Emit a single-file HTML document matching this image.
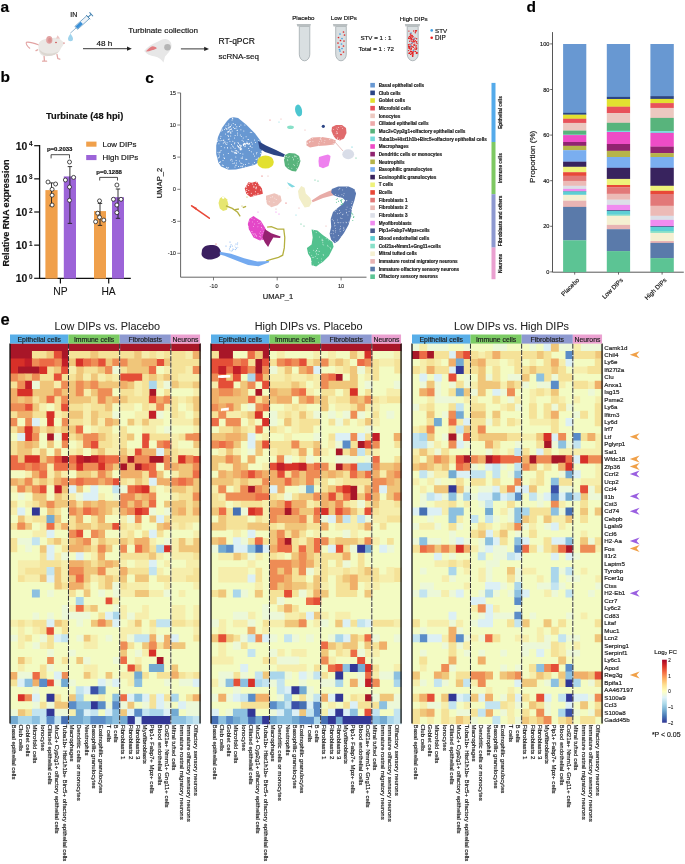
<!DOCTYPE html>
<html><head><meta charset="utf-8"><style>
html,body{margin:0;padding:0;background:#fff;}
body{width:685px;height:864px;overflow:hidden;}
svg{display:block;font-family:"Liberation Sans", sans-serif;will-change:transform;}
text{stroke:#1a1a1a;stroke-width:0.18px;}
</style></head><body>
<svg width="685" height="864" viewBox="0 0 685 864">
<text x="0.6" y="11.6" font-size="15.5" font-weight="bold" fill="#000">a</text>
<path d="M39 45 C35 43.5 30 41.5 26.5 42.3 C25.4 43.2 27.3 46.4 29.7 48.2" fill="none" stroke="#e2a2a2" stroke-width="1.1" stroke-linecap="round"/>
<path d="M44 55 L44.4 60.4 M42.6 61.2 L46.6 61.2 M57 54.5 L57.8 58.6 L59.8 59.2 M37.6 49.8 L36 50.6" fill="none" stroke="#e3a9a7" stroke-width="1.3" stroke-linecap="round"/>
<path d="M38.5 46 C38.5 42 41 40.2 44 39.6 C47 38.2 52 37.5 55.5 37.7 C59 38 62 40.5 64.3 43 C63.2 45.5 61.6 47 60.6 49 C59.5 52 56 55 51 55.6 C47 56.6 42.3 56.6 40.2 53.7 C38.8 51.6 38.3 49 38.5 46Z" fill="#ebe8e5"/>
<path d="M39 49 C40 53 43 56 48 56 C53 56 57 54 59.5 51 C56 53 50 54.5 45 53 C42 52 40 50.5 39 49Z" fill="#dcd7d1"/>
<path d="M56 38.4 L57.6 35.3 L60.2 38.8 Z" fill="#ecc6c4"/>
<ellipse cx="49.3" cy="39.9" rx="3.1" ry="3.8" fill="#e2a3a3"/>
<ellipse cx="49.8" cy="40.2" rx="1.7" ry="2.5" fill="#d99090"/>
<circle cx="56" cy="42.4" r="0.75" fill="#c83232"/>
<circle cx="64" cy="43.1" r="0.85" fill="#e6a0a0"/>
<g transform="translate(70.3,33.2) rotate(-42)"><line x1="0" y1="0" x2="8" y2="0" stroke="#5b8fb5" stroke-width="0.6"/><rect x="8" y="-2" width="16" height="4" fill="#eef3f8" stroke="#3f7fae" stroke-width="0.6"/><rect x="8.4" y="-1.6" width="7" height="3.2" fill="#3a90d8"/><line x1="24" y1="0" x2="28" y2="0" stroke="#3f7fae" stroke-width="1"/><line x1="24" y1="-2.8" x2="24" y2="2.8" stroke="#3f7fae" stroke-width="0.9"/><line x1="28.2" y1="-2.6" x2="28.2" y2="2.6" stroke="#3f7fae" stroke-width="1"/></g>
<path d="M70.5 33.8 C69 36 68 37.5 68 38.8 A2.5 2.5 0 0 0 73 38.8 C73 37.5 72 36 70.5 33.8Z" fill="#9fd3ec"/>
<text x="70.2" y="17.3" font-size="7" fill="#111">IN</text>
<line x1="83" y1="48.7" x2="128.5" y2="48.7" stroke="#222" stroke-width="0.9"/>
<path d="M131.8 48.7 L127 46.6 L127 50.8 Z" fill="#222"/>
<text x="96.4" y="45.9" font-size="8.1" fill="#111">48 h</text>
<text x="128.2" y="32.6" font-size="8.1" fill="#111">Turbinate collection</text>
<path d="M144.2 51 C147 47 152 44.3 157 42 C160 40.5 162 39.2 165.5 39 C169 39.5 171.5 42 171.5 45.5 C171.5 49.5 168.5 53 165 56.5 L163.5 62.5 C161 59 158.5 57 155 56.5 C150 56 146.5 54 144.2 51Z" fill="#e7e7e7"/>
<path d="M146.2 51 C148.5 48.5 151 46.5 152.5 46.3 C154.5 46.4 156.7 47.4 156.7 48.4 C154 49.7 150 51 146.2 51.6Z" fill="#e27c80"/>
<circle cx="167.5" cy="47.2" r="3.3" fill="#b5b5b5"/>
<line x1="180.9" y1="48.9" x2="205.5" y2="48.9" stroke="#222" stroke-width="0.9"/>
<path d="M209 48.9 L204.2 46.8 L204.2 51 Z" fill="#222"/>
<text x="218.6" y="44.2" font-size="8.5" fill="#111">RT-qPCR</text>
<text x="218.4" y="58.5" font-size="8.0" fill="#111">scRNA-seq</text>
<path d="M299.3 26.5 L299.3 54.25 A5.25 6.5625 0 0 0 309.8 54.25 L309.8 26.5 Z" fill="#d9dfe1" stroke="#9ea6a9" stroke-width="0.75"/>
<path d="M296.7 24 L310.9 24 L310.29999999999995 26.6 L297.3 26.6 Z" fill="#b9bfc1"/>
<path d="M335.7 26.5 L335.7 54.19999999999999 A5.300000000000011 6.625000000000014 0 0 0 346.3 54.19999999999999 L346.3 26.5 Z" fill="#d9dfe1" stroke="#9ea6a9" stroke-width="0.75"/>
<path d="M332.9 24 L347.5 24 L346.9 26.6 L333.5 26.6 Z" fill="#b9bfc1"/>
<path d="M407.2 26.5 L407.2 53.9 A5.5 6.875 0 0 0 418.2 53.9 L418.2 26.5 Z" fill="#d9dfe1" stroke="#9ea6a9" stroke-width="0.75"/>
<path d="M404.8 24 L420.1 24 L419.5 26.6 L405.40000000000003 26.6 Z" fill="#b9bfc1"/>
<circle cx="343.5" cy="32" r="0.85" fill="#e02828"/>
<circle cx="340" cy="34" r="0.85" fill="#4aa0e0"/>
<circle cx="344.5" cy="35" r="0.85" fill="#e02828"/>
<circle cx="338.5" cy="37.5" r="0.85" fill="#e02828"/>
<circle cx="342" cy="38.5" r="0.85" fill="#4aa0e0"/>
<circle cx="340.5" cy="40.5" r="0.85" fill="#e02828"/>
<circle cx="344" cy="41" r="0.85" fill="#e02828"/>
<circle cx="338" cy="43" r="0.85" fill="#e02828"/>
<circle cx="341.5" cy="44" r="0.85" fill="#4aa0e0"/>
<circle cx="343.5" cy="46" r="0.85" fill="#e02828"/>
<circle cx="339" cy="47" r="0.85" fill="#e02828"/>
<circle cx="342" cy="48.5" r="0.85" fill="#4aa0e0"/>
<circle cx="340" cy="51" r="0.85" fill="#4aa0e0"/>
<circle cx="343.5" cy="52" r="0.85" fill="#e02828"/>
<circle cx="341" cy="54.5" r="0.85" fill="#e02828"/>
<circle cx="339.5" cy="49.5" r="0.85" fill="#4aa0e0"/>
<circle cx="413.1" cy="36.7" r="0.72" fill="#e42222"/>
<circle cx="413.6" cy="40.1" r="0.72" fill="#e42222"/>
<circle cx="409.0" cy="46.8" r="0.72" fill="#e42222"/>
<circle cx="415.6" cy="30.8" r="0.72" fill="#e42222"/>
<circle cx="410.4" cy="37.2" r="0.72" fill="#e42222"/>
<circle cx="412.6" cy="56.4" r="0.72" fill="#e42222"/>
<circle cx="412.5" cy="52.2" r="0.72" fill="#e42222"/>
<circle cx="409.7" cy="47.1" r="0.72" fill="#e42222"/>
<circle cx="415.9" cy="47.0" r="0.72" fill="#e42222"/>
<circle cx="414.8" cy="44.1" r="0.72" fill="#e42222"/>
<circle cx="409.0" cy="48.0" r="0.72" fill="#e42222"/>
<circle cx="413.5" cy="50.2" r="0.72" fill="#e42222"/>
<circle cx="408.7" cy="38.3" r="0.72" fill="#e42222"/>
<circle cx="412.5" cy="53.0" r="0.72" fill="#e42222"/>
<circle cx="416.0" cy="49.2" r="0.72" fill="#e42222"/>
<circle cx="416.3" cy="49.1" r="0.72" fill="#e42222"/>
<circle cx="415.3" cy="40.8" r="0.72" fill="#e42222"/>
<circle cx="416.4" cy="42.1" r="0.72" fill="#e42222"/>
<circle cx="409.5" cy="53.4" r="0.72" fill="#e42222"/>
<circle cx="410.3" cy="34.0" r="0.72" fill="#e42222"/>
<circle cx="412.5" cy="55.6" r="0.72" fill="#e42222"/>
<circle cx="411.0" cy="46.8" r="0.72" fill="#e42222"/>
<circle cx="411.7" cy="43.7" r="0.72" fill="#e42222"/>
<circle cx="413.4" cy="39.6" r="0.72" fill="#e42222"/>
<circle cx="416.2" cy="45.7" r="0.72" fill="#e42222"/>
<circle cx="416.4" cy="48.2" r="0.72" fill="#e42222"/>
<circle cx="416.9" cy="52.8" r="0.72" fill="#e42222"/>
<circle cx="409.8" cy="48.0" r="0.72" fill="#e42222"/>
<circle cx="416.7" cy="52.9" r="0.72" fill="#e42222"/>
<circle cx="413.2" cy="54.0" r="0.72" fill="#e42222"/>
<circle cx="410.2" cy="49.1" r="0.72" fill="#e42222"/>
<circle cx="413.3" cy="52.1" r="0.72" fill="#e42222"/>
<circle cx="408.9" cy="37.9" r="0.72" fill="#e42222"/>
<circle cx="416.9" cy="52.7" r="0.72" fill="#e42222"/>
<circle cx="415.3" cy="32.8" r="0.72" fill="#e42222"/>
<circle cx="409.7" cy="41.2" r="0.72" fill="#e42222"/>
<circle cx="415.0" cy="38.1" r="0.72" fill="#e42222"/>
<circle cx="408.9" cy="53.2" r="0.72" fill="#e42222"/>
<circle cx="408.8" cy="46.5" r="0.72" fill="#e42222"/>
<circle cx="411.2" cy="49.2" r="0.72" fill="#e42222"/>
<circle cx="416.5" cy="53.4" r="0.72" fill="#e42222"/>
<circle cx="417.0" cy="43.6" r="0.72" fill="#e42222"/>
<circle cx="409.1" cy="38.6" r="0.72" fill="#e42222"/>
<circle cx="408.7" cy="46.1" r="0.72" fill="#e42222"/>
<circle cx="411.9" cy="35.6" r="0.72" fill="#e42222"/>
<circle cx="409.7" cy="46.4" r="0.72" fill="#e42222"/>
<circle cx="415.9" cy="31.6" r="0.72" fill="#e42222"/>
<circle cx="416.6" cy="38.7" r="0.72" fill="#e42222"/>
<circle cx="411.8" cy="53.8" r="0.72" fill="#e42222"/>
<circle cx="412.9" cy="42.5" r="0.72" fill="#e42222"/>
<circle cx="413.5" cy="47.2" r="0.72" fill="#e42222"/>
<circle cx="413.7" cy="45.0" r="0.72" fill="#e42222"/>
<circle cx="412.7" cy="55.0" r="0.72" fill="#e42222"/>
<circle cx="414.6" cy="41.7" r="0.72" fill="#e42222"/>
<circle cx="411.0" cy="36.7" r="0.72" fill="#e42222"/>
<circle cx="412.8" cy="55.9" r="0.72" fill="#e42222"/>
<circle cx="408.5" cy="44.8" r="0.72" fill="#e42222"/>
<circle cx="413.4" cy="41.3" r="0.72" fill="#e42222"/>
<circle cx="413.7" cy="31.0" r="0.72" fill="#e42222"/>
<circle cx="408.9" cy="46.9" r="0.72" fill="#e42222"/>
<circle cx="412.4" cy="46.8" r="0.72" fill="#e42222"/>
<circle cx="411.4" cy="48.2" r="0.72" fill="#e42222"/>
<circle cx="414.7" cy="48.9" r="0.72" fill="#e42222"/>
<circle cx="408.9" cy="31.1" r="0.72" fill="#e42222"/>
<circle cx="416.7" cy="48.1" r="0.72" fill="#e42222"/>
<circle cx="412.3" cy="37.0" r="0.72" fill="#e42222"/>
<circle cx="411.2" cy="45.9" r="0.72" fill="#e42222"/>
<circle cx="411.1" cy="40.0" r="0.72" fill="#e42222"/>
<circle cx="413.5" cy="40.1" r="0.72" fill="#e42222"/>
<circle cx="411.6" cy="38.3" r="0.72" fill="#e42222"/>
<circle cx="408.6" cy="50.6" r="0.72" fill="#e42222"/>
<circle cx="414.7" cy="45.3" r="0.72" fill="#e42222"/>
<circle cx="410.3" cy="38.6" r="0.72" fill="#e42222"/>
<circle cx="410.5" cy="51.4" r="0.72" fill="#e42222"/>
<circle cx="412.1" cy="35.4" r="0.72" fill="#e42222"/>
<circle cx="409.3" cy="48.6" r="0.72" fill="#e42222"/>
<circle cx="411.3" cy="38.9" r="0.72" fill="#e42222"/>
<circle cx="412.2" cy="52.2" r="0.72" fill="#e42222"/>
<circle cx="409.9" cy="52.7" r="0.72" fill="#e42222"/>
<circle cx="414.0" cy="39.3" r="0.72" fill="#e42222"/>
<circle cx="412.3" cy="53.5" r="0.72" fill="#e42222"/>
<circle cx="409.4" cy="36.4" r="0.72" fill="#e42222"/>
<circle cx="410.0" cy="44.3" r="0.72" fill="#e42222"/>
<circle cx="415.6" cy="51.5" r="0.72" fill="#e42222"/>
<circle cx="410.8" cy="35.3" r="0.72" fill="#e42222"/>
<circle cx="413.9" cy="51.5" r="0.72" fill="#e42222"/>
<circle cx="411.4" cy="51.5" r="0.72" fill="#e42222"/>
<circle cx="410.9" cy="33.9" r="0.72" fill="#e42222"/>
<circle cx="410.7" cy="51.1" r="0.72" fill="#e42222"/>
<circle cx="412.0" cy="39.5" r="0.72" fill="#e42222"/>
<circle cx="411.9" cy="41.4" r="0.72" fill="#e42222"/>
<circle cx="410.6" cy="54.4" r="0.72" fill="#e42222"/>
<circle cx="416.5" cy="30.6" r="0.72" fill="#e42222"/>
<circle cx="416.6" cy="53.4" r="0.72" fill="#e42222"/>
<circle cx="416.6" cy="41.8" r="0.72" fill="#e42222"/>
<circle cx="411" cy="33" r="0.75" fill="#4aa0e0"/>
<circle cx="414" cy="39" r="0.75" fill="#4aa0e0"/>
<circle cx="410.5" cy="46" r="0.75" fill="#4aa0e0"/>
<circle cx="413.5" cy="50.5" r="0.75" fill="#4aa0e0"/>
<circle cx="412" cy="43" r="0.75" fill="#4aa0e0"/>
<text x="292.2" y="20.3" font-size="6.2" fill="#111">Placebo</text>
<text x="330.8" y="20.3" font-size="6.1" fill="#111">Low DIPs</text>
<text x="399.8" y="20.6" font-size="6.2" fill="#111">High DIPs</text>
<text x="360.4" y="40.0" font-size="6.2" fill="#111">STV = 1 : 1</text>
<text x="358.4" y="51.0" font-size="6.2" fill="#111">Total = 1 : 72</text>
<circle cx="431.7" cy="30.4" r="1.3" fill="#3fa2e6"/>
<circle cx="431.7" cy="37.7" r="1.3" fill="#e82020"/>
<text x="435" y="32.7" font-size="6.2" fill="#111">STV</text>
<text x="435" y="40.0" font-size="6.4" fill="#111">DIP</text>
<text x="0.6" y="82.2" font-size="15.5" font-weight="bold" fill="#000">b</text>
<text x="46" y="118.7" font-size="9.3" font-weight="bold" fill="#111">Turbinate (48 hpi)</text>
<text transform="translate(9.1,213) rotate(-90)" font-size="9.07" font-weight="bold" text-anchor="middle" fill="#111">Relative RNA expression</text>
<path d="M39.6 145.0 V278.3 H130.8" fill="none" stroke="#111" stroke-width="1.3"/>
<line x1="34.2" y1="145.70" x2="39.6" y2="145.70" stroke="#111" stroke-width="1.2"/>
<text x="27.3" y="149.60" font-size="10.4" font-weight="bold" text-anchor="end" fill="#111" style="stroke-width:0.1px">10</text>
<text x="28.9" y="146.30" font-size="6.4" font-weight="bold" fill="#111" style="stroke-width:0.1px">4</text>
<line x1="34.2" y1="178.85" x2="39.6" y2="178.85" stroke="#111" stroke-width="1.2"/>
<text x="27.3" y="182.75" font-size="10.4" font-weight="bold" text-anchor="end" fill="#111" style="stroke-width:0.1px">10</text>
<text x="28.9" y="179.45" font-size="6.4" font-weight="bold" fill="#111" style="stroke-width:0.1px">3</text>
<line x1="34.2" y1="212.00" x2="39.6" y2="212.00" stroke="#111" stroke-width="1.2"/>
<text x="27.3" y="215.90" font-size="10.4" font-weight="bold" text-anchor="end" fill="#111" style="stroke-width:0.1px">10</text>
<text x="28.9" y="212.60" font-size="6.4" font-weight="bold" fill="#111" style="stroke-width:0.1px">2</text>
<line x1="34.2" y1="245.15" x2="39.6" y2="245.15" stroke="#111" stroke-width="1.2"/>
<text x="27.3" y="249.05" font-size="10.4" font-weight="bold" text-anchor="end" fill="#111" style="stroke-width:0.1px">10</text>
<text x="28.9" y="245.75" font-size="6.4" font-weight="bold" fill="#111" style="stroke-width:0.1px">1</text>
<line x1="34.2" y1="278.30" x2="39.6" y2="278.30" stroke="#111" stroke-width="1.2"/>
<text x="27.3" y="282.20" font-size="10.4" font-weight="bold" text-anchor="end" fill="#111" style="stroke-width:0.1px">10</text>
<text x="28.9" y="278.90" font-size="6.4" font-weight="bold" fill="#111" style="stroke-width:0.1px">0</text>
<line x1="60.4" y1="278.3" x2="60.4" y2="283.6" stroke="#111" stroke-width="1.2"/>
<line x1="108.7" y1="278.3" x2="108.7" y2="283.6" stroke="#111" stroke-width="1.2"/>
<text x="60.5" y="294.6" font-size="10.3" text-anchor="middle" fill="#111" style="stroke-width:0.06px">NP</text>
<text x="108.6" y="294.6" font-size="10.3" text-anchor="middle" fill="#111" style="stroke-width:0.06px">HA</text>
<rect x="45.4" y="190.1" width="12.2" height="88.5" fill="#f0a04b"/>
<rect x="63.8" y="176.4" width="12.2" height="102.2" fill="#9c64d8"/>
<rect x="94" y="211.1" width="12" height="67.5" fill="#f0a04b"/>
<rect x="112" y="197.2" width="12" height="81.4" fill="#9c64d8"/>
<path d="M51.5 182.9 V205.8 M49.3 182.9 H53.7 M49.3 205.8 H53.7" stroke="#222" stroke-width="0.9" fill="none"/>
<path d="M69.9 166.6 V223.4 M67.7 166.6 H72.10000000000001 M67.7 223.4 H72.10000000000001" stroke="#222" stroke-width="0.9" fill="none"/>
<path d="M100 203.4 V225.4 M97.8 203.4 H102.2 M97.8 225.4 H102.2" stroke="#222" stroke-width="0.9" fill="none"/>
<path d="M118 189 V218.3 M115.8 189 H120.2 M115.8 218.3 H120.2" stroke="#222" stroke-width="0.9" fill="none"/>
<circle cx="48" cy="182" r="2.0" fill="#fff" stroke="#222" stroke-width="0.8"/>
<circle cx="55.6" cy="184" r="2.0" fill="#fff" stroke="#222" stroke-width="0.8"/>
<circle cx="52.1" cy="189.3" r="2.0" fill="#fff" stroke="#222" stroke-width="0.8"/>
<circle cx="52.1" cy="195.2" r="2.0" fill="#fff" stroke="#222" stroke-width="0.8"/>
<circle cx="52.1" cy="205" r="2.0" fill="#fff" stroke="#222" stroke-width="0.8"/>
<circle cx="69.5" cy="162" r="2.0" fill="#fff" stroke="#222" stroke-width="0.8"/>
<circle cx="65.4" cy="180" r="2.0" fill="#fff" stroke="#222" stroke-width="0.8"/>
<circle cx="73.6" cy="177.4" r="2.0" fill="#fff" stroke="#222" stroke-width="0.8"/>
<circle cx="69.5" cy="187" r="2.0" fill="#fff" stroke="#222" stroke-width="0.8"/>
<circle cx="69.5" cy="200.3" r="2.0" fill="#fff" stroke="#222" stroke-width="0.8"/>
<circle cx="99.5" cy="200.9" r="2.0" fill="#fff" stroke="#222" stroke-width="0.8"/>
<circle cx="97.7" cy="213.2" r="2.0" fill="#fff" stroke="#222" stroke-width="0.8"/>
<circle cx="99.5" cy="217.3" r="2.0" fill="#fff" stroke="#222" stroke-width="0.8"/>
<circle cx="95.6" cy="221.7" r="2.0" fill="#fff" stroke="#222" stroke-width="0.8"/>
<circle cx="103.8" cy="220.1" r="2.0" fill="#fff" stroke="#222" stroke-width="0.8"/>
<circle cx="116.9" cy="185" r="2.0" fill="#fff" stroke="#222" stroke-width="0.8"/>
<circle cx="113.4" cy="199.3" r="2.0" fill="#fff" stroke="#222" stroke-width="0.8"/>
<circle cx="121" cy="199.3" r="2.0" fill="#fff" stroke="#222" stroke-width="0.8"/>
<circle cx="116.9" cy="205" r="2.0" fill="#fff" stroke="#222" stroke-width="0.8"/>
<circle cx="116.9" cy="212.6" r="2.0" fill="#fff" stroke="#222" stroke-width="0.8"/>
<path d="M51.1 158.4 V154.7 H69.5 V158.4" fill="none" stroke="#222" stroke-width="0.8"/>
<path d="M99.7 180.5 V177.4 H117.5 V180.5" fill="none" stroke="#222" stroke-width="0.8"/>
<text x="59.7" y="151.3" font-size="6.0" font-weight="bold" text-anchor="middle" fill="#111">p=0.2033</text>
<text x="109.1" y="173.8" font-size="6.0" font-weight="bold" text-anchor="middle" fill="#111">p=0.1288</text>
<rect x="86.2" y="141.6" width="10.3" height="5.1" fill="#f0a04b"/>
<rect x="86.2" y="155" width="10.3" height="5.1" fill="#9c64d8"/>
<text x="102.6" y="146.8" font-size="7.9" fill="#111">Low DIPs</text>
<text x="102.6" y="160.1" font-size="7.9" fill="#111">High DIPs</text>
<text x="145.3" y="82.5" font-size="15.5" font-weight="bold" fill="#000">c</text>
<path d="M180.6 92.9 V277.2 H366.5" fill="none" stroke="#555" stroke-width="0.9"/>
<line x1="177.3" y1="92.9" x2="180.6" y2="92.9" stroke="#555" stroke-width="0.75"/>
<text x="176.0" y="94.9" font-size="5.7" text-anchor="end" fill="#222" style="stroke-width:0.1px">15</text>
<line x1="177.3" y1="125.0" x2="180.6" y2="125.0" stroke="#555" stroke-width="0.75"/>
<text x="176.0" y="127.0" font-size="5.7" text-anchor="end" fill="#222" style="stroke-width:0.1px">10</text>
<line x1="177.3" y1="157.1" x2="180.6" y2="157.1" stroke="#555" stroke-width="0.75"/>
<text x="176.0" y="159.1" font-size="5.7" text-anchor="end" fill="#222" style="stroke-width:0.1px">5</text>
<line x1="177.3" y1="189.3" x2="180.6" y2="189.3" stroke="#555" stroke-width="0.75"/>
<text x="176.0" y="191.3" font-size="5.7" text-anchor="end" fill="#222" style="stroke-width:0.1px">0</text>
<line x1="177.3" y1="221.3" x2="180.6" y2="221.3" stroke="#555" stroke-width="0.75"/>
<text x="176.0" y="223.3" font-size="5.7" text-anchor="end" fill="#222" style="stroke-width:0.1px">-5</text>
<line x1="177.3" y1="253.3" x2="180.6" y2="253.3" stroke="#555" stroke-width="0.75"/>
<text x="176.0" y="255.3" font-size="5.7" text-anchor="end" fill="#222" style="stroke-width:0.1px">-10</text>
<line x1="213.5" y1="277.2" x2="213.5" y2="280.4" stroke="#555" stroke-width="0.75"/>
<text x="213.5" y="287.6" font-size="5.7" text-anchor="middle" fill="#222" style="stroke-width:0.1px">-10</text>
<line x1="277.2" y1="277.2" x2="277.2" y2="280.4" stroke="#555" stroke-width="0.75"/>
<text x="277.2" y="287.6" font-size="5.7" text-anchor="middle" fill="#222" style="stroke-width:0.1px">0</text>
<line x1="341.1" y1="277.2" x2="341.1" y2="280.4" stroke="#555" stroke-width="0.75"/>
<text x="341.1" y="287.6" font-size="5.7" text-anchor="middle" fill="#222" style="stroke-width:0.1px">10</text>
<text x="278" y="298.8" font-size="7.6" text-anchor="middle" fill="#222">UMAP_1</text>
<text transform="translate(162.3,183) rotate(-90)" font-size="7.6" text-anchor="middle" fill="#222">UMAP_2</text>
<path d="M233.7 117.2 L238.1 117.9 L246.1 124.5 L254.9 133.2 L260.7 141 L263 147 L261 155 L259 162 L254.9 164.7 L244.7 167.6 L236 169.5 L228.6 169.7 L221 166.5 L218.4 162.4 L216.2 154 L216.2 145.7 L218 137 L222 128 L227 121 L230 118Z" fill="#6898d2"/>
<path d="M230.9 125.1a0.5 0.5 0 1 0 1.0 0a0.5 0.5 0 1 0 -1.0 0M240.8 136.4a0.5 0.5 0 1 0 1.0 0a0.5 0.5 0 1 0 -1.0 0M218.4 143.8a0.5 0.5 0 1 0 1.0 0a0.5 0.5 0 1 0 -1.0 0M217.5 140.0a0.5 0.5 0 1 0 1.0 0a0.5 0.5 0 1 0 -1.0 0M235.6 160.6a0.5 0.5 0 1 0 1.0 0a0.5 0.5 0 1 0 -1.0 0M221.5 128.9a0.5 0.5 0 1 0 1.0 0a0.5 0.5 0 1 0 -1.0 0M245.1 167.0a0.5 0.5 0 1 0 1.0 0a0.5 0.5 0 1 0 -1.0 0M242.7 138.0a0.5 0.5 0 1 0 1.0 0a0.5 0.5 0 1 0 -1.0 0M230.1 160.0a0.5 0.5 0 1 0 1.0 0a0.5 0.5 0 1 0 -1.0 0M224.2 147.7a0.5 0.5 0 1 0 1.0 0a0.5 0.5 0 1 0 -1.0 0M245.6 136.8a0.5 0.5 0 1 0 1.0 0a0.5 0.5 0 1 0 -1.0 0M247.5 139.6a0.5 0.5 0 1 0 1.0 0a0.5 0.5 0 1 0 -1.0 0M230.4 147.9a0.5 0.5 0 1 0 1.0 0a0.5 0.5 0 1 0 -1.0 0M236.9 132.9a0.5 0.5 0 1 0 1.0 0a0.5 0.5 0 1 0 -1.0 0M252.9 153.9a0.5 0.5 0 1 0 1.0 0a0.5 0.5 0 1 0 -1.0 0M227.1 147.4a0.5 0.5 0 1 0 1.0 0a0.5 0.5 0 1 0 -1.0 0M240.3 163.1a0.5 0.5 0 1 0 1.0 0a0.5 0.5 0 1 0 -1.0 0M249.8 132.3a0.5 0.5 0 1 0 1.0 0a0.5 0.5 0 1 0 -1.0 0M235.3 156.9a0.5 0.5 0 1 0 1.0 0a0.5 0.5 0 1 0 -1.0 0M222.8 142.9a0.5 0.5 0 1 0 1.0 0a0.5 0.5 0 1 0 -1.0 0M217.5 152.3a0.5 0.5 0 1 0 1.0 0a0.5 0.5 0 1 0 -1.0 0M251.5 147.3a0.5 0.5 0 1 0 1.0 0a0.5 0.5 0 1 0 -1.0 0M248.2 148.4a0.5 0.5 0 1 0 1.0 0a0.5 0.5 0 1 0 -1.0 0M242.8 141.2a0.5 0.5 0 1 0 1.0 0a0.5 0.5 0 1 0 -1.0 0M237.9 152.1a0.5 0.5 0 1 0 1.0 0a0.5 0.5 0 1 0 -1.0 0M218.5 154.0a0.5 0.5 0 1 0 1.0 0a0.5 0.5 0 1 0 -1.0 0M233.8 152.3a0.5 0.5 0 1 0 1.0 0a0.5 0.5 0 1 0 -1.0 0M216.8 141.4a0.5 0.5 0 1 0 1.0 0a0.5 0.5 0 1 0 -1.0 0M218.5 157.5a0.5 0.5 0 1 0 1.0 0a0.5 0.5 0 1 0 -1.0 0M221.8 130.2a0.5 0.5 0 1 0 1.0 0a0.5 0.5 0 1 0 -1.0 0M234.0 162.9a0.5 0.5 0 1 0 1.0 0a0.5 0.5 0 1 0 -1.0 0M219.5 140.8a0.5 0.5 0 1 0 1.0 0a0.5 0.5 0 1 0 -1.0 0M241.4 163.6a0.5 0.5 0 1 0 1.0 0a0.5 0.5 0 1 0 -1.0 0M254.0 162.6a0.5 0.5 0 1 0 1.0 0a0.5 0.5 0 1 0 -1.0 0M228.7 139.0a0.5 0.5 0 1 0 1.0 0a0.5 0.5 0 1 0 -1.0 0M232.5 163.6a0.5 0.5 0 1 0 1.0 0a0.5 0.5 0 1 0 -1.0 0M223.9 129.4a0.5 0.5 0 1 0 1.0 0a0.5 0.5 0 1 0 -1.0 0M226.6 142.7a0.5 0.5 0 1 0 1.0 0a0.5 0.5 0 1 0 -1.0 0M243.3 131.0a0.5 0.5 0 1 0 1.0 0a0.5 0.5 0 1 0 -1.0 0M233.0 146.9a0.5 0.5 0 1 0 1.0 0a0.5 0.5 0 1 0 -1.0 0M260.3 153.5a0.5 0.5 0 1 0 1.0 0a0.5 0.5 0 1 0 -1.0 0M239.8 149.6a0.5 0.5 0 1 0 1.0 0a0.5 0.5 0 1 0 -1.0 0M257.8 158.1a0.5 0.5 0 1 0 1.0 0a0.5 0.5 0 1 0 -1.0 0M256.6 159.1a0.5 0.5 0 1 0 1.0 0a0.5 0.5 0 1 0 -1.0 0M234.1 138.1a0.5 0.5 0 1 0 1.0 0a0.5 0.5 0 1 0 -1.0 0M220.5 150.5a0.5 0.5 0 1 0 1.0 0a0.5 0.5 0 1 0 -1.0 0M225.5 125.7a0.5 0.5 0 1 0 1.0 0a0.5 0.5 0 1 0 -1.0 0M231.6 120.0a0.5 0.5 0 1 0 1.0 0a0.5 0.5 0 1 0 -1.0 0M220.4 136.3a0.5 0.5 0 1 0 1.0 0a0.5 0.5 0 1 0 -1.0 0M244.4 125.0a0.5 0.5 0 1 0 1.0 0a0.5 0.5 0 1 0 -1.0 0M227.5 135.4a0.5 0.5 0 1 0 1.0 0a0.5 0.5 0 1 0 -1.0 0M232.7 123.6a0.5 0.5 0 1 0 1.0 0a0.5 0.5 0 1 0 -1.0 0M237.5 142.6a0.5 0.5 0 1 0 1.0 0a0.5 0.5 0 1 0 -1.0 0M231.7 131.1a0.5 0.5 0 1 0 1.0 0a0.5 0.5 0 1 0 -1.0 0M240.4 124.9a0.5 0.5 0 1 0 1.0 0a0.5 0.5 0 1 0 -1.0 0M256.1 153.8a0.5 0.5 0 1 0 1.0 0a0.5 0.5 0 1 0 -1.0 0M227.9 136.5a0.5 0.5 0 1 0 1.0 0a0.5 0.5 0 1 0 -1.0 0M223.5 157.7a0.5 0.5 0 1 0 1.0 0a0.5 0.5 0 1 0 -1.0 0M240.6 158.1a0.5 0.5 0 1 0 1.0 0a0.5 0.5 0 1 0 -1.0 0M231.1 128.9a0.5 0.5 0 1 0 1.0 0a0.5 0.5 0 1 0 -1.0 0M255.6 159.5a0.5 0.5 0 1 0 1.0 0a0.5 0.5 0 1 0 -1.0 0M254.0 156.0a0.5 0.5 0 1 0 1.0 0a0.5 0.5 0 1 0 -1.0 0M226.3 144.4a0.5 0.5 0 1 0 1.0 0a0.5 0.5 0 1 0 -1.0 0M232.3 118.7a0.5 0.5 0 1 0 1.0 0a0.5 0.5 0 1 0 -1.0 0M227.8 153.6a0.5 0.5 0 1 0 1.0 0a0.5 0.5 0 1 0 -1.0 0M226.0 129.1a0.5 0.5 0 1 0 1.0 0a0.5 0.5 0 1 0 -1.0 0M224.9 127.9a0.5 0.5 0 1 0 1.0 0a0.5 0.5 0 1 0 -1.0 0M244.9 164.5a0.5 0.5 0 1 0 1.0 0a0.5 0.5 0 1 0 -1.0 0M255.0 142.4a0.5 0.5 0 1 0 1.0 0a0.5 0.5 0 1 0 -1.0 0M246.3 159.2a0.5 0.5 0 1 0 1.0 0a0.5 0.5 0 1 0 -1.0 0M219.7 151.9a0.5 0.5 0 1 0 1.0 0a0.5 0.5 0 1 0 -1.0 0M258.3 158.3a0.5 0.5 0 1 0 1.0 0a0.5 0.5 0 1 0 -1.0 0M250.8 142.3a0.5 0.5 0 1 0 1.0 0a0.5 0.5 0 1 0 -1.0 0M224.1 158.6a0.5 0.5 0 1 0 1.0 0a0.5 0.5 0 1 0 -1.0 0M231.3 159.2a0.5 0.5 0 1 0 1.0 0a0.5 0.5 0 1 0 -1.0 0M234.5 166.9a0.5 0.5 0 1 0 1.0 0a0.5 0.5 0 1 0 -1.0 0M258.0 159.5a0.5 0.5 0 1 0 1.0 0a0.5 0.5 0 1 0 -1.0 0M222.5 160.6a0.5 0.5 0 1 0 1.0 0a0.5 0.5 0 1 0 -1.0 0M232.1 146.0a0.5 0.5 0 1 0 1.0 0a0.5 0.5 0 1 0 -1.0 0M261.1 151.3a0.5 0.5 0 1 0 1.0 0a0.5 0.5 0 1 0 -1.0 0M240.3 166.2a0.5 0.5 0 1 0 1.0 0a0.5 0.5 0 1 0 -1.0 0M236.0 163.0a0.5 0.5 0 1 0 1.0 0a0.5 0.5 0 1 0 -1.0 0M227.5 132.6a0.5 0.5 0 1 0 1.0 0a0.5 0.5 0 1 0 -1.0 0M227.0 148.0a0.5 0.5 0 1 0 1.0 0a0.5 0.5 0 1 0 -1.0 0M227.8 139.2a0.5 0.5 0 1 0 1.0 0a0.5 0.5 0 1 0 -1.0 0M221.8 165.0a0.5 0.5 0 1 0 1.0 0a0.5 0.5 0 1 0 -1.0 0M232.3 141.3a0.5 0.5 0 1 0 1.0 0a0.5 0.5 0 1 0 -1.0 0M243.0 164.7a0.5 0.5 0 1 0 1.0 0a0.5 0.5 0 1 0 -1.0 0M235.4 165.4a0.5 0.5 0 1 0 1.0 0a0.5 0.5 0 1 0 -1.0 0M239.2 145.1a0.5 0.5 0 1 0 1.0 0a0.5 0.5 0 1 0 -1.0 0M236.3 126.8a0.5 0.5 0 1 0 1.0 0a0.5 0.5 0 1 0 -1.0 0M223.8 142.1a0.5 0.5 0 1 0 1.0 0a0.5 0.5 0 1 0 -1.0 0M249.6 146.4a0.5 0.5 0 1 0 1.0 0a0.5 0.5 0 1 0 -1.0 0M231.0 144.4a0.5 0.5 0 1 0 1.0 0a0.5 0.5 0 1 0 -1.0 0M241.7 158.4a0.5 0.5 0 1 0 1.0 0a0.5 0.5 0 1 0 -1.0 0M220.7 146.6a0.5 0.5 0 1 0 1.0 0a0.5 0.5 0 1 0 -1.0 0M227.3 131.7a0.5 0.5 0 1 0 1.0 0a0.5 0.5 0 1 0 -1.0 0M251.8 143.9a0.5 0.5 0 1 0 1.0 0a0.5 0.5 0 1 0 -1.0 0M242.0 157.1a0.5 0.5 0 1 0 1.0 0a0.5 0.5 0 1 0 -1.0 0M258.4 140.5a0.5 0.5 0 1 0 1.0 0a0.5 0.5 0 1 0 -1.0 0M244.4 143.7a0.5 0.5 0 1 0 1.0 0a0.5 0.5 0 1 0 -1.0 0M239.7 153.6a0.5 0.5 0 1 0 1.0 0a0.5 0.5 0 1 0 -1.0 0M236.9 145.2a0.5 0.5 0 1 0 1.0 0a0.5 0.5 0 1 0 -1.0 0M238.1 166.6a0.5 0.5 0 1 0 1.0 0a0.5 0.5 0 1 0 -1.0 0M248.4 163.2a0.5 0.5 0 1 0 1.0 0a0.5 0.5 0 1 0 -1.0 0M241.9 166.7a0.5 0.5 0 1 0 1.0 0a0.5 0.5 0 1 0 -1.0 0M221.4 140.4a0.5 0.5 0 1 0 1.0 0a0.5 0.5 0 1 0 -1.0 0M219.1 152.3a0.5 0.5 0 1 0 1.0 0a0.5 0.5 0 1 0 -1.0 0M252.4 164.3a0.5 0.5 0 1 0 1.0 0a0.5 0.5 0 1 0 -1.0 0M222.9 154.8a0.5 0.5 0 1 0 1.0 0a0.5 0.5 0 1 0 -1.0 0M226.0 167.2a0.5 0.5 0 1 0 1.0 0a0.5 0.5 0 1 0 -1.0 0M234.3 142.8a0.5 0.5 0 1 0 1.0 0a0.5 0.5 0 1 0 -1.0 0M223.3 139.9a0.5 0.5 0 1 0 1.0 0a0.5 0.5 0 1 0 -1.0 0M239.8 135.0a0.5 0.5 0 1 0 1.0 0a0.5 0.5 0 1 0 -1.0 0M224.9 133.9a0.5 0.5 0 1 0 1.0 0a0.5 0.5 0 1 0 -1.0 0M241.6 140.3a0.5 0.5 0 1 0 1.0 0a0.5 0.5 0 1 0 -1.0 0M244.9 144.1a0.5 0.5 0 1 0 1.0 0a0.5 0.5 0 1 0 -1.0 0M220.6 131.1a0.5 0.5 0 1 0 1.0 0a0.5 0.5 0 1 0 -1.0 0M217.6 158.1a0.5 0.5 0 1 0 1.0 0a0.5 0.5 0 1 0 -1.0 0M228.4 124.0a0.5 0.5 0 1 0 1.0 0a0.5 0.5 0 1 0 -1.0 0M235.5 165.0a0.5 0.5 0 1 0 1.0 0a0.5 0.5 0 1 0 -1.0 0M222.7 165.5a0.5 0.5 0 1 0 1.0 0a0.5 0.5 0 1 0 -1.0 0M242.4 154.0a0.5 0.5 0 1 0 1.0 0a0.5 0.5 0 1 0 -1.0 0M247.9 139.5a0.5 0.5 0 1 0 1.0 0a0.5 0.5 0 1 0 -1.0 0M245.4 159.3a0.5 0.5 0 1 0 1.0 0a0.5 0.5 0 1 0 -1.0 0M219.6 162.2a0.5 0.5 0 1 0 1.0 0a0.5 0.5 0 1 0 -1.0 0M218.8 162.5a0.5 0.5 0 1 0 1.0 0a0.5 0.5 0 1 0 -1.0 0M236.9 135.0a0.5 0.5 0 1 0 1.0 0a0.5 0.5 0 1 0 -1.0 0M241.6 165.9a0.5 0.5 0 1 0 1.0 0a0.5 0.5 0 1 0 -1.0 0M228.2 124.0a0.5 0.5 0 1 0 1.0 0a0.5 0.5 0 1 0 -1.0 0M240.4 129.7a0.5 0.5 0 1 0 1.0 0a0.5 0.5 0 1 0 -1.0 0M230.3 133.2a0.5 0.5 0 1 0 1.0 0a0.5 0.5 0 1 0 -1.0 0M251.2 132.4a0.5 0.5 0 1 0 1.0 0a0.5 0.5 0 1 0 -1.0 0M239.1 126.5a0.5 0.5 0 1 0 1.0 0a0.5 0.5 0 1 0 -1.0 0M231.9 118.2a0.5 0.5 0 1 0 1.0 0a0.5 0.5 0 1 0 -1.0 0M250.0 146.1a0.5 0.5 0 1 0 1.0 0a0.5 0.5 0 1 0 -1.0 0M224.6 142.1a0.5 0.5 0 1 0 1.0 0a0.5 0.5 0 1 0 -1.0 0M254.0 139.9a0.5 0.5 0 1 0 1.0 0a0.5 0.5 0 1 0 -1.0 0M238.9 161.0a0.5 0.5 0 1 0 1.0 0a0.5 0.5 0 1 0 -1.0 0M234.1 143.8a0.5 0.5 0 1 0 1.0 0a0.5 0.5 0 1 0 -1.0 0M231.7 160.9a0.5 0.5 0 1 0 1.0 0a0.5 0.5 0 1 0 -1.0 0M248.8 150.6a0.5 0.5 0 1 0 1.0 0a0.5 0.5 0 1 0 -1.0 0M234.6 135.4a0.5 0.5 0 1 0 1.0 0a0.5 0.5 0 1 0 -1.0 0M219.0 156.1a0.5 0.5 0 1 0 1.0 0a0.5 0.5 0 1 0 -1.0 0M227.7 125.8a0.5 0.5 0 1 0 1.0 0a0.5 0.5 0 1 0 -1.0 0M219.7 161.4a0.5 0.5 0 1 0 1.0 0a0.5 0.5 0 1 0 -1.0 0M256.4 152.4a0.5 0.5 0 1 0 1.0 0a0.5 0.5 0 1 0 -1.0 0M228.9 129.9a0.5 0.5 0 1 0 1.0 0a0.5 0.5 0 1 0 -1.0 0M229.4 141.3a0.5 0.5 0 1 0 1.0 0a0.5 0.5 0 1 0 -1.0 0M223.1 140.6a0.5 0.5 0 1 0 1.0 0a0.5 0.5 0 1 0 -1.0 0M228.0 167.7a0.5 0.5 0 1 0 1.0 0a0.5 0.5 0 1 0 -1.0 0M261.2 145.9a0.5 0.5 0 1 0 1.0 0a0.5 0.5 0 1 0 -1.0 0M227.1 167.9a0.5 0.5 0 1 0 1.0 0a0.5 0.5 0 1 0 -1.0 0M230.2 135.9a0.5 0.5 0 1 0 1.0 0a0.5 0.5 0 1 0 -1.0 0M237.9 143.6a0.5 0.5 0 1 0 1.0 0a0.5 0.5 0 1 0 -1.0 0M225.1 143.7a0.5 0.5 0 1 0 1.0 0a0.5 0.5 0 1 0 -1.0 0M219.9 138.2a0.5 0.5 0 1 0 1.0 0a0.5 0.5 0 1 0 -1.0 0M229.9 129.4a0.5 0.5 0 1 0 1.0 0a0.5 0.5 0 1 0 -1.0 0M243.1 145.0a0.5 0.5 0 1 0 1.0 0a0.5 0.5 0 1 0 -1.0 0M250.8 151.7a0.5 0.5 0 1 0 1.0 0a0.5 0.5 0 1 0 -1.0 0" fill="#fff" opacity="1.0"/>
<path d="M232.4 151.8a0.55 0.55 0 1 0 1.1 0a0.55 0.55 0 1 0 -1.1 0M241.1 149.0a0.55 0.55 0 1 0 1.1 0a0.55 0.55 0 1 0 -1.1 0M240.0 147.7a0.55 0.55 0 1 0 1.1 0a0.55 0.55 0 1 0 -1.1 0M244.4 143.9a0.55 0.55 0 1 0 1.1 0a0.55 0.55 0 1 0 -1.1 0M244.3 143.3a0.55 0.55 0 1 0 1.1 0a0.55 0.55 0 1 0 -1.1 0M239.8 145.7a0.55 0.55 0 1 0 1.1 0a0.55 0.55 0 1 0 -1.1 0M239.6 149.7a0.55 0.55 0 1 0 1.1 0a0.55 0.55 0 1 0 -1.1 0M244.6 144.6a0.55 0.55 0 1 0 1.1 0a0.55 0.55 0 1 0 -1.1 0M243.3 144.4a0.55 0.55 0 1 0 1.1 0a0.55 0.55 0 1 0 -1.1 0M240.3 146.8a0.55 0.55 0 1 0 1.1 0a0.55 0.55 0 1 0 -1.1 0M247.4 143.2a0.55 0.55 0 1 0 1.1 0a0.55 0.55 0 1 0 -1.1 0M234.4 153.3a0.55 0.55 0 1 0 1.1 0a0.55 0.55 0 1 0 -1.1 0M234.5 148.3a0.55 0.55 0 1 0 1.1 0a0.55 0.55 0 1 0 -1.1 0M234.8 152.6a0.55 0.55 0 1 0 1.1 0a0.55 0.55 0 1 0 -1.1 0M236.5 151.8a0.55 0.55 0 1 0 1.1 0a0.55 0.55 0 1 0 -1.1 0M246.4 142.1a0.55 0.55 0 1 0 1.1 0a0.55 0.55 0 1 0 -1.1 0M247.6 144.4a0.55 0.55 0 1 0 1.1 0a0.55 0.55 0 1 0 -1.1 0M237.3 146.3a0.55 0.55 0 1 0 1.1 0a0.55 0.55 0 1 0 -1.1 0M232.4 151.8a0.55 0.55 0 1 0 1.1 0a0.55 0.55 0 1 0 -1.1 0M235.9 153.1a0.55 0.55 0 1 0 1.1 0a0.55 0.55 0 1 0 -1.1 0M244.4 146.6a0.55 0.55 0 1 0 1.1 0a0.55 0.55 0 1 0 -1.1 0M239.4 145.1a0.55 0.55 0 1 0 1.1 0a0.55 0.55 0 1 0 -1.1 0M236.1 150.5a0.55 0.55 0 1 0 1.1 0a0.55 0.55 0 1 0 -1.1 0M242.9 144.6a0.55 0.55 0 1 0 1.1 0a0.55 0.55 0 1 0 -1.1 0M241.0 145.8a0.55 0.55 0 1 0 1.1 0a0.55 0.55 0 1 0 -1.1 0M234.4 152.7a0.55 0.55 0 1 0 1.1 0a0.55 0.55 0 1 0 -1.1 0M244.7 146.1a0.55 0.55 0 1 0 1.1 0a0.55 0.55 0 1 0 -1.1 0M238.3 147.6a0.55 0.55 0 1 0 1.1 0a0.55 0.55 0 1 0 -1.1 0M240.0 149.0a0.55 0.55 0 1 0 1.1 0a0.55 0.55 0 1 0 -1.1 0M246.8 143.4a0.55 0.55 0 1 0 1.1 0a0.55 0.55 0 1 0 -1.1 0M238.0 146.5a0.55 0.55 0 1 0 1.1 0a0.55 0.55 0 1 0 -1.1 0M248.9 143.9a0.55 0.55 0 1 0 1.1 0a0.55 0.55 0 1 0 -1.1 0M240.4 149.7a0.55 0.55 0 1 0 1.1 0a0.55 0.55 0 1 0 -1.1 0M239.1 147.9a0.55 0.55 0 1 0 1.1 0a0.55 0.55 0 1 0 -1.1 0M231.2 151.1a0.55 0.55 0 1 0 1.1 0a0.55 0.55 0 1 0 -1.1 0M234.9 152.9a0.55 0.55 0 1 0 1.1 0a0.55 0.55 0 1 0 -1.1 0M242.7 144.6a0.55 0.55 0 1 0 1.1 0a0.55 0.55 0 1 0 -1.1 0M240.4 148.4a0.55 0.55 0 1 0 1.1 0a0.55 0.55 0 1 0 -1.1 0M239.9 149.6a0.55 0.55 0 1 0 1.1 0a0.55 0.55 0 1 0 -1.1 0M243.4 143.2a0.55 0.55 0 1 0 1.1 0a0.55 0.55 0 1 0 -1.1 0M246.0 143.6a0.55 0.55 0 1 0 1.1 0a0.55 0.55 0 1 0 -1.1 0M234.7 150.8a0.55 0.55 0 1 0 1.1 0a0.55 0.55 0 1 0 -1.1 0M236.1 153.4a0.55 0.55 0 1 0 1.1 0a0.55 0.55 0 1 0 -1.1 0M243.1 145.6a0.55 0.55 0 1 0 1.1 0a0.55 0.55 0 1 0 -1.1 0M248.8 143.3a0.55 0.55 0 1 0 1.1 0a0.55 0.55 0 1 0 -1.1 0" fill="#fff" opacity="1.0"/>
<path d="M229.8 132.2a0.5 0.5 0 1 0 1.0 0a0.5 0.5 0 1 0 -1.0 0M235.4 128.3a0.5 0.5 0 1 0 1.0 0a0.5 0.5 0 1 0 -1.0 0M226.1 128.7a0.5 0.5 0 1 0 1.0 0a0.5 0.5 0 1 0 -1.0 0M227.8 127.6a0.5 0.5 0 1 0 1.0 0a0.5 0.5 0 1 0 -1.0 0M230.4 132.1a0.5 0.5 0 1 0 1.0 0a0.5 0.5 0 1 0 -1.0 0M234.7 124.4a0.5 0.5 0 1 0 1.0 0a0.5 0.5 0 1 0 -1.0 0M229.6 126.7a0.5 0.5 0 1 0 1.0 0a0.5 0.5 0 1 0 -1.0 0M237.0 130.2a0.5 0.5 0 1 0 1.0 0a0.5 0.5 0 1 0 -1.0 0M228.6 131.2a0.5 0.5 0 1 0 1.0 0a0.5 0.5 0 1 0 -1.0 0M229.3 126.8a0.5 0.5 0 1 0 1.0 0a0.5 0.5 0 1 0 -1.0 0M236.5 130.3a0.5 0.5 0 1 0 1.0 0a0.5 0.5 0 1 0 -1.0 0M228.3 128.8a0.5 0.5 0 1 0 1.0 0a0.5 0.5 0 1 0 -1.0 0M230.1 126.5a0.5 0.5 0 1 0 1.0 0a0.5 0.5 0 1 0 -1.0 0M230.7 128.9a0.5 0.5 0 1 0 1.0 0a0.5 0.5 0 1 0 -1.0 0M232.8 127.3a0.5 0.5 0 1 0 1.0 0a0.5 0.5 0 1 0 -1.0 0M229.3 127.6a0.5 0.5 0 1 0 1.0 0a0.5 0.5 0 1 0 -1.0 0M234.9 124.8a0.5 0.5 0 1 0 1.0 0a0.5 0.5 0 1 0 -1.0 0M227.9 131.5a0.5 0.5 0 1 0 1.0 0a0.5 0.5 0 1 0 -1.0 0M226.7 129.0a0.5 0.5 0 1 0 1.0 0a0.5 0.5 0 1 0 -1.0 0M234.0 128.5a0.5 0.5 0 1 0 1.0 0a0.5 0.5 0 1 0 -1.0 0" fill="#fff" opacity="1.0"/>
<path d="M258 141 L266 145.5 L276 150 L285 154.5 L283.5 157 L274 155 L265 152 L259.5 148.5Z" fill="#2c4585"/>
<ellipse cx="265.5" cy="162" rx="8.3" ry="6.6" fill="#e2e030"/>
<path d="M285 155 L289 153 L295 153.5 L299 156 L300.5 161 L299 166 L296 171.5 L292 171 L288 169 L285 166 L284 160Z" fill="#58b47c"/>
<path d="M287.4 160.7a0.45 0.45 0 1 0 0.9 0a0.45 0.45 0 1 0 -0.9 0M293.8 165.5a0.45 0.45 0 1 0 0.9 0a0.45 0.45 0 1 0 -0.9 0M295.9 168.7a0.45 0.45 0 1 0 0.9 0a0.45 0.45 0 1 0 -0.9 0M294.5 155.2a0.45 0.45 0 1 0 0.9 0a0.45 0.45 0 1 0 -0.9 0M297.4 158.4a0.45 0.45 0 1 0 0.9 0a0.45 0.45 0 1 0 -0.9 0M292.9 159.9a0.45 0.45 0 1 0 0.9 0a0.45 0.45 0 1 0 -0.9 0M295.7 156.7a0.45 0.45 0 1 0 0.9 0a0.45 0.45 0 1 0 -0.9 0M287.6 157.5a0.45 0.45 0 1 0 0.9 0a0.45 0.45 0 1 0 -0.9 0M293.1 159.0a0.45 0.45 0 1 0 0.9 0a0.45 0.45 0 1 0 -0.9 0M291.9 157.3a0.45 0.45 0 1 0 0.9 0a0.45 0.45 0 1 0 -0.9 0M296.9 165.1a0.45 0.45 0 1 0 0.9 0a0.45 0.45 0 1 0 -0.9 0M291.4 168.2a0.45 0.45 0 1 0 0.9 0a0.45 0.45 0 1 0 -0.9 0M284.2 158.4a0.45 0.45 0 1 0 0.9 0a0.45 0.45 0 1 0 -0.9 0M285.5 156.5a0.45 0.45 0 1 0 0.9 0a0.45 0.45 0 1 0 -0.9 0M298.9 159.9a0.45 0.45 0 1 0 0.9 0a0.45 0.45 0 1 0 -0.9 0M297.8 161.3a0.45 0.45 0 1 0 0.9 0a0.45 0.45 0 1 0 -0.9 0M287.8 167.4a0.45 0.45 0 1 0 0.9 0a0.45 0.45 0 1 0 -0.9 0M293.4 164.5a0.45 0.45 0 1 0 0.9 0a0.45 0.45 0 1 0 -0.9 0M287.1 159.8a0.45 0.45 0 1 0 0.9 0a0.45 0.45 0 1 0 -0.9 0M285.9 156.8a0.45 0.45 0 1 0 0.9 0a0.45 0.45 0 1 0 -0.9 0M287.8 164.1a0.45 0.45 0 1 0 0.9 0a0.45 0.45 0 1 0 -0.9 0M294.3 156.8a0.45 0.45 0 1 0 0.9 0a0.45 0.45 0 1 0 -0.9 0M294.7 156.4a0.45 0.45 0 1 0 0.9 0a0.45 0.45 0 1 0 -0.9 0M288.7 156.8a0.45 0.45 0 1 0 0.9 0a0.45 0.45 0 1 0 -0.9 0M296.7 163.1a0.45 0.45 0 1 0 0.9 0a0.45 0.45 0 1 0 -0.9 0" fill="#fff" opacity="1.0"/>
<ellipse cx="298.6" cy="110.5" rx="3.4" ry="6.0" fill="#4cc6d0" transform="rotate(-12 298.6 110.5)"/>
<ellipse cx="290.5" cy="127.3" rx="3.4" ry="1.8" fill="#88e0c8"/>
<circle cx="323.3" cy="126.3" r="1.6" fill="#2c4585"/>
<path d="M332 127 L336 125 L342 125 L346 128 L346.5 133 L344 138.5 L340 140.5 L336 139 L333.5 136 L331.5 131Z" fill="#e06a6c"/>
<path d="M337.0 133.5a0.45 0.45 0 1 0 0.9 0a0.45 0.45 0 1 0 -0.9 0M340.6 126.4a0.45 0.45 0 1 0 0.9 0a0.45 0.45 0 1 0 -0.9 0M333.5 135.8a0.45 0.45 0 1 0 0.9 0a0.45 0.45 0 1 0 -0.9 0M337.2 129.4a0.45 0.45 0 1 0 0.9 0a0.45 0.45 0 1 0 -0.9 0M335.7 133.8a0.45 0.45 0 1 0 0.9 0a0.45 0.45 0 1 0 -0.9 0M336.4 131.5a0.45 0.45 0 1 0 0.9 0a0.45 0.45 0 1 0 -0.9 0M336.5 128.1a0.45 0.45 0 1 0 0.9 0a0.45 0.45 0 1 0 -0.9 0M342.0 128.2a0.45 0.45 0 1 0 0.9 0a0.45 0.45 0 1 0 -0.9 0M337.4 137.7a0.45 0.45 0 1 0 0.9 0a0.45 0.45 0 1 0 -0.9 0M337.1 138.7a0.45 0.45 0 1 0 0.9 0a0.45 0.45 0 1 0 -0.9 0M338.0 127.5a0.45 0.45 0 1 0 0.9 0a0.45 0.45 0 1 0 -0.9 0M340.7 139.1a0.45 0.45 0 1 0 0.9 0a0.45 0.45 0 1 0 -0.9 0M336.6 132.8a0.45 0.45 0 1 0 0.9 0a0.45 0.45 0 1 0 -0.9 0M333.2 129.4a0.45 0.45 0 1 0 0.9 0a0.45 0.45 0 1 0 -0.9 0M338.9 139.3a0.45 0.45 0 1 0 0.9 0a0.45 0.45 0 1 0 -0.9 0" fill="#fff" opacity="1.0"/>
<path d="M306.5 141 L312 137.5 L322 137 L331 138.5 L336 140.5 L334 144.5 L326 145.5 L318 146 L310 147.5 L306.5 145.5Z" fill="#eaaaa4"/>
<path d="M309.3 142.2a0.45 0.45 0 1 0 0.9 0a0.45 0.45 0 1 0 -0.9 0M311.9 138.3a0.45 0.45 0 1 0 0.9 0a0.45 0.45 0 1 0 -0.9 0M320.3 137.6a0.45 0.45 0 1 0 0.9 0a0.45 0.45 0 1 0 -0.9 0M333.4 141.1a0.45 0.45 0 1 0 0.9 0a0.45 0.45 0 1 0 -0.9 0M332.7 143.5a0.45 0.45 0 1 0 0.9 0a0.45 0.45 0 1 0 -0.9 0M330.4 138.7a0.45 0.45 0 1 0 0.9 0a0.45 0.45 0 1 0 -0.9 0M329.2 139.3a0.45 0.45 0 1 0 0.9 0a0.45 0.45 0 1 0 -0.9 0M318.0 145.9a0.45 0.45 0 1 0 0.9 0a0.45 0.45 0 1 0 -0.9 0M330.5 138.9a0.45 0.45 0 1 0 0.9 0a0.45 0.45 0 1 0 -0.9 0M312.5 141.2a0.45 0.45 0 1 0 0.9 0a0.45 0.45 0 1 0 -0.9 0M321.3 141.0a0.45 0.45 0 1 0 0.9 0a0.45 0.45 0 1 0 -0.9 0M309.7 139.6a0.45 0.45 0 1 0 0.9 0a0.45 0.45 0 1 0 -0.9 0M307.3 142.9a0.45 0.45 0 1 0 0.9 0a0.45 0.45 0 1 0 -0.9 0M323.7 142.8a0.45 0.45 0 1 0 0.9 0a0.45 0.45 0 1 0 -0.9 0M324.5 140.2a0.45 0.45 0 1 0 0.9 0a0.45 0.45 0 1 0 -0.9 0M318.4 143.1a0.45 0.45 0 1 0 0.9 0a0.45 0.45 0 1 0 -0.9 0M318.6 143.9a0.45 0.45 0 1 0 0.9 0a0.45 0.45 0 1 0 -0.9 0M319.2 141.6a0.45 0.45 0 1 0 0.9 0a0.45 0.45 0 1 0 -0.9 0M306.7 143.5a0.45 0.45 0 1 0 0.9 0a0.45 0.45 0 1 0 -0.9 0M320.5 139.5a0.45 0.45 0 1 0 0.9 0a0.45 0.45 0 1 0 -0.9 0M319.6 138.9a0.45 0.45 0 1 0 0.9 0a0.45 0.45 0 1 0 -0.9 0M320.0 138.1a0.45 0.45 0 1 0 0.9 0a0.45 0.45 0 1 0 -0.9 0M309.8 141.5a0.45 0.45 0 1 0 0.9 0a0.45 0.45 0 1 0 -0.9 0M308.8 141.6a0.45 0.45 0 1 0 0.9 0a0.45 0.45 0 1 0 -0.9 0M321.1 137.4a0.45 0.45 0 1 0 0.9 0a0.45 0.45 0 1 0 -0.9 0" fill="#fff" opacity="1.0"/>
<path d="M335 142 L343 151" stroke="#e0b0b0" stroke-width="0.8"/>
<ellipse cx="348.2" cy="154.3" rx="5.9" ry="5" fill="#d9dde8"/>
<path d="M319 157 L324 155.5 L328 154.5 L330.5 156 L330 160 L328.5 166 L323 168.3 L319 166.5 L318.5 161Z" fill="#ee80ee"/>
<path d="M191.6 205.8 L209.3 218.2" stroke="#e84838" stroke-width="1.5" stroke-linecap="round"/>
<path d="M191.6 205.2 L197 208 L196 210 Z" fill="#e84838"/>
<path d="M223.1 195.9 L227 199.2 L228.4 204.5 L227 209.7 L223.1 211 L219.8 208.4 L218.5 203.1 L219.8 198.5Z" fill="#e6e670"/>
<circle cx="223.2" cy="197.6" r="1.3" fill="#fff"/>
<path d="M226 205.8 L232.3 208.4 L237.6 212.3 L240.2 216.3 M235 209.7 L238.9 209 M242.8 207.7 L246.1 206.4 M267.1 227.1 L271.3 226.6 L277.5 229.2 L283.75 229.2 L284.8 237.5 L284.3 247.9 L282.7 255.2 L278.5 257.3 L271.3 259.4 L266 261" fill="none" stroke="#b5b040" stroke-width="1.3"/>
<path d="M244.7 188.5 L248.3 182.3 L252 182.8 L256.7 181.3 L261.9 188.5 L262.9 193.8 L255.6 195.8 L250.4 196.9 L246.3 193.8Z" fill="#e04a4a"/>
<path d="M255.8 182.6a0.5 0.5 0 1 0 1.0 0a0.5 0.5 0 1 0 -1.0 0M257.5 193.4a0.5 0.5 0 1 0 1.0 0a0.5 0.5 0 1 0 -1.0 0M253.4 187.2a0.5 0.5 0 1 0 1.0 0a0.5 0.5 0 1 0 -1.0 0M257.5 194.0a0.5 0.5 0 1 0 1.0 0a0.5 0.5 0 1 0 -1.0 0M245.4 186.8a0.5 0.5 0 1 0 1.0 0a0.5 0.5 0 1 0 -1.0 0M258.0 183.8a0.5 0.5 0 1 0 1.0 0a0.5 0.5 0 1 0 -1.0 0M253.3 195.7a0.5 0.5 0 1 0 1.0 0a0.5 0.5 0 1 0 -1.0 0M248.0 185.4a0.5 0.5 0 1 0 1.0 0a0.5 0.5 0 1 0 -1.0 0M253.4 186.3a0.5 0.5 0 1 0 1.0 0a0.5 0.5 0 1 0 -1.0 0M256.6 195.3a0.5 0.5 0 1 0 1.0 0a0.5 0.5 0 1 0 -1.0 0M247.3 193.5a0.5 0.5 0 1 0 1.0 0a0.5 0.5 0 1 0 -1.0 0M246.3 189.6a0.5 0.5 0 1 0 1.0 0a0.5 0.5 0 1 0 -1.0 0M255.8 186.9a0.5 0.5 0 1 0 1.0 0a0.5 0.5 0 1 0 -1.0 0M260.1 190.0a0.5 0.5 0 1 0 1.0 0a0.5 0.5 0 1 0 -1.0 0M254.8 195.1a0.5 0.5 0 1 0 1.0 0a0.5 0.5 0 1 0 -1.0 0M255.7 187.5a0.5 0.5 0 1 0 1.0 0a0.5 0.5 0 1 0 -1.0 0M258.7 185.4a0.5 0.5 0 1 0 1.0 0a0.5 0.5 0 1 0 -1.0 0M250.8 193.2a0.5 0.5 0 1 0 1.0 0a0.5 0.5 0 1 0 -1.0 0M252.2 184.1a0.5 0.5 0 1 0 1.0 0a0.5 0.5 0 1 0 -1.0 0M254.9 191.7a0.5 0.5 0 1 0 1.0 0a0.5 0.5 0 1 0 -1.0 0M255.4 188.0a0.5 0.5 0 1 0 1.0 0a0.5 0.5 0 1 0 -1.0 0M253.5 195.3a0.5 0.5 0 1 0 1.0 0a0.5 0.5 0 1 0 -1.0 0M246.6 184.8a0.5 0.5 0 1 0 1.0 0a0.5 0.5 0 1 0 -1.0 0M256.1 181.6a0.5 0.5 0 1 0 1.0 0a0.5 0.5 0 1 0 -1.0 0M246.1 186.9a0.5 0.5 0 1 0 1.0 0a0.5 0.5 0 1 0 -1.0 0M248.3 190.4a0.5 0.5 0 1 0 1.0 0a0.5 0.5 0 1 0 -1.0 0M254.9 184.5a0.5 0.5 0 1 0 1.0 0a0.5 0.5 0 1 0 -1.0 0M255.6 188.7a0.5 0.5 0 1 0 1.0 0a0.5 0.5 0 1 0 -1.0 0M248.6 183.6a0.5 0.5 0 1 0 1.0 0a0.5 0.5 0 1 0 -1.0 0M245.9 191.3a0.5 0.5 0 1 0 1.0 0a0.5 0.5 0 1 0 -1.0 0" fill="#fff" opacity="1.0"/>
<path d="M266 195.8 L274.4 193.2 L280.6 195.8 L281.7 201 L277.5 205.2 L271.3 207.3 L267.1 204.2 L266 200Z" fill="#eec4bc"/>
<path d="M271.9 196.9a0.45 0.45 0 1 0 0.9 0a0.45 0.45 0 1 0 -0.9 0M274.4 198.1a0.45 0.45 0 1 0 0.9 0a0.45 0.45 0 1 0 -0.9 0M275.7 199.5a0.45 0.45 0 1 0 0.9 0a0.45 0.45 0 1 0 -0.9 0M269.5 205.9a0.45 0.45 0 1 0 0.9 0a0.45 0.45 0 1 0 -0.9 0M266.2 200.7a0.45 0.45 0 1 0 0.9 0a0.45 0.45 0 1 0 -0.9 0M271.9 196.6a0.45 0.45 0 1 0 0.9 0a0.45 0.45 0 1 0 -0.9 0M268.7 201.8a0.45 0.45 0 1 0 0.9 0a0.45 0.45 0 1 0 -0.9 0M273.5 202.2a0.45 0.45 0 1 0 0.9 0a0.45 0.45 0 1 0 -0.9 0M278.3 195.7a0.45 0.45 0 1 0 0.9 0a0.45 0.45 0 1 0 -0.9 0M270.4 197.4a0.45 0.45 0 1 0 0.9 0a0.45 0.45 0 1 0 -0.9 0" fill="#fff" opacity="1.0"/>
<path d="M249.4 218.75 L253.5 216.1 L260.8 220.8 L266 229.2 L264 239.6 L259.8 240.6 L253.5 237.5 L248.9 229.2 L247.8 224Z" fill="#e448c8"/>
<path d="M261.7 233.6a0.4 0.4 0 1 0 0.8 0a0.4 0.4 0 1 0 -0.8 0M261.0 227.5a0.4 0.4 0 1 0 0.8 0a0.4 0.4 0 1 0 -0.8 0M260.9 227.2a0.4 0.4 0 1 0 0.8 0a0.4 0.4 0 1 0 -0.8 0M251.5 218.7a0.4 0.4 0 1 0 0.8 0a0.4 0.4 0 1 0 -0.8 0M253.5 234.5a0.4 0.4 0 1 0 0.8 0a0.4 0.4 0 1 0 -0.8 0M260.1 236.8a0.4 0.4 0 1 0 0.8 0a0.4 0.4 0 1 0 -0.8 0M260.4 222.6a0.4 0.4 0 1 0 0.8 0a0.4 0.4 0 1 0 -0.8 0M257.5 226.8a0.4 0.4 0 1 0 0.8 0a0.4 0.4 0 1 0 -0.8 0M261.7 228.9a0.4 0.4 0 1 0 0.8 0a0.4 0.4 0 1 0 -0.8 0M252.2 231.8a0.4 0.4 0 1 0 0.8 0a0.4 0.4 0 1 0 -0.8 0M252.1 221.9a0.4 0.4 0 1 0 0.8 0a0.4 0.4 0 1 0 -0.8 0M260.9 239.2a0.4 0.4 0 1 0 0.8 0a0.4 0.4 0 1 0 -0.8 0M261.0 224.1a0.4 0.4 0 1 0 0.8 0a0.4 0.4 0 1 0 -0.8 0M258.9 233.1a0.4 0.4 0 1 0 0.8 0a0.4 0.4 0 1 0 -0.8 0M259.5 240.1a0.4 0.4 0 1 0 0.8 0a0.4 0.4 0 1 0 -0.8 0M255.9 236.7a0.4 0.4 0 1 0 0.8 0a0.4 0.4 0 1 0 -0.8 0M260.1 237.1a0.4 0.4 0 1 0 0.8 0a0.4 0.4 0 1 0 -0.8 0M255.4 233.9a0.4 0.4 0 1 0 0.8 0a0.4 0.4 0 1 0 -0.8 0M257.8 223.6a0.4 0.4 0 1 0 0.8 0a0.4 0.4 0 1 0 -0.8 0M251.3 231.4a0.4 0.4 0 1 0 0.8 0a0.4 0.4 0 1 0 -0.8 0M253.7 219.6a0.4 0.4 0 1 0 0.8 0a0.4 0.4 0 1 0 -0.8 0M260.0 231.6a0.4 0.4 0 1 0 0.8 0a0.4 0.4 0 1 0 -0.8 0M260.1 234.2a0.4 0.4 0 1 0 0.8 0a0.4 0.4 0 1 0 -0.8 0M254.0 236.1a0.4 0.4 0 1 0 0.8 0a0.4 0.4 0 1 0 -0.8 0M262.3 237.9a0.4 0.4 0 1 0 0.8 0a0.4 0.4 0 1 0 -0.8 0M249.3 221.1a0.4 0.4 0 1 0 0.8 0a0.4 0.4 0 1 0 -0.8 0M262.8 236.0a0.4 0.4 0 1 0 0.8 0a0.4 0.4 0 1 0 -0.8 0M258.9 236.3a0.4 0.4 0 1 0 0.8 0a0.4 0.4 0 1 0 -0.8 0M258.9 223.1a0.4 0.4 0 1 0 0.8 0a0.4 0.4 0 1 0 -0.8 0M253.2 226.5a0.4 0.4 0 1 0 0.8 0a0.4 0.4 0 1 0 -0.8 0M252.5 233.6a0.4 0.4 0 1 0 0.8 0a0.4 0.4 0 1 0 -0.8 0M254.1 224.0a0.4 0.4 0 1 0 0.8 0a0.4 0.4 0 1 0 -0.8 0M264.9 228.4a0.4 0.4 0 1 0 0.8 0a0.4 0.4 0 1 0 -0.8 0M262.9 231.2a0.4 0.4 0 1 0 0.8 0a0.4 0.4 0 1 0 -0.8 0M248.0 226.2a0.4 0.4 0 1 0 0.8 0a0.4 0.4 0 1 0 -0.8 0M255.3 235.0a0.4 0.4 0 1 0 0.8 0a0.4 0.4 0 1 0 -0.8 0M253.7 233.4a0.4 0.4 0 1 0 0.8 0a0.4 0.4 0 1 0 -0.8 0M257.2 221.4a0.4 0.4 0 1 0 0.8 0a0.4 0.4 0 1 0 -0.8 0M261.3 240.1a0.4 0.4 0 1 0 0.8 0a0.4 0.4 0 1 0 -0.8 0M256.3 235.6a0.4 0.4 0 1 0 0.8 0a0.4 0.4 0 1 0 -0.8 0" fill="#fff" opacity="1.0"/>
<path d="M265 229.2 L271.3 233.3 L280.6 236.5 L280.1 238 L273.3 237.5 L270.2 242.7 L268.1 246.9 L265 242.7 L262.4 237.5Z" fill="#952270"/>
<path d="M202 250 C203 246 208 244.8 213 245 C218 245.5 221 249 220.8 253 C220.5 257 216 258.8 211 259.4 C206 260 201.8 257.5 201.5 254 Z" fill="#3b1f60"/>
<path d="M219.8 251.8 L231 253.7 L244.1 258.3 L257.3 261.6 L269.1 261 L269.1 262.3 L258.6 266.2 L248.1 264.9 L237.6 261 L224.4 255.7 L219.8 254.4Z" fill="#74aaf0"/>
<path d="M229.9 247.2a0.45 0.45 0 1 0 0.9 0a0.45 0.45 0 1 0 -0.9 0M231.6 250.3a0.45 0.45 0 1 0 0.9 0a0.45 0.45 0 1 0 -0.9 0M230.7 251.3a0.45 0.45 0 1 0 0.9 0a0.45 0.45 0 1 0 -0.9 0M230.9 244.6a0.45 0.45 0 1 0 0.9 0a0.45 0.45 0 1 0 -0.9 0M235.3 247.2a0.45 0.45 0 1 0 0.9 0a0.45 0.45 0 1 0 -0.9 0M229.1 248.5a0.45 0.45 0 1 0 0.9 0a0.45 0.45 0 1 0 -0.9 0M228.8 249.8a0.45 0.45 0 1 0 0.9 0a0.45 0.45 0 1 0 -0.9 0M235.3 249.8a0.45 0.45 0 1 0 0.9 0a0.45 0.45 0 1 0 -0.9 0M234.5 245.9a0.45 0.45 0 1 0 0.9 0a0.45 0.45 0 1 0 -0.9 0M232.2 246.2a0.45 0.45 0 1 0 0.9 0a0.45 0.45 0 1 0 -0.9 0M237.3 243.4a0.45 0.45 0 1 0 0.9 0a0.45 0.45 0 1 0 -0.9 0M237.3 242.8a0.45 0.45 0 1 0 0.9 0a0.45 0.45 0 1 0 -0.9 0M230.1 245.0a0.45 0.45 0 1 0 0.9 0a0.45 0.45 0 1 0 -0.9 0M237.4 247.2a0.45 0.45 0 1 0 0.9 0a0.45 0.45 0 1 0 -0.9 0M231.9 250.7a0.45 0.45 0 1 0 0.9 0a0.45 0.45 0 1 0 -0.9 0M230.4 246.8a0.45 0.45 0 1 0 0.9 0a0.45 0.45 0 1 0 -0.9 0M233.5 249.5a0.45 0.45 0 1 0 0.9 0a0.45 0.45 0 1 0 -0.9 0M235.9 248.5a0.45 0.45 0 1 0 0.9 0a0.45 0.45 0 1 0 -0.9 0M231.6 245.6a0.45 0.45 0 1 0 0.9 0a0.45 0.45 0 1 0 -0.9 0M229.6 250.4a0.45 0.45 0 1 0 0.9 0a0.45 0.45 0 1 0 -0.9 0M234.9 249.4a0.45 0.45 0 1 0 0.9 0a0.45 0.45 0 1 0 -0.9 0M229.7 246.6a0.45 0.45 0 1 0 0.9 0a0.45 0.45 0 1 0 -0.9 0M236.1 247.9a0.45 0.45 0 1 0 0.9 0a0.45 0.45 0 1 0 -0.9 0M229.3 246.9a0.45 0.45 0 1 0 0.9 0a0.45 0.45 0 1 0 -0.9 0M237.2 244.8a0.45 0.45 0 1 0 0.9 0a0.45 0.45 0 1 0 -0.9 0" fill="#7fb2f2" opacity="1.0"/>
<path d="M301.2 186 L304.6 187.7 L305.8 193.5 L310.4 198.1 L311.6 202.8 L309.3 206.8 L304.6 207.4 L301.7 202.8 L299 198.1 L298 191Z" fill="#f2eec8"/>
<path d="M311.6 200.5 L320 195 L328 191.5 L333.6 189.5 L333.6 195.2 L323.1 198.1 L312.7 202.2Z" fill="#e8aca8"/>
<path d="M331.8 188.9 L338.2 186.6 L348.6 186.6 L354.4 188.9 L356.1 193.5 L354.4 200.5 L352.1 207.4 L350.9 216.7 L348.6 224.8 L344 232.9 L338.2 241 L334.7 243.3 L331.2 239.8 L329.5 234 L331.2 227.1 L330.7 219 L333 212 L338.2 207.4 L342.8 203.9 L345.1 200.5 L342.8 198.1 L338.2 197 L333.6 195.2 L331.2 192.4Z" fill="#5a78b0"/>
<path d="M342.9 195.7a0.45 0.45 0 1 0 0.9 0a0.45 0.45 0 1 0 -0.9 0M348.6 211.3a0.45 0.45 0 1 0 0.9 0a0.45 0.45 0 1 0 -0.9 0M334.3 222.8a0.45 0.45 0 1 0 0.9 0a0.45 0.45 0 1 0 -0.9 0M339.4 188.5a0.45 0.45 0 1 0 0.9 0a0.45 0.45 0 1 0 -0.9 0M339.7 231.4a0.45 0.45 0 1 0 0.9 0a0.45 0.45 0 1 0 -0.9 0M347.5 215.0a0.45 0.45 0 1 0 0.9 0a0.45 0.45 0 1 0 -0.9 0M345.9 212.9a0.45 0.45 0 1 0 0.9 0a0.45 0.45 0 1 0 -0.9 0M332.8 220.8a0.45 0.45 0 1 0 0.9 0a0.45 0.45 0 1 0 -0.9 0M339.8 228.6a0.45 0.45 0 1 0 0.9 0a0.45 0.45 0 1 0 -0.9 0M344.3 229.1a0.45 0.45 0 1 0 0.9 0a0.45 0.45 0 1 0 -0.9 0M346.1 212.3a0.45 0.45 0 1 0 0.9 0a0.45 0.45 0 1 0 -0.9 0M337.4 222.2a0.45 0.45 0 1 0 0.9 0a0.45 0.45 0 1 0 -0.9 0M345.8 200.8a0.45 0.45 0 1 0 0.9 0a0.45 0.45 0 1 0 -0.9 0M340.3 212.4a0.45 0.45 0 1 0 0.9 0a0.45 0.45 0 1 0 -0.9 0M345.6 209.8a0.45 0.45 0 1 0 0.9 0a0.45 0.45 0 1 0 -0.9 0M333.9 223.7a0.45 0.45 0 1 0 0.9 0a0.45 0.45 0 1 0 -0.9 0M349.7 208.6a0.45 0.45 0 1 0 0.9 0a0.45 0.45 0 1 0 -0.9 0M333.3 230.9a0.45 0.45 0 1 0 0.9 0a0.45 0.45 0 1 0 -0.9 0M331.7 219.2a0.45 0.45 0 1 0 0.9 0a0.45 0.45 0 1 0 -0.9 0M343.4 227.3a0.45 0.45 0 1 0 0.9 0a0.45 0.45 0 1 0 -0.9 0M342.7 222.8a0.45 0.45 0 1 0 0.9 0a0.45 0.45 0 1 0 -0.9 0M334.6 225.4a0.45 0.45 0 1 0 0.9 0a0.45 0.45 0 1 0 -0.9 0M339.5 229.8a0.45 0.45 0 1 0 0.9 0a0.45 0.45 0 1 0 -0.9 0M338.5 189.8a0.45 0.45 0 1 0 0.9 0a0.45 0.45 0 1 0 -0.9 0M336.3 209.3a0.45 0.45 0 1 0 0.9 0a0.45 0.45 0 1 0 -0.9 0M340.2 226.2a0.45 0.45 0 1 0 0.9 0a0.45 0.45 0 1 0 -0.9 0M335.0 228.6a0.45 0.45 0 1 0 0.9 0a0.45 0.45 0 1 0 -0.9 0M334.9 232.0a0.45 0.45 0 1 0 0.9 0a0.45 0.45 0 1 0 -0.9 0M332.5 230.6a0.45 0.45 0 1 0 0.9 0a0.45 0.45 0 1 0 -0.9 0M341.5 218.5a0.45 0.45 0 1 0 0.9 0a0.45 0.45 0 1 0 -0.9 0M335.1 241.3a0.45 0.45 0 1 0 0.9 0a0.45 0.45 0 1 0 -0.9 0M338.4 222.8a0.45 0.45 0 1 0 0.9 0a0.45 0.45 0 1 0 -0.9 0M343.6 193.7a0.45 0.45 0 1 0 0.9 0a0.45 0.45 0 1 0 -0.9 0M351.2 206.7a0.45 0.45 0 1 0 0.9 0a0.45 0.45 0 1 0 -0.9 0M351.7 201.8a0.45 0.45 0 1 0 0.9 0a0.45 0.45 0 1 0 -0.9 0M340.4 197.1a0.45 0.45 0 1 0 0.9 0a0.45 0.45 0 1 0 -0.9 0M337.1 213.8a0.45 0.45 0 1 0 0.9 0a0.45 0.45 0 1 0 -0.9 0M340.4 222.7a0.45 0.45 0 1 0 0.9 0a0.45 0.45 0 1 0 -0.9 0M346.6 207.1a0.45 0.45 0 1 0 0.9 0a0.45 0.45 0 1 0 -0.9 0M330.6 233.5a0.45 0.45 0 1 0 0.9 0a0.45 0.45 0 1 0 -0.9 0M332.8 233.7a0.45 0.45 0 1 0 0.9 0a0.45 0.45 0 1 0 -0.9 0M345.9 187.4a0.45 0.45 0 1 0 0.9 0a0.45 0.45 0 1 0 -0.9 0M346.5 200.8a0.45 0.45 0 1 0 0.9 0a0.45 0.45 0 1 0 -0.9 0M335.3 230.6a0.45 0.45 0 1 0 0.9 0a0.45 0.45 0 1 0 -0.9 0M338.3 195.3a0.45 0.45 0 1 0 0.9 0a0.45 0.45 0 1 0 -0.9 0M333.5 237.1a0.45 0.45 0 1 0 0.9 0a0.45 0.45 0 1 0 -0.9 0M334.3 225.9a0.45 0.45 0 1 0 0.9 0a0.45 0.45 0 1 0 -0.9 0M343.2 228.7a0.45 0.45 0 1 0 0.9 0a0.45 0.45 0 1 0 -0.9 0M340.7 236.6a0.45 0.45 0 1 0 0.9 0a0.45 0.45 0 1 0 -0.9 0M335.3 194.5a0.45 0.45 0 1 0 0.9 0a0.45 0.45 0 1 0 -0.9 0M342.2 189.9a0.45 0.45 0 1 0 0.9 0a0.45 0.45 0 1 0 -0.9 0M341.5 194.8a0.45 0.45 0 1 0 0.9 0a0.45 0.45 0 1 0 -0.9 0M342.1 214.8a0.45 0.45 0 1 0 0.9 0a0.45 0.45 0 1 0 -0.9 0M329.2 234.3a0.45 0.45 0 1 0 0.9 0a0.45 0.45 0 1 0 -0.9 0M341.5 218.5a0.45 0.45 0 1 0 0.9 0a0.45 0.45 0 1 0 -0.9 0M339.0 210.3a0.45 0.45 0 1 0 0.9 0a0.45 0.45 0 1 0 -0.9 0M354.6 190.9a0.45 0.45 0 1 0 0.9 0a0.45 0.45 0 1 0 -0.9 0M346.0 222.7a0.45 0.45 0 1 0 0.9 0a0.45 0.45 0 1 0 -0.9 0M342.6 214.1a0.45 0.45 0 1 0 0.9 0a0.45 0.45 0 1 0 -0.9 0M352.9 188.5a0.45 0.45 0 1 0 0.9 0a0.45 0.45 0 1 0 -0.9 0M348.2 222.1a0.45 0.45 0 1 0 0.9 0a0.45 0.45 0 1 0 -0.9 0M338.1 235.5a0.45 0.45 0 1 0 0.9 0a0.45 0.45 0 1 0 -0.9 0M338.8 213.5a0.45 0.45 0 1 0 0.9 0a0.45 0.45 0 1 0 -0.9 0M343.0 230.3a0.45 0.45 0 1 0 0.9 0a0.45 0.45 0 1 0 -0.9 0M334.7 211.3a0.45 0.45 0 1 0 0.9 0a0.45 0.45 0 1 0 -0.9 0M340.3 218.0a0.45 0.45 0 1 0 0.9 0a0.45 0.45 0 1 0 -0.9 0M351.0 203.2a0.45 0.45 0 1 0 0.9 0a0.45 0.45 0 1 0 -0.9 0M351.1 209.5a0.45 0.45 0 1 0 0.9 0a0.45 0.45 0 1 0 -0.9 0M337.0 219.9a0.45 0.45 0 1 0 0.9 0a0.45 0.45 0 1 0 -0.9 0M345.5 222.1a0.45 0.45 0 1 0 0.9 0a0.45 0.45 0 1 0 -0.9 0" fill="#fff" opacity="1.0"/>
<path d="M341.1 202.4a0.5 0.5 0 1 0 1.0 0a0.5 0.5 0 1 0 -1.0 0M340.9 199.9a0.5 0.5 0 1 0 1.0 0a0.5 0.5 0 1 0 -1.0 0M340.8 201.5a0.5 0.5 0 1 0 1.0 0a0.5 0.5 0 1 0 -1.0 0M341.6 199.2a0.5 0.5 0 1 0 1.0 0a0.5 0.5 0 1 0 -1.0 0M337.0 198.7a0.5 0.5 0 1 0 1.0 0a0.5 0.5 0 1 0 -1.0 0M341.7 204.4a0.5 0.5 0 1 0 1.0 0a0.5 0.5 0 1 0 -1.0 0M340.7 200.9a0.5 0.5 0 1 0 1.0 0a0.5 0.5 0 1 0 -1.0 0M342.1 203.6a0.5 0.5 0 1 0 1.0 0a0.5 0.5 0 1 0 -1.0 0M340.0 200.2a0.5 0.5 0 1 0 1.0 0a0.5 0.5 0 1 0 -1.0 0M337.9 201.2a0.5 0.5 0 1 0 1.0 0a0.5 0.5 0 1 0 -1.0 0M338.0 201.3a0.5 0.5 0 1 0 1.0 0a0.5 0.5 0 1 0 -1.0 0M340.6 204.6a0.5 0.5 0 1 0 1.0 0a0.5 0.5 0 1 0 -1.0 0M335.9 202.2a0.5 0.5 0 1 0 1.0 0a0.5 0.5 0 1 0 -1.0 0M335.8 199.3a0.5 0.5 0 1 0 1.0 0a0.5 0.5 0 1 0 -1.0 0" fill="#52c18e" opacity="1.0"/>
<path d="M352.9 217.6a0.5 0.5 0 1 0 1.0 0a0.5 0.5 0 1 0 -1.0 0M353.3 216.6a0.5 0.5 0 1 0 1.0 0a0.5 0.5 0 1 0 -1.0 0M350.5 216.1a0.5 0.5 0 1 0 1.0 0a0.5 0.5 0 1 0 -1.0 0M352.3 220.5a0.5 0.5 0 1 0 1.0 0a0.5 0.5 0 1 0 -1.0 0M353.4 216.8a0.5 0.5 0 1 0 1.0 0a0.5 0.5 0 1 0 -1.0 0M351.7 213.8a0.5 0.5 0 1 0 1.0 0a0.5 0.5 0 1 0 -1.0 0M352.4 214.7a0.5 0.5 0 1 0 1.0 0a0.5 0.5 0 1 0 -1.0 0M351.0 213.1a0.5 0.5 0 1 0 1.0 0a0.5 0.5 0 1 0 -1.0 0" fill="#52c18e" opacity="1.0"/>
<path d="M311.6 229.4 L317.4 230.5 L323.1 235.2 L327.8 238.6 L332.4 242.1 L333.6 246.7 L331.2 251.4 L328.9 256 L323.1 261.8 L316.2 266.4 L311.6 265.2 L311 258.3 L308.1 253.7 L306.9 247.9 L311.6 244.4 L312.7 237.5Z" fill="#52c18e"/>
<path d="M325.7 238.4a0.45 0.45 0 1 0 0.9 0a0.45 0.45 0 1 0 -0.9 0M323.2 255.6a0.45 0.45 0 1 0 0.9 0a0.45 0.45 0 1 0 -0.9 0M318.7 263.9a0.45 0.45 0 1 0 0.9 0a0.45 0.45 0 1 0 -0.9 0M313.2 265.1a0.45 0.45 0 1 0 0.9 0a0.45 0.45 0 1 0 -0.9 0M314.8 256.4a0.45 0.45 0 1 0 0.9 0a0.45 0.45 0 1 0 -0.9 0M310.9 261.3a0.45 0.45 0 1 0 0.9 0a0.45 0.45 0 1 0 -0.9 0M316.3 250.7a0.45 0.45 0 1 0 0.9 0a0.45 0.45 0 1 0 -0.9 0M318.2 254.4a0.45 0.45 0 1 0 0.9 0a0.45 0.45 0 1 0 -0.9 0M316.1 253.3a0.45 0.45 0 1 0 0.9 0a0.45 0.45 0 1 0 -0.9 0M323.3 244.9a0.45 0.45 0 1 0 0.9 0a0.45 0.45 0 1 0 -0.9 0M316.7 258.5a0.45 0.45 0 1 0 0.9 0a0.45 0.45 0 1 0 -0.9 0M321.6 240.2a0.45 0.45 0 1 0 0.9 0a0.45 0.45 0 1 0 -0.9 0M315.3 251.8a0.45 0.45 0 1 0 0.9 0a0.45 0.45 0 1 0 -0.9 0M322.5 240.8a0.45 0.45 0 1 0 0.9 0a0.45 0.45 0 1 0 -0.9 0M317.9 262.3a0.45 0.45 0 1 0 0.9 0a0.45 0.45 0 1 0 -0.9 0M316.5 254.7a0.45 0.45 0 1 0 0.9 0a0.45 0.45 0 1 0 -0.9 0M328.0 239.9a0.45 0.45 0 1 0 0.9 0a0.45 0.45 0 1 0 -0.9 0M317.7 251.1a0.45 0.45 0 1 0 0.9 0a0.45 0.45 0 1 0 -0.9 0M321.7 239.5a0.45 0.45 0 1 0 0.9 0a0.45 0.45 0 1 0 -0.9 0M315.7 232.5a0.45 0.45 0 1 0 0.9 0a0.45 0.45 0 1 0 -0.9 0M321.2 258.9a0.45 0.45 0 1 0 0.9 0a0.45 0.45 0 1 0 -0.9 0M311.8 257.2a0.45 0.45 0 1 0 0.9 0a0.45 0.45 0 1 0 -0.9 0M322.7 254.5a0.45 0.45 0 1 0 0.9 0a0.45 0.45 0 1 0 -0.9 0M318.9 237.0a0.45 0.45 0 1 0 0.9 0a0.45 0.45 0 1 0 -0.9 0M313.3 257.2a0.45 0.45 0 1 0 0.9 0a0.45 0.45 0 1 0 -0.9 0M327.6 246.4a0.45 0.45 0 1 0 0.9 0a0.45 0.45 0 1 0 -0.9 0M330.1 248.7a0.45 0.45 0 1 0 0.9 0a0.45 0.45 0 1 0 -0.9 0M319.2 251.2a0.45 0.45 0 1 0 0.9 0a0.45 0.45 0 1 0 -0.9 0M311.3 255.3a0.45 0.45 0 1 0 0.9 0a0.45 0.45 0 1 0 -0.9 0M316.1 250.3a0.45 0.45 0 1 0 0.9 0a0.45 0.45 0 1 0 -0.9 0M317.2 248.5a0.45 0.45 0 1 0 0.9 0a0.45 0.45 0 1 0 -0.9 0M309.3 252.8a0.45 0.45 0 1 0 0.9 0a0.45 0.45 0 1 0 -0.9 0M322.4 242.2a0.45 0.45 0 1 0 0.9 0a0.45 0.45 0 1 0 -0.9 0M329.6 247.4a0.45 0.45 0 1 0 0.9 0a0.45 0.45 0 1 0 -0.9 0M321.6 239.1a0.45 0.45 0 1 0 0.9 0a0.45 0.45 0 1 0 -0.9 0M327.3 245.2a0.45 0.45 0 1 0 0.9 0a0.45 0.45 0 1 0 -0.9 0M313.2 230.8a0.45 0.45 0 1 0 0.9 0a0.45 0.45 0 1 0 -0.9 0M321.3 261.6a0.45 0.45 0 1 0 0.9 0a0.45 0.45 0 1 0 -0.9 0M322.4 244.1a0.45 0.45 0 1 0 0.9 0a0.45 0.45 0 1 0 -0.9 0M313.3 250.3a0.45 0.45 0 1 0 0.9 0a0.45 0.45 0 1 0 -0.9 0" fill="#fff" opacity="1.0"/>
<path d="M286.9 182.3 L290 183.5 L295.2 186.5 L292 187.5 L289 185.5Z" fill="#80d8e0"/>
<circle cx="270" cy="120" r="0.6" fill="#e06a6c"/><circle cx="279" cy="122" r="0.6" fill="#80d8e0"/><circle cx="281" cy="119" r="0.6" fill="#e8aca8"/><circle cx="262" cy="176" r="0.6" fill="#e04a4a"/><circle cx="268" cy="176" r="0.6" fill="#e8aca8"/><circle cx="247" cy="197" r="0.6" fill="#b5b040"/><circle cx="242" cy="206" r="0.6" fill="#b5b040"/><circle cx="276" cy="212" r="0.6" fill="#ee80ee"/><circle cx="279" cy="214" r="0.6" fill="#ee80ee"/><circle cx="276" cy="209" r="0.6" fill="#e8aca8"/><circle cx="301" cy="224" r="0.6" fill="#52c18e"/><circle cx="304" cy="226" r="0.6" fill="#52c18e"/><circle cx="296" cy="215" r="0.6" fill="#80d8e0"/><circle cx="315" cy="180" r="0.6" fill="#52c18e"/><circle cx="318" cy="181" r="0.6" fill="#52c18e"/><circle cx="326" cy="226" r="0.6" fill="#e8aca8"/><circle cx="286" cy="203" r="0.6" fill="#e04a4a"/><circle cx="258" cy="212" r="0.6" fill="#ee80ee"/><circle cx="230" cy="242" r="0.6" fill="#74aaf0"/><circle cx="236" cy="244" r="0.6" fill="#74aaf0"/><circle cx="233" cy="249" r="0.6" fill="#74aaf0"/><circle cx="226" cy="246" r="0.6" fill="#74aaf0"/><circle cx="216" cy="244" r="0.6" fill="#e04a4a"/><circle cx="288" cy="188" r="0.6" fill="#f2eec8"/><circle cx="299" cy="208" r="0.6" fill="#e8aca8"/><circle cx="352" cy="147" r="0.6" fill="#4cc6d0"/><circle cx="356" cy="158" r="0.6" fill="#52c18e"/><circle cx="305" cy="130" r="0.6" fill="#e8aca8"/>
<rect x="370.3" y="82.90" width="4.6" height="4.6" fill="#6898d2"/>
<text x="378.7" y="86.90" font-size="4.65" font-weight="bold" fill="#222">Basal epithelial cells</text>
<rect x="370.3" y="90.56" width="4.6" height="4.6" fill="#2c4585"/>
<text x="378.7" y="94.56" font-size="4.65" font-weight="bold" fill="#222">Club cells</text>
<rect x="370.3" y="98.22" width="4.6" height="4.6" fill="#e2e030"/>
<text x="378.7" y="102.22" font-size="4.65" font-weight="bold" fill="#222">Goblet cells</text>
<rect x="370.3" y="105.88" width="4.6" height="4.6" fill="#e8525a"/>
<text x="378.7" y="109.88" font-size="4.65" font-weight="bold" fill="#222">Microfold cells</text>
<rect x="370.3" y="113.54" width="4.6" height="4.6" fill="#ecc8c0"/>
<text x="378.7" y="117.54" font-size="4.65" font-weight="bold" fill="#222">Ionocytes</text>
<rect x="370.3" y="121.20" width="4.6" height="4.6" fill="#eeaaaa"/>
<text x="378.7" y="125.20" font-size="4.65" font-weight="bold" fill="#222">Ciliated epithelial cells</text>
<rect x="370.3" y="128.86" width="4.6" height="4.6" fill="#58b47c"/>
<text x="378.7" y="132.86" font-size="4.65" font-weight="bold" fill="#222">Muc2+Cyp2g1+olfactory epithelial cells</text>
<rect x="370.3" y="136.52" width="4.6" height="4.6" fill="#78dcdc"/>
<text x="378.7" y="140.52" font-size="4.65" font-weight="bold" fill="#222">Tuba1b+Hist1h1b+Birc5+olfactory epithelial cells</text>
<rect x="370.3" y="144.18" width="4.6" height="4.6" fill="#ee4cc6"/>
<text x="378.7" y="148.18" font-size="4.65" font-weight="bold" fill="#222">Macrophages</text>
<rect x="370.3" y="151.84" width="4.6" height="4.6" fill="#902470"/>
<text x="378.7" y="155.84" font-size="4.65" font-weight="bold" fill="#222">Dendritic cells or monocytes</text>
<rect x="370.3" y="159.50" width="4.6" height="4.6" fill="#b6b44a"/>
<text x="378.7" y="163.50" font-size="4.65" font-weight="bold" fill="#222">Neutrophils</text>
<rect x="370.3" y="167.16" width="4.6" height="4.6" fill="#7aaef0"/>
<text x="378.7" y="171.16" font-size="4.65" font-weight="bold" fill="#222">Basophilic granulocytes</text>
<rect x="370.3" y="174.82" width="4.6" height="4.6" fill="#38235e"/>
<text x="378.7" y="178.82" font-size="4.65" font-weight="bold" fill="#222">Eosinophilic granulocytes</text>
<rect x="370.3" y="182.48" width="4.6" height="4.6" fill="#eef27a"/>
<text x="378.7" y="186.48" font-size="4.65" font-weight="bold" fill="#222">T cells</text>
<rect x="370.3" y="190.14" width="4.6" height="4.6" fill="#e84838"/>
<text x="378.7" y="194.14" font-size="4.65" font-weight="bold" fill="#222">Bcells</text>
<rect x="370.3" y="197.80" width="4.6" height="4.6" fill="#e27878"/>
<text x="378.7" y="201.80" font-size="4.65" font-weight="bold" fill="#222">Fibroblasts 1</text>
<rect x="370.3" y="205.46" width="4.6" height="4.6" fill="#ecbab6"/>
<text x="378.7" y="209.46" font-size="4.65" font-weight="bold" fill="#222">Fibroblasts 2</text>
<rect x="370.3" y="213.12" width="4.6" height="4.6" fill="#dcdfe8"/>
<text x="378.7" y="217.12" font-size="4.65" font-weight="bold" fill="#222">Fibroblasts 3</text>
<rect x="370.3" y="220.78" width="4.6" height="4.6" fill="#f08cf0"/>
<text x="378.7" y="224.78" font-size="4.65" font-weight="bold" fill="#222">Myofibroblasts</text>
<rect x="370.3" y="228.44" width="4.6" height="4.6" fill="#4a5a8c"/>
<text x="378.7" y="232.44" font-size="4.65" font-weight="bold" fill="#222">Pip1+Fabp7+Mpz+cells</text>
<rect x="370.3" y="236.10" width="4.6" height="4.6" fill="#5ccfd4"/>
<text x="378.7" y="240.10" font-size="4.65" font-weight="bold" fill="#222">Blood endothelial cells</text>
<rect x="370.3" y="243.76" width="4.6" height="4.6" fill="#88e0c8"/>
<text x="378.7" y="247.76" font-size="4.65" font-weight="bold" fill="#222">Col21a+Nmm1+Gng11+cells</text>
<rect x="370.3" y="251.42" width="4.6" height="4.6" fill="#f5f0d2"/>
<text x="378.7" y="255.42" font-size="4.65" font-weight="bold" fill="#222">Mitral tufted cells</text>
<rect x="370.3" y="259.08" width="4.6" height="4.6" fill="#e8b4b4"/>
<text x="378.7" y="263.08" font-size="4.65" font-weight="bold" fill="#222">Immature rostral migratory neurons</text>
<rect x="370.3" y="266.74" width="4.6" height="4.6" fill="#5a7aaa"/>
<text x="378.7" y="270.74" font-size="4.65" font-weight="bold" fill="#222">Immature olfactory sensory neurons</text>
<rect x="370.3" y="274.40" width="4.6" height="4.6" fill="#5cc494"/>
<text x="378.7" y="278.40" font-size="4.65" font-weight="bold" fill="#222">Olfactory sensory neurons</text>
<rect x="491.5" y="82.9" width="4" height="59.10" fill="#54aaea"/>
<text transform="translate(502,112.5) rotate(-90)" font-size="4.7" font-weight="bold" text-anchor="middle" fill="#222">Epithelial cells</text>
<rect x="491.5" y="142" width="4" height="52.20" fill="#7ec862"/>
<text transform="translate(502,168.1) rotate(-90)" font-size="4.7" font-weight="bold" text-anchor="middle" fill="#222">Immune cells</text>
<rect x="491.5" y="194.2" width="4" height="53.40" fill="#8d98d0"/>
<text transform="translate(502,220.9) rotate(-90)" font-size="4.7" font-weight="bold" text-anchor="middle" fill="#222">Fibroblasts and others</text>
<rect x="491.5" y="247.6" width="4" height="31.60" fill="#eaa0d0"/>
<text transform="translate(502,263.4) rotate(-90)" font-size="4.7" font-weight="bold" text-anchor="middle" fill="#222">Neurons</text>
<text x="526.6" y="12.3" font-size="15.5" font-weight="bold" fill="#000">d</text>
<path d="M552.5 32.1 V272.2 H683.8" fill="none" stroke="#444" stroke-width="0.9"/>
<line x1="550.2" y1="271.9" x2="552.5" y2="271.9" stroke="#444" stroke-width="0.8"/>
<text x="549.4" y="273.9" font-size="5.6" text-anchor="end" fill="#222">0</text>
<line x1="550.2" y1="226.3" x2="552.5" y2="226.3" stroke="#444" stroke-width="0.8"/>
<text x="549.4" y="228.3" font-size="5.6" text-anchor="end" fill="#222">20</text>
<line x1="550.2" y1="180.7" x2="552.5" y2="180.7" stroke="#444" stroke-width="0.8"/>
<text x="549.4" y="182.7" font-size="5.6" text-anchor="end" fill="#222">40</text>
<line x1="550.2" y1="135.1" x2="552.5" y2="135.1" stroke="#444" stroke-width="0.8"/>
<text x="549.4" y="137.1" font-size="5.6" text-anchor="end" fill="#222">60</text>
<line x1="550.2" y1="89.5" x2="552.5" y2="89.5" stroke="#444" stroke-width="0.8"/>
<text x="549.4" y="91.5" font-size="5.6" text-anchor="end" fill="#222">80</text>
<line x1="550.2" y1="43.9" x2="552.5" y2="43.9" stroke="#444" stroke-width="0.8"/>
<text x="549.4" y="45.9" font-size="5.6" text-anchor="end" fill="#222">100</text>
<text transform="translate(535.4,156.8) rotate(-90)" font-size="8.1" text-anchor="middle" fill="#222">Proportion (%)</text>
<rect x="563.1" y="44" width="23.2" height="68.95" fill="#6898d2"/>
<rect x="563.1" y="112.8" width="23.2" height="2.05" fill="#2c4585"/>
<rect x="563.1" y="114.7" width="23.2" height="4.20" fill="#e2e030"/>
<rect x="563.1" y="118.75" width="23.2" height="4.30" fill="#e8525a"/>
<rect x="563.1" y="122.9" width="23.2" height="7.85" fill="#ecc8c0"/>
<rect x="563.1" y="130.6" width="23.2" height="4.25" fill="#58b47c"/>
<rect x="563.1" y="134.7" width="23.2" height="0.55" fill="#78dcdc"/>
<rect x="563.1" y="135.1" width="23.2" height="7.05" fill="#ee4cc6"/>
<rect x="563.1" y="142" width="23.2" height="3.95" fill="#902470"/>
<rect x="563.1" y="145.8" width="23.2" height="4.55" fill="#b6b44a"/>
<rect x="563.1" y="150.2" width="23.2" height="11.65" fill="#7aaef0"/>
<rect x="563.1" y="161.7" width="23.2" height="5.25" fill="#38235e"/>
<rect x="563.1" y="166.8" width="23.2" height="5.55" fill="#eef27a"/>
<rect x="563.1" y="172.2" width="23.2" height="3.75" fill="#e84838"/>
<rect x="563.1" y="175.8" width="23.2" height="5.25" fill="#e27878"/>
<rect x="563.1" y="180.9" width="23.2" height="5.05" fill="#ecbab6"/>
<rect x="563.1" y="185.8" width="23.2" height="3.25" fill="#dcdfe8"/>
<rect x="563.1" y="188.9" width="23.2" height="2.35" fill="#f08cf0"/>
<rect x="563.1" y="191.1" width="23.2" height="0.55" fill="#4a5a8c"/>
<rect x="563.1" y="191.5" width="23.2" height="3.45" fill="#5ccfd4"/>
<rect x="563.1" y="194.8" width="23.2" height="6.05" fill="#f5f0d2"/>
<rect x="563.1" y="200.7" width="23.2" height="6.35" fill="#e8b4b4"/>
<rect x="563.1" y="206.9" width="23.2" height="33.55" fill="#5a7aaa"/>
<rect x="563.1" y="240.3" width="23.2" height="31.85" fill="#5cc494"/>
<line x1="574.7" y1="272.2" x2="574.7" y2="274.6" stroke="#444" stroke-width="0.8"/>
<rect x="606.8" y="44" width="23.3" height="53.05" fill="#6898d2"/>
<rect x="606.8" y="96.9" width="23.3" height="2.25" fill="#2c4585"/>
<rect x="606.8" y="99" width="23.3" height="7.85" fill="#e2e030"/>
<rect x="606.8" y="106.7" width="23.3" height="6.55" fill="#e8525a"/>
<rect x="606.8" y="113.1" width="23.3" height="9.85" fill="#ecc8c0"/>
<rect x="606.8" y="122.8" width="23.3" height="8.15" fill="#58b47c"/>
<rect x="606.8" y="130.8" width="23.3" height="1.35" fill="#78dcdc"/>
<rect x="606.8" y="132" width="23.3" height="12.15" fill="#ee4cc6"/>
<rect x="606.8" y="144" width="23.3" height="6.95" fill="#902470"/>
<rect x="606.8" y="150.8" width="23.3" height="6.35" fill="#b6b44a"/>
<rect x="606.8" y="157" width="23.3" height="10.95" fill="#7aaef0"/>
<rect x="606.8" y="167.8" width="23.3" height="11.25" fill="#38235e"/>
<rect x="606.8" y="178.9" width="23.3" height="6.25" fill="#eef27a"/>
<rect x="606.8" y="185" width="23.3" height="2.35" fill="#e84838"/>
<rect x="606.8" y="187.2" width="23.3" height="6.75" fill="#e27878"/>
<rect x="606.8" y="193.8" width="23.3" height="6.05" fill="#ecbab6"/>
<rect x="606.8" y="199.7" width="23.3" height="5.35" fill="#dcdfe8"/>
<rect x="606.8" y="204.9" width="23.3" height="5.35" fill="#f08cf0"/>
<rect x="606.8" y="210.1" width="23.3" height="1.05" fill="#4a5a8c"/>
<rect x="606.8" y="211" width="23.3" height="3.85" fill="#5ccfd4"/>
<rect x="606.8" y="214.7" width="23.3" height="1.25" fill="#88e0c8"/>
<rect x="606.8" y="215.8" width="23.3" height="9.25" fill="#f5f0d2"/>
<rect x="606.8" y="224.9" width="23.3" height="4.45" fill="#e8b4b4"/>
<rect x="606.8" y="229.2" width="23.3" height="22.05" fill="#5a7aaa"/>
<rect x="606.8" y="251.1" width="23.3" height="21.05" fill="#5cc494"/>
<line x1="618.5" y1="272.2" x2="618.5" y2="274.6" stroke="#444" stroke-width="0.8"/>
<rect x="650.4" y="44" width="23.4" height="52.25" fill="#6898d2"/>
<rect x="650.4" y="96.1" width="23.4" height="2.95" fill="#2c4585"/>
<rect x="650.4" y="98.9" width="23.4" height="4.35" fill="#e2e030"/>
<rect x="650.4" y="103.1" width="23.4" height="4.95" fill="#e8525a"/>
<rect x="650.4" y="107.9" width="23.4" height="10.15" fill="#ecc8c0"/>
<rect x="650.4" y="117.9" width="23.4" height="13.35" fill="#58b47c"/>
<rect x="650.4" y="131.1" width="23.4" height="1.95" fill="#78dcdc"/>
<rect x="650.4" y="132.9" width="23.4" height="13.85" fill="#ee4cc6"/>
<rect x="650.4" y="146.6" width="23.4" height="6.65" fill="#902470"/>
<rect x="650.4" y="153.1" width="23.4" height="4.05" fill="#b6b44a"/>
<rect x="650.4" y="157" width="23.4" height="10.95" fill="#7aaef0"/>
<rect x="650.4" y="167.8" width="23.4" height="18.15" fill="#38235e"/>
<rect x="650.4" y="185.8" width="23.4" height="5.15" fill="#eef27a"/>
<rect x="650.4" y="190.8" width="23.4" height="3.35" fill="#e84838"/>
<rect x="650.4" y="194" width="23.4" height="11.95" fill="#e27878"/>
<rect x="650.4" y="205.8" width="23.4" height="10.15" fill="#ecbab6"/>
<rect x="650.4" y="215.8" width="23.4" height="4.25" fill="#dcdfe8"/>
<rect x="650.4" y="219.9" width="23.4" height="6.35" fill="#f08cf0"/>
<rect x="650.4" y="226.1" width="23.4" height="0.95" fill="#4a5a8c"/>
<rect x="650.4" y="226.9" width="23.4" height="4.25" fill="#5ccfd4"/>
<rect x="650.4" y="231" width="23.4" height="2.05" fill="#88e0c8"/>
<rect x="650.4" y="232.9" width="23.4" height="8.25" fill="#f5f0d2"/>
<rect x="650.4" y="241" width="23.4" height="2.05" fill="#e8b4b4"/>
<rect x="650.4" y="242.9" width="23.4" height="15.35" fill="#5a7aaa"/>
<rect x="650.4" y="258.1" width="23.4" height="14.05" fill="#5cc494"/>
<line x1="662.1" y1="272.2" x2="662.1" y2="274.6" stroke="#444" stroke-width="0.8"/>
<text transform="translate(579.6,280.6) rotate(-45)" font-size="6.2" text-anchor="end" fill="#222">Placebo</text>
<text transform="translate(623.4,280.6) rotate(-45)" font-size="6.2" text-anchor="end" fill="#222">Low DIPs</text>
<text transform="translate(667.0,280.6) rotate(-45)" font-size="6.2" text-anchor="end" fill="#222">High DIPs</text>
<text x="0.4" y="324.9" font-size="16.5" font-weight="bold" fill="#000">e</text>
<text x="107.3" y="329.6" font-size="10.85" text-anchor="middle" fill="#222" style="stroke-width:0.06px">Low DIPs vs. Placebo</text>
<text x="308.7" y="329.6" font-size="10.85" text-anchor="middle" fill="#222" style="stroke-width:0.06px">High DIPs vs. Placebo</text>
<text x="511.5" y="329.6" font-size="10.85" text-anchor="middle" fill="#222" style="stroke-width:0.06px">Low DIPs vs. High DIPs</text>
<g transform="translate(10,343.6) scale(7.31,7.45)">
<rect x="0" y="0" width="26" height="51" fill="#f6eeac"/>
<path fill="#a81628" d="M0 0h26.08v1.08h-26.08zM0 1h3.08v1.08h-3.08zM7 1h1.08v1.08h-1.08zM1 3h3.08v1.08h-3.08zM19 6h1.08v1.08h-1.08zM5 12h1.08v1.08h-1.08zM7 15h1.08v1.08h-1.08zM10 15h1.08v1.08h-1.08zM16 15h1.08v1.08h-1.08zM19 15h2.08v1.08h-2.08zM15 16h1.08v1.08h-1.08zM17 16h1.08v1.08h-1.08zM20 42h1.08v1.08h-1.08z"/>
<path fill="#f5e298" d="M3 1h2.08v1.08h-2.08zM8 1h3.08v1.08h-3.08zM12 1h5.08v1.08h-5.08zM19 1h1.08v1.08h-1.08zM21 1h3.08v1.08h-3.08zM22 2h4.08v1.08h-4.08zM5 3h1.08v1.08h-1.08zM10 3h2.08v1.08h-2.08zM15 3h1.08v1.08h-1.08zM22 3h2.08v1.08h-2.08zM4 4h2.08v1.08h-2.08zM7 4h2.08v1.08h-2.08zM13 4h1.08v1.08h-1.08zM18 4h1.08v1.08h-1.08zM20 4h1.08v1.08h-1.08zM22 4h1.08v1.08h-1.08zM0 5h1.08v1.08h-1.08zM18 5h1.08v1.08h-1.08zM23 5h2.08v1.08h-2.08zM15 6h2.08v1.08h-2.08zM18 6h1.08v1.08h-1.08zM21 6h1.08v1.08h-1.08zM3 7h1.08v1.08h-1.08zM6 7h1.08v1.08h-1.08zM11 7h1.08v1.08h-1.08zM16 7h3.08v1.08h-3.08zM22 7h1.08v1.08h-1.08zM24 7h1.08v1.08h-1.08zM6 8h1.08v1.08h-1.08zM8 8h2.08v1.08h-2.08zM11 8h2.08v1.08h-2.08zM18 8h1.08v1.08h-1.08zM22 8h1.08v1.08h-1.08zM0 9h1.08v1.08h-1.08zM3 9h2.08v1.08h-2.08zM7 9h1.08v1.08h-1.08zM12 9h2.08v1.08h-2.08zM22 9h1.08v1.08h-1.08zM25 9h1.08v1.08h-1.08zM8 10h2.08v1.08h-2.08zM0 11h1.08v1.08h-1.08zM4 11h1.08v1.08h-1.08zM6 11h1.08v1.08h-1.08zM12 11h2.08v1.08h-2.08zM15 11h1.08v1.08h-1.08zM8 12h1.08v1.08h-1.08zM13 12h1.08v1.08h-1.08zM15 12h1.08v1.08h-1.08zM19 12h3.08v1.08h-3.08zM23 12h1.08v1.08h-1.08zM0 13h1.08v1.08h-1.08zM12 13h2.08v1.08h-2.08zM15 13h1.08v1.08h-1.08zM0 14h1.08v1.08h-1.08zM9 14h1.08v1.08h-1.08zM11 14h1.08v1.08h-1.08zM22 14h1.08v1.08h-1.08zM22 15h1.08v1.08h-1.08zM11 17h1.08v1.08h-1.08zM18 17h1.08v1.08h-1.08zM3 18h1.08v1.08h-1.08zM5 18h1.08v1.08h-1.08zM15 18h1.08v1.08h-1.08zM18 18h1.08v1.08h-1.08zM19 19h1.08v1.08h-1.08zM24 19h1.08v1.08h-1.08zM7 20h1.08v1.08h-1.08zM23 20h2.08v1.08h-2.08zM0 21h1.08v1.08h-1.08zM3 21h1.08v1.08h-1.08zM9 21h1.08v1.08h-1.08zM24 21h1.08v1.08h-1.08zM6 22h1.08v1.08h-1.08zM24 22h1.08v1.08h-1.08zM3 23h2.08v1.08h-2.08zM8 23h1.08v1.08h-1.08zM11 23h1.08v1.08h-1.08zM21 23h5.08v1.08h-5.08zM0 24h1.08v1.08h-1.08zM6 24h1.08v1.08h-1.08zM8 24h1.08v1.08h-1.08zM11 24h1.08v1.08h-1.08zM15 24h1.08v1.08h-1.08zM17 24h1.08v1.08h-1.08zM23 24h1.08v1.08h-1.08zM16 25h1.08v1.08h-1.08zM18 25h1.08v1.08h-1.08zM20 25h1.08v1.08h-1.08zM0 26h1.08v1.08h-1.08zM5 26h1.08v1.08h-1.08zM13 26h2.08v1.08h-2.08zM16 26h1.08v1.08h-1.08zM0 27h1.08v1.08h-1.08zM7 27h1.08v1.08h-1.08zM11 27h1.08v1.08h-1.08zM19 27h1.08v1.08h-1.08zM4 28h1.08v1.08h-1.08zM15 28h4.08v1.08h-4.08zM25 28h1.08v1.08h-1.08zM4 29h3.08v1.08h-3.08zM11 29h1.08v1.08h-1.08zM2 30h3.08v1.08h-3.08zM16 30h3.08v1.08h-3.08zM25 30h1.08v1.08h-1.08zM1 31h1.08v1.08h-1.08zM12 31h1.08v1.08h-1.08zM14 31h1.08v1.08h-1.08zM20 31h2.08v1.08h-2.08zM24 31h2.08v1.08h-2.08zM7 32h1.08v1.08h-1.08zM10 32h1.08v1.08h-1.08zM12 32h1.08v1.08h-1.08zM15 32h1.08v1.08h-1.08zM8 33h1.08v1.08h-1.08zM10 35h1.08v1.08h-1.08zM12 36h1.08v1.08h-1.08zM1 37h1.08v1.08h-1.08zM3 37h2.08v1.08h-2.08zM7 37h1.08v1.08h-1.08zM19 37h1.08v1.08h-1.08zM22 37h2.08v1.08h-2.08zM25 37h1.08v1.08h-1.08zM4 38h1.08v1.08h-1.08zM7 38h1.08v1.08h-1.08zM2 39h1.08v1.08h-1.08zM5 39h1.08v1.08h-1.08zM25 39h1.08v1.08h-1.08zM5 40h1.08v1.08h-1.08zM16 40h1.08v1.08h-1.08zM20 40h1.08v1.08h-1.08zM7 42h1.08v1.08h-1.08zM4 43h1.08v1.08h-1.08zM4 44h1.08v1.08h-1.08zM18 44h1.08v1.08h-1.08zM20 44h2.08v1.08h-2.08zM23 44h1.08v1.08h-1.08zM25 44h1.08v1.08h-1.08zM0 45h1.08v1.08h-1.08zM6 47h1.08v1.08h-1.08zM19 47h1.08v1.08h-1.08zM21 47h1.08v1.08h-1.08zM24 47h1.08v1.08h-1.08zM4 48h1.08v1.08h-1.08zM19 48h1.08v1.08h-1.08zM2 49h1.08v1.08h-1.08z"/>
<path fill="#f0c67a" d="M5 1h1.08v1.08h-1.08zM11 1h1.08v1.08h-1.08zM17 1h1.08v1.08h-1.08zM8 2h1.08v1.08h-1.08zM13 2h1.08v1.08h-1.08zM16 2h2.08v1.08h-2.08zM21 2h1.08v1.08h-1.08zM6 3h1.08v1.08h-1.08zM9 3h1.08v1.08h-1.08zM12 3h1.08v1.08h-1.08zM16 3h3.08v1.08h-3.08zM2 4h1.08v1.08h-1.08zM9 4h1.08v1.08h-1.08zM11 4h1.08v1.08h-1.08zM19 4h1.08v1.08h-1.08zM21 4h1.08v1.08h-1.08zM4 5h2.08v1.08h-2.08zM8 5h1.08v1.08h-1.08zM12 5h3.08v1.08h-3.08zM16 5h1.08v1.08h-1.08zM22 5h1.08v1.08h-1.08zM25 5h1.08v1.08h-1.08zM3 6h3.08v1.08h-3.08zM7 6h2.08v1.08h-2.08zM11 6h1.08v1.08h-1.08zM1 7h1.08v1.08h-1.08zM4 7h1.08v1.08h-1.08zM8 7h3.08v1.08h-3.08zM13 7h1.08v1.08h-1.08zM15 7h1.08v1.08h-1.08zM25 7h1.08v1.08h-1.08zM3 8h1.08v1.08h-1.08zM13 8h1.08v1.08h-1.08zM25 8h1.08v1.08h-1.08zM8 9h2.08v1.08h-2.08zM11 9h1.08v1.08h-1.08zM11 10h1.08v1.08h-1.08zM14 10h1.08v1.08h-1.08zM16 10h1.08v1.08h-1.08zM18 10h1.08v1.08h-1.08zM25 10h1.08v1.08h-1.08zM5 11h1.08v1.08h-1.08zM7 11h2.08v1.08h-2.08zM9 12h1.08v1.08h-1.08zM12 12h1.08v1.08h-1.08zM16 12h1.08v1.08h-1.08zM1 13h1.08v1.08h-1.08zM3 13h1.08v1.08h-1.08zM5 13h1.08v1.08h-1.08zM25 13h1.08v1.08h-1.08zM1 14h2.08v1.08h-2.08zM4 14h1.08v1.08h-1.08zM12 14h1.08v1.08h-1.08zM15 14h1.08v1.08h-1.08zM21 14h1.08v1.08h-1.08zM1 15h1.08v1.08h-1.08zM4 15h1.08v1.08h-1.08zM14 16h1.08v1.08h-1.08zM23 16h2.08v1.08h-2.08zM6 17h1.08v1.08h-1.08zM9 17h2.08v1.08h-2.08zM13 17h1.08v1.08h-1.08zM20 17h1.08v1.08h-1.08zM23 17h2.08v1.08h-2.08zM1 18h1.08v1.08h-1.08zM4 18h1.08v1.08h-1.08zM17 18h1.08v1.08h-1.08zM25 18h1.08v1.08h-1.08zM2 19h1.08v1.08h-1.08zM7 19h1.08v1.08h-1.08zM9 19h1.08v1.08h-1.08zM22 19h2.08v1.08h-2.08zM25 19h1.08v1.08h-1.08zM3 20h2.08v1.08h-2.08zM6 20h1.08v1.08h-1.08zM17 20h1.08v1.08h-1.08zM4 21h1.08v1.08h-1.08zM6 21h2.08v1.08h-2.08zM11 21h1.08v1.08h-1.08zM13 21h2.08v1.08h-2.08zM16 21h1.08v1.08h-1.08zM18 21h1.08v1.08h-1.08zM21 21h3.08v1.08h-3.08zM25 21h1.08v1.08h-1.08zM5 22h1.08v1.08h-1.08zM13 22h1.08v1.08h-1.08zM22 22h1.08v1.08h-1.08zM1 23h1.08v1.08h-1.08zM6 23h1.08v1.08h-1.08zM19 23h1.08v1.08h-1.08zM2 24h1.08v1.08h-1.08zM9 24h2.08v1.08h-2.08zM12 24h2.08v1.08h-2.08zM20 24h1.08v1.08h-1.08zM6 26h1.08v1.08h-1.08zM8 26h1.08v1.08h-1.08zM12 26h1.08v1.08h-1.08zM15 26h1.08v1.08h-1.08zM23 26h1.08v1.08h-1.08zM25 26h1.08v1.08h-1.08zM4 27h1.08v1.08h-1.08zM10 27h1.08v1.08h-1.08zM13 27h1.08v1.08h-1.08zM23 27h3.08v1.08h-3.08zM19 28h1.08v1.08h-1.08zM10 29h1.08v1.08h-1.08zM12 29h1.08v1.08h-1.08zM14 29h1.08v1.08h-1.08zM6 30h1.08v1.08h-1.08zM10 30h2.08v1.08h-2.08zM4 31h1.08v1.08h-1.08zM6 31h1.08v1.08h-1.08zM8 31h1.08v1.08h-1.08zM10 31h1.08v1.08h-1.08zM13 31h1.08v1.08h-1.08zM15 31h1.08v1.08h-1.08zM17 31h2.08v1.08h-2.08zM6 32h1.08v1.08h-1.08zM13 32h1.08v1.08h-1.08zM10 33h1.08v1.08h-1.08zM17 33h2.08v1.08h-2.08zM11 35h1.08v1.08h-1.08zM6 37h1.08v1.08h-1.08zM11 37h1.08v1.08h-1.08zM13 37h1.08v1.08h-1.08zM17 37h1.08v1.08h-1.08zM10 39h1.08v1.08h-1.08zM18 40h1.08v1.08h-1.08zM22 40h2.08v1.08h-2.08zM15 41h1.08v1.08h-1.08zM1 42h1.08v1.08h-1.08zM9 42h1.08v1.08h-1.08zM17 43h1.08v1.08h-1.08zM22 43h1.08v1.08h-1.08zM10 44h1.08v1.08h-1.08zM13 44h1.08v1.08h-1.08zM8 47h1.08v1.08h-1.08zM6 48h2.08v1.08h-2.08zM16 48h1.08v1.08h-1.08zM1 49h1.08v1.08h-1.08zM15 49h1.08v1.08h-1.08z"/>
<path fill="#e44e37" d="M6 1h1.08v1.08h-1.08zM12 2h1.08v1.08h-1.08zM20 2h1.08v1.08h-1.08zM7 3h1.08v1.08h-1.08zM6 4h1.08v1.08h-1.08zM15 4h3.08v1.08h-3.08zM19 7h1.08v1.08h-1.08zM2 8h1.08v1.08h-1.08zM7 8h1.08v1.08h-1.08zM18 12h1.08v1.08h-1.08zM11 13h1.08v1.08h-1.08zM18 13h1.08v1.08h-1.08zM17 14h1.08v1.08h-1.08zM6 15h1.08v1.08h-1.08zM12 15h1.08v1.08h-1.08zM25 15h1.08v1.08h-1.08zM18 16h1.08v1.08h-1.08zM14 18h1.08v1.08h-1.08zM4 19h1.08v1.08h-1.08zM17 19h1.08v1.08h-1.08zM18 22h1.08v1.08h-1.08zM14 24h1.08v1.08h-1.08zM9 25h1.08v1.08h-1.08zM13 34h1.08v1.08h-1.08zM5 38h1.08v1.08h-1.08zM16 43h1.08v1.08h-1.08zM5 45h1.08v1.08h-1.08z"/>
<path fill="#f6eeac" d="M18 1h1.08v1.08h-1.08zM20 1h1.08v1.08h-1.08zM24 1h1.08v1.08h-1.08zM8 3h1.08v1.08h-1.08zM21 3h1.08v1.08h-1.08zM24 3h1.08v1.08h-1.08zM10 4h1.08v1.08h-1.08zM12 4h1.08v1.08h-1.08zM14 4h1.08v1.08h-1.08zM23 4h3.08v1.08h-3.08zM6 5h1.08v1.08h-1.08zM17 5h1.08v1.08h-1.08zM20 5h1.08v1.08h-1.08zM10 6h1.08v1.08h-1.08zM17 6h1.08v1.08h-1.08zM25 6h1.08v1.08h-1.08zM23 7h1.08v1.08h-1.08zM4 8h1.08v1.08h-1.08zM10 8h1.08v1.08h-1.08zM15 8h2.08v1.08h-2.08zM19 8h1.08v1.08h-1.08zM21 8h1.08v1.08h-1.08zM24 8h1.08v1.08h-1.08zM6 9h1.08v1.08h-1.08zM10 9h1.08v1.08h-1.08zM17 9h2.08v1.08h-2.08zM23 9h1.08v1.08h-1.08zM10 10h1.08v1.08h-1.08zM12 10h1.08v1.08h-1.08zM17 10h1.08v1.08h-1.08zM19 10h2.08v1.08h-2.08zM22 10h3.08v1.08h-3.08zM11 11h1.08v1.08h-1.08zM18 11h2.08v1.08h-2.08zM25 11h1.08v1.08h-1.08zM14 12h1.08v1.08h-1.08zM22 12h1.08v1.08h-1.08zM9 13h1.08v1.08h-1.08zM14 13h1.08v1.08h-1.08zM22 13h1.08v1.08h-1.08zM3 14h1.08v1.08h-1.08zM8 14h1.08v1.08h-1.08zM13 14h2.08v1.08h-2.08zM16 14h1.08v1.08h-1.08zM23 14h3.08v1.08h-3.08zM5 16h1.08v1.08h-1.08zM2 17h1.08v1.08h-1.08zM5 17h1.08v1.08h-1.08zM7 17h1.08v1.08h-1.08zM22 17h1.08v1.08h-1.08zM16 18h1.08v1.08h-1.08zM0 19h1.08v1.08h-1.08zM21 19h1.08v1.08h-1.08zM8 20h1.08v1.08h-1.08zM12 20h1.08v1.08h-1.08zM22 20h1.08v1.08h-1.08zM2 21h1.08v1.08h-1.08zM0 22h1.08v1.08h-1.08zM14 22h1.08v1.08h-1.08zM2 23h1.08v1.08h-1.08zM15 23h1.08v1.08h-1.08zM4 24h1.08v1.08h-1.08zM16 24h1.08v1.08h-1.08zM22 24h1.08v1.08h-1.08zM24 24h1.08v1.08h-1.08zM3 25h2.08v1.08h-2.08zM15 25h1.08v1.08h-1.08zM25 25h1.08v1.08h-1.08zM7 26h1.08v1.08h-1.08zM11 26h1.08v1.08h-1.08zM19 26h1.08v1.08h-1.08zM22 26h1.08v1.08h-1.08zM24 26h1.08v1.08h-1.08zM22 27h1.08v1.08h-1.08zM6 28h1.08v1.08h-1.08zM11 28h1.08v1.08h-1.08zM20 28h1.08v1.08h-1.08zM22 28h3.08v1.08h-3.08zM1 29h3.08v1.08h-3.08zM7 29h1.08v1.08h-1.08zM15 29h1.08v1.08h-1.08zM17 29h2.08v1.08h-2.08zM21 29h1.08v1.08h-1.08zM24 29h2.08v1.08h-2.08zM1 30h1.08v1.08h-1.08zM7 30h1.08v1.08h-1.08zM13 30h2.08v1.08h-2.08zM20 30h1.08v1.08h-1.08zM22 30h3.08v1.08h-3.08zM2 31h2.08v1.08h-2.08zM7 31h1.08v1.08h-1.08zM11 31h1.08v1.08h-1.08zM22 31h2.08v1.08h-2.08zM16 32h3.08v1.08h-3.08zM21 32h1.08v1.08h-1.08zM25 32h1.08v1.08h-1.08zM15 33h2.08v1.08h-2.08zM19 33h2.08v1.08h-2.08zM23 33h1.08v1.08h-1.08zM14 34h1.08v1.08h-1.08zM8 35h1.08v1.08h-1.08zM15 35h1.08v1.08h-1.08zM18 35h1.08v1.08h-1.08zM22 35h2.08v1.08h-2.08zM25 35h1.08v1.08h-1.08zM15 36h1.08v1.08h-1.08zM17 36h2.08v1.08h-2.08zM22 36h2.08v1.08h-2.08zM25 36h1.08v1.08h-1.08zM0 37h1.08v1.08h-1.08zM2 37h1.08v1.08h-1.08zM16 37h1.08v1.08h-1.08zM24 37h1.08v1.08h-1.08zM1 38h1.08v1.08h-1.08zM3 38h1.08v1.08h-1.08zM15 38h3.08v1.08h-3.08zM19 38h1.08v1.08h-1.08zM25 38h1.08v1.08h-1.08zM1 39h1.08v1.08h-1.08zM11 39h1.08v1.08h-1.08zM15 39h1.08v1.08h-1.08zM1 40h1.08v1.08h-1.08zM4 40h1.08v1.08h-1.08zM10 40h2.08v1.08h-2.08zM18 41h1.08v1.08h-1.08zM2 42h1.08v1.08h-1.08zM17 42h1.08v1.08h-1.08zM1 43h1.08v1.08h-1.08zM10 43h2.08v1.08h-2.08zM11 44h1.08v1.08h-1.08zM15 44h2.08v1.08h-2.08zM24 44h1.08v1.08h-1.08zM16 45h1.08v1.08h-1.08zM12 47h1.08v1.08h-1.08zM8 49h1.08v1.08h-1.08z"/>
<path fill="#f0af69" d="M25 1h1.08v1.08h-1.08zM18 2h2.08v1.08h-2.08zM1 4h1.08v1.08h-1.08zM10 5h1.08v1.08h-1.08zM15 5h1.08v1.08h-1.08zM0 6h1.08v1.08h-1.08zM0 7h1.08v1.08h-1.08zM2 7h1.08v1.08h-1.08zM14 7h1.08v1.08h-1.08zM20 7h1.08v1.08h-1.08zM1 9h2.08v1.08h-2.08zM13 10h1.08v1.08h-1.08zM1 11h1.08v1.08h-1.08zM3 11h1.08v1.08h-1.08zM2 13h1.08v1.08h-1.08zM6 14h1.08v1.08h-1.08zM18 14h2.08v1.08h-2.08zM15 15h1.08v1.08h-1.08zM16 16h1.08v1.08h-1.08zM22 16h1.08v1.08h-1.08zM3 17h1.08v1.08h-1.08zM15 17h3.08v1.08h-3.08zM0 18h1.08v1.08h-1.08zM6 18h1.08v1.08h-1.08zM12 18h1.08v1.08h-1.08zM20 18h2.08v1.08h-2.08zM18 20h1.08v1.08h-1.08zM8 21h1.08v1.08h-1.08zM10 21h1.08v1.08h-1.08zM12 21h1.08v1.08h-1.08zM9 22h1.08v1.08h-1.08zM12 22h1.08v1.08h-1.08zM15 22h1.08v1.08h-1.08zM23 22h1.08v1.08h-1.08zM25 22h1.08v1.08h-1.08zM9 23h1.08v1.08h-1.08zM12 23h1.08v1.08h-1.08zM7 24h1.08v1.08h-1.08zM21 24h1.08v1.08h-1.08zM12 25h1.08v1.08h-1.08zM9 26h1.08v1.08h-1.08zM17 26h2.08v1.08h-2.08zM8 27h2.08v1.08h-2.08zM18 27h1.08v1.08h-1.08zM12 28h1.08v1.08h-1.08zM8 29h2.08v1.08h-2.08zM13 29h1.08v1.08h-1.08zM15 30h1.08v1.08h-1.08zM8 32h2.08v1.08h-2.08zM19 39h1.08v1.08h-1.08zM21 39h1.08v1.08h-1.08zM21 40h1.08v1.08h-1.08zM0 44h1.08v1.08h-1.08zM22 44h1.08v1.08h-1.08zM3 45h1.08v1.08h-1.08zM25 47h1.08v1.08h-1.08z"/>
<path fill="#d73028" d="M0 2h2.08v1.08h-2.08zM9 2h1.08v1.08h-1.08zM0 3h1.08v1.08h-1.08zM4 3h1.08v1.08h-1.08zM1 6h2.08v1.08h-2.08zM5 9h1.08v1.08h-1.08zM5 10h1.08v1.08h-1.08zM2 11h1.08v1.08h-1.08zM2 12h1.08v1.08h-1.08zM7 12h1.08v1.08h-1.08zM2 15h2.08v1.08h-2.08zM23 15h1.08v1.08h-1.08zM9 16h1.08v1.08h-1.08zM12 16h1.08v1.08h-1.08zM18 19h1.08v1.08h-1.08zM17 22h1.08v1.08h-1.08zM21 27h1.08v1.08h-1.08zM19 41h1.08v1.08h-1.08zM1 47h1.08v1.08h-1.08z"/>
<path fill="#c31e28" d="M2 2h1.08v1.08h-1.08zM7 2h1.08v1.08h-1.08zM2 5h1.08v1.08h-1.08zM19 9h1.08v1.08h-1.08zM9 15h1.08v1.08h-1.08zM11 15h1.08v1.08h-1.08zM6 19h1.08v1.08h-1.08z"/>
<path fill="#ee8c55" d="M3 2h1.08v1.08h-1.08zM6 2h1.08v1.08h-1.08zM11 2h1.08v1.08h-1.08zM14 2h2.08v1.08h-2.08zM13 3h1.08v1.08h-1.08zM25 3h1.08v1.08h-1.08zM0 4h1.08v1.08h-1.08zM3 4h1.08v1.08h-1.08zM1 5h1.08v1.08h-1.08zM7 5h1.08v1.08h-1.08zM9 5h1.08v1.08h-1.08zM11 5h1.08v1.08h-1.08zM6 6h1.08v1.08h-1.08zM9 6h1.08v1.08h-1.08zM12 6h2.08v1.08h-2.08zM7 7h1.08v1.08h-1.08zM12 7h1.08v1.08h-1.08zM21 7h1.08v1.08h-1.08zM0 8h2.08v1.08h-2.08zM20 8h1.08v1.08h-1.08zM0 10h1.08v1.08h-1.08zM2 10h1.08v1.08h-1.08zM7 10h1.08v1.08h-1.08zM3 12h1.08v1.08h-1.08zM10 12h2.08v1.08h-2.08zM24 12h2.08v1.08h-2.08zM7 13h1.08v1.08h-1.08zM10 13h1.08v1.08h-1.08zM20 13h1.08v1.08h-1.08zM5 15h1.08v1.08h-1.08zM17 15h2.08v1.08h-2.08zM21 15h1.08v1.08h-1.08zM24 15h1.08v1.08h-1.08zM2 16h1.08v1.08h-1.08zM4 16h1.08v1.08h-1.08zM8 16h1.08v1.08h-1.08zM10 16h2.08v1.08h-2.08zM13 16h1.08v1.08h-1.08zM21 16h1.08v1.08h-1.08zM25 16h1.08v1.08h-1.08zM12 17h1.08v1.08h-1.08zM2 18h1.08v1.08h-1.08zM7 18h2.08v1.08h-2.08zM10 18h2.08v1.08h-2.08zM13 18h1.08v1.08h-1.08zM22 18h1.08v1.08h-1.08zM24 18h1.08v1.08h-1.08zM1 19h1.08v1.08h-1.08zM3 19h1.08v1.08h-1.08zM15 20h2.08v1.08h-2.08zM19 20h1.08v1.08h-1.08zM25 20h1.08v1.08h-1.08zM5 21h1.08v1.08h-1.08zM15 21h1.08v1.08h-1.08zM17 21h1.08v1.08h-1.08zM8 22h1.08v1.08h-1.08zM11 22h1.08v1.08h-1.08zM16 22h1.08v1.08h-1.08zM17 23h1.08v1.08h-1.08zM1 24h1.08v1.08h-1.08zM8 25h1.08v1.08h-1.08zM11 25h1.08v1.08h-1.08zM10 26h1.08v1.08h-1.08zM12 27h1.08v1.08h-1.08zM15 27h1.08v1.08h-1.08zM8 30h2.08v1.08h-2.08zM12 30h1.08v1.08h-1.08zM12 37h1.08v1.08h-1.08zM15 40h1.08v1.08h-1.08zM19 40h1.08v1.08h-1.08zM5 42h1.08v1.08h-1.08zM7 44h1.08v1.08h-1.08zM2 47h1.08v1.08h-1.08z"/>
<path fill="#ec6c46" d="M4 2h2.08v1.08h-2.08zM10 2h1.08v1.08h-1.08zM19 3h1.08v1.08h-1.08zM5 7h1.08v1.08h-1.08zM9 11h1.08v1.08h-1.08zM21 13h1.08v1.08h-1.08zM0 15h1.08v1.08h-1.08zM8 15h1.08v1.08h-1.08zM13 15h2.08v1.08h-2.08zM0 16h2.08v1.08h-2.08zM3 16h1.08v1.08h-1.08zM6 16h2.08v1.08h-2.08zM19 16h1.08v1.08h-1.08zM4 17h1.08v1.08h-1.08zM19 17h1.08v1.08h-1.08zM25 17h1.08v1.08h-1.08zM9 18h1.08v1.08h-1.08zM23 18h1.08v1.08h-1.08zM16 19h1.08v1.08h-1.08zM19 21h1.08v1.08h-1.08zM10 22h1.08v1.08h-1.08zM5 24h1.08v1.08h-1.08zM17 27h1.08v1.08h-1.08zM9 31h1.08v1.08h-1.08zM9 35h1.08v1.08h-1.08zM15 42h1.08v1.08h-1.08zM3 44h1.08v1.08h-1.08zM15 47h1.08v1.08h-1.08z"/>
<path fill="#ecf8d8" d="M14 3h1.08v1.08h-1.08zM3 5h1.08v1.08h-1.08zM21 5h1.08v1.08h-1.08zM14 9h1.08v1.08h-1.08zM20 9h1.08v1.08h-1.08zM21 11h1.08v1.08h-1.08zM6 12h1.08v1.08h-1.08zM15 19h1.08v1.08h-1.08zM1 20h1.08v1.08h-1.08zM9 20h1.08v1.08h-1.08zM14 20h1.08v1.08h-1.08zM19 22h1.08v1.08h-1.08zM21 22h1.08v1.08h-1.08zM16 23h1.08v1.08h-1.08zM1 26h2.08v1.08h-2.08zM21 26h1.08v1.08h-1.08zM2 27h1.08v1.08h-1.08zM7 28h1.08v1.08h-1.08zM14 32h1.08v1.08h-1.08zM5 33h1.08v1.08h-1.08zM12 33h1.08v1.08h-1.08zM14 33h1.08v1.08h-1.08zM21 33h1.08v1.08h-1.08zM7 35h1.08v1.08h-1.08zM14 35h1.08v1.08h-1.08zM3 36h1.08v1.08h-1.08zM5 36h1.08v1.08h-1.08zM7 36h4.08v1.08h-4.08zM16 36h1.08v1.08h-1.08zM9 37h1.08v1.08h-1.08zM0 39h1.08v1.08h-1.08zM4 39h1.08v1.08h-1.08zM9 39h1.08v1.08h-1.08zM13 39h1.08v1.08h-1.08zM16 39h1.08v1.08h-1.08zM20 39h1.08v1.08h-1.08zM3 40h1.08v1.08h-1.08zM5 41h1.08v1.08h-1.08zM8 41h1.08v1.08h-1.08zM17 41h1.08v1.08h-1.08zM10 42h1.08v1.08h-1.08zM14 42h1.08v1.08h-1.08zM5 43h1.08v1.08h-1.08zM1 44h2.08v1.08h-2.08zM6 45h1.08v1.08h-1.08zM8 45h1.08v1.08h-1.08zM13 45h1.08v1.08h-1.08zM21 45h1.08v1.08h-1.08zM23 45h2.08v1.08h-2.08zM3 46h1.08v1.08h-1.08zM3 48h1.08v1.08h-1.08zM5 48h1.08v1.08h-1.08zM13 48h1.08v1.08h-1.08zM15 48h1.08v1.08h-1.08zM18 48h1.08v1.08h-1.08zM21 48h1.08v1.08h-1.08zM24 48h2.08v1.08h-2.08zM0 49h1.08v1.08h-1.08zM6 49h2.08v1.08h-2.08zM24 49h2.08v1.08h-2.08z"/>
<path fill="#f3fbc2" d="M20 3h1.08v1.08h-1.08zM14 6h1.08v1.08h-1.08zM20 6h1.08v1.08h-1.08zM22 6h3.08v1.08h-3.08zM5 8h1.08v1.08h-1.08zM14 8h1.08v1.08h-1.08zM17 8h1.08v1.08h-1.08zM23 8h1.08v1.08h-1.08zM15 9h2.08v1.08h-2.08zM21 9h1.08v1.08h-1.08zM24 9h1.08v1.08h-1.08zM1 10h1.08v1.08h-1.08zM4 10h1.08v1.08h-1.08zM6 10h1.08v1.08h-1.08zM15 10h1.08v1.08h-1.08zM21 10h1.08v1.08h-1.08zM10 11h1.08v1.08h-1.08zM14 11h1.08v1.08h-1.08zM16 11h2.08v1.08h-2.08zM20 11h1.08v1.08h-1.08zM22 11h3.08v1.08h-3.08zM0 12h1.08v1.08h-1.08zM4 12h1.08v1.08h-1.08zM17 12h1.08v1.08h-1.08zM4 13h1.08v1.08h-1.08zM6 13h1.08v1.08h-1.08zM8 13h1.08v1.08h-1.08zM16 13h2.08v1.08h-2.08zM19 13h1.08v1.08h-1.08zM23 13h2.08v1.08h-2.08zM5 14h1.08v1.08h-1.08zM7 14h1.08v1.08h-1.08zM10 14h1.08v1.08h-1.08zM20 16h1.08v1.08h-1.08zM0 17h2.08v1.08h-2.08zM8 17h1.08v1.08h-1.08zM14 17h1.08v1.08h-1.08zM21 17h1.08v1.08h-1.08zM5 19h1.08v1.08h-1.08zM10 19h1.08v1.08h-1.08zM12 19h2.08v1.08h-2.08zM20 19h1.08v1.08h-1.08zM0 20h1.08v1.08h-1.08zM2 20h1.08v1.08h-1.08zM5 20h1.08v1.08h-1.08zM13 20h1.08v1.08h-1.08zM20 20h2.08v1.08h-2.08zM1 21h1.08v1.08h-1.08zM20 21h1.08v1.08h-1.08zM2 22h1.08v1.08h-1.08zM4 22h1.08v1.08h-1.08zM7 22h1.08v1.08h-1.08zM20 22h1.08v1.08h-1.08zM0 23h1.08v1.08h-1.08zM7 23h1.08v1.08h-1.08zM10 23h1.08v1.08h-1.08zM13 23h2.08v1.08h-2.08zM18 23h1.08v1.08h-1.08zM3 24h1.08v1.08h-1.08zM18 24h2.08v1.08h-2.08zM25 24h1.08v1.08h-1.08zM0 25h3.08v1.08h-3.08zM6 25h2.08v1.08h-2.08zM10 25h1.08v1.08h-1.08zM13 25h2.08v1.08h-2.08zM17 25h1.08v1.08h-1.08zM21 25h4.08v1.08h-4.08zM4 26h1.08v1.08h-1.08zM20 26h1.08v1.08h-1.08zM1 27h1.08v1.08h-1.08zM3 27h1.08v1.08h-1.08zM6 27h1.08v1.08h-1.08zM14 27h1.08v1.08h-1.08zM16 27h1.08v1.08h-1.08zM0 28h4.08v1.08h-4.08zM8 28h1.08v1.08h-1.08zM10 28h1.08v1.08h-1.08zM13 28h2.08v1.08h-2.08zM21 28h1.08v1.08h-1.08zM0 29h1.08v1.08h-1.08zM16 29h1.08v1.08h-1.08zM20 29h1.08v1.08h-1.08zM22 29h2.08v1.08h-2.08zM0 30h1.08v1.08h-1.08zM21 30h1.08v1.08h-1.08zM0 31h1.08v1.08h-1.08zM16 31h1.08v1.08h-1.08zM19 31h1.08v1.08h-1.08zM0 32h6.08v1.08h-6.08zM11 32h1.08v1.08h-1.08zM19 32h2.08v1.08h-2.08zM22 32h3.08v1.08h-3.08zM0 33h3.08v1.08h-3.08zM4 33h1.08v1.08h-1.08zM6 33h2.08v1.08h-2.08zM9 33h1.08v1.08h-1.08zM11 33h1.08v1.08h-1.08zM13 33h1.08v1.08h-1.08zM22 33h1.08v1.08h-1.08zM24 33h2.08v1.08h-2.08zM0 34h9.08v1.08h-9.08zM10 34h3.08v1.08h-3.08zM15 34h11.08v1.08h-11.08zM0 35h7.08v1.08h-7.08zM12 35h2.08v1.08h-2.08zM16 35h2.08v1.08h-2.08zM19 35h3.08v1.08h-3.08zM24 35h1.08v1.08h-1.08zM0 36h3.08v1.08h-3.08zM4 36h1.08v1.08h-1.08zM6 36h1.08v1.08h-1.08zM11 36h1.08v1.08h-1.08zM19 36h3.08v1.08h-3.08zM24 36h1.08v1.08h-1.08zM8 37h1.08v1.08h-1.08zM10 37h1.08v1.08h-1.08zM15 37h1.08v1.08h-1.08zM18 37h1.08v1.08h-1.08zM0 38h1.08v1.08h-1.08zM2 38h1.08v1.08h-1.08zM6 38h1.08v1.08h-1.08zM8 38h7.08v1.08h-7.08zM18 38h1.08v1.08h-1.08zM20 38h5.08v1.08h-5.08zM3 39h1.08v1.08h-1.08zM8 39h1.08v1.08h-1.08zM12 39h1.08v1.08h-1.08zM14 39h1.08v1.08h-1.08zM23 39h2.08v1.08h-2.08zM0 40h1.08v1.08h-1.08zM2 40h1.08v1.08h-1.08zM6 40h4.08v1.08h-4.08zM12 40h3.08v1.08h-3.08zM17 40h1.08v1.08h-1.08zM24 40h2.08v1.08h-2.08zM0 41h5.08v1.08h-5.08zM6 41h2.08v1.08h-2.08zM9 41h6.08v1.08h-6.08zM16 41h1.08v1.08h-1.08zM20 41h6.08v1.08h-6.08zM0 42h1.08v1.08h-1.08zM3 42h2.08v1.08h-2.08zM6 42h1.08v1.08h-1.08zM8 42h1.08v1.08h-1.08zM11 42h3.08v1.08h-3.08zM16 42h1.08v1.08h-1.08zM18 42h2.08v1.08h-2.08zM21 42h5.08v1.08h-5.08zM0 43h1.08v1.08h-1.08zM2 43h2.08v1.08h-2.08zM6 43h4.08v1.08h-4.08zM12 43h4.08v1.08h-4.08zM18 43h1.08v1.08h-1.08zM21 43h1.08v1.08h-1.08zM23 43h3.08v1.08h-3.08zM5 44h1.08v1.08h-1.08zM8 44h2.08v1.08h-2.08zM12 44h1.08v1.08h-1.08zM14 44h1.08v1.08h-1.08zM19 44h1.08v1.08h-1.08zM9 45h3.08v1.08h-3.08zM15 45h1.08v1.08h-1.08zM18 45h3.08v1.08h-3.08zM22 45h1.08v1.08h-1.08zM0 46h3.08v1.08h-3.08zM4 46h5.08v1.08h-5.08zM13 46h13.08v1.08h-13.08zM0 47h1.08v1.08h-1.08zM4 47h1.08v1.08h-1.08zM7 47h1.08v1.08h-1.08zM10 47h2.08v1.08h-2.08zM13 47h1.08v1.08h-1.08zM23 47h1.08v1.08h-1.08zM0 48h3.08v1.08h-3.08zM17 48h1.08v1.08h-1.08zM22 48h1.08v1.08h-1.08zM12 49h1.08v1.08h-1.08zM23 49h1.08v1.08h-1.08z"/>
<path fill="#aad6eb" d="M19 5h1.08v1.08h-1.08zM20 27h1.08v1.08h-1.08zM9 34h1.08v1.08h-1.08zM14 36h1.08v1.08h-1.08zM9 47h1.08v1.08h-1.08zM22 47h1.08v1.08h-1.08zM19 49h2.08v1.08h-2.08zM1 50h2.08v1.08h-2.08zM24 50h1.08v1.08h-1.08z"/>
<path fill="#dcf0f5" d="M3 10h1.08v1.08h-1.08zM1 12h1.08v1.08h-1.08zM20 14h1.08v1.08h-1.08zM19 18h1.08v1.08h-1.08zM8 19h1.08v1.08h-1.08zM11 19h1.08v1.08h-1.08zM10 20h2.08v1.08h-2.08zM1 22h1.08v1.08h-1.08zM20 23h1.08v1.08h-1.08zM5 25h1.08v1.08h-1.08zM19 25h1.08v1.08h-1.08zM5 27h1.08v1.08h-1.08zM5 28h1.08v1.08h-1.08zM9 28h1.08v1.08h-1.08zM19 29h1.08v1.08h-1.08zM5 31h1.08v1.08h-1.08zM13 36h1.08v1.08h-1.08zM5 37h1.08v1.08h-1.08zM14 37h1.08v1.08h-1.08zM6 39h1.08v1.08h-1.08zM22 39h1.08v1.08h-1.08zM6 44h1.08v1.08h-1.08zM1 45h1.08v1.08h-1.08zM12 45h1.08v1.08h-1.08zM14 45h1.08v1.08h-1.08zM25 45h1.08v1.08h-1.08zM10 46h1.08v1.08h-1.08zM3 47h1.08v1.08h-1.08zM16 47h1.08v1.08h-1.08zM18 47h1.08v1.08h-1.08zM20 47h1.08v1.08h-1.08zM20 48h1.08v1.08h-1.08zM23 48h1.08v1.08h-1.08zM10 49h1.08v1.08h-1.08zM13 49h1.08v1.08h-1.08zM16 49h1.08v1.08h-1.08zM21 49h1.08v1.08h-1.08zM17 50h1.08v1.08h-1.08z"/>
<path fill="#c3e4f0" d="M14 19h1.08v1.08h-1.08zM3 26h1.08v1.08h-1.08zM5 30h1.08v1.08h-1.08zM19 30h1.08v1.08h-1.08zM20 37h2.08v1.08h-2.08zM7 39h1.08v1.08h-1.08zM17 39h2.08v1.08h-2.08zM9 46h1.08v1.08h-1.08zM3 49h2.08v1.08h-2.08zM11 49h1.08v1.08h-1.08zM18 49h1.08v1.08h-1.08zM4 50h1.08v1.08h-1.08zM6 50h1.08v1.08h-1.08zM25 50h1.08v1.08h-1.08z"/>
<path fill="#323796" d="M3 22h1.08v1.08h-1.08zM5 47h1.08v1.08h-1.08zM11 48h1.08v1.08h-1.08zM5 49h1.08v1.08h-1.08zM16 50h1.08v1.08h-1.08zM18 50h4.08v1.08h-4.08z"/>
<path fill="#73aad2" d="M5 23h1.08v1.08h-1.08zM19 43h2.08v1.08h-2.08zM17 44h1.08v1.08h-1.08zM7 45h1.08v1.08h-1.08zM12 46h1.08v1.08h-1.08zM9 49h1.08v1.08h-1.08zM22 49h1.08v1.08h-1.08zM0 50h1.08v1.08h-1.08zM8 50h2.08v1.08h-2.08zM13 50h1.08v1.08h-1.08zM15 50h1.08v1.08h-1.08z"/>
<path fill="#8cc0e0" d="M3 33h1.08v1.08h-1.08zM2 45h1.08v1.08h-1.08zM17 45h1.08v1.08h-1.08zM14 47h1.08v1.08h-1.08zM17 47h1.08v1.08h-1.08zM9 48h2.08v1.08h-2.08zM14 49h1.08v1.08h-1.08zM3 50h1.08v1.08h-1.08zM10 50h1.08v1.08h-1.08zM14 50h1.08v1.08h-1.08zM22 50h2.08v1.08h-2.08z"/>
<path fill="#5a8cc8" d="M4 45h1.08v1.08h-1.08zM8 48h1.08v1.08h-1.08zM12 48h1.08v1.08h-1.08zM14 48h1.08v1.08h-1.08zM17 49h1.08v1.08h-1.08zM5 50h1.08v1.08h-1.08zM11 50h2.08v1.08h-2.08z"/>
<path fill="#3a50a8" d="M11 46h1.08v1.08h-1.08z"/>
<path fill="#4670b4" d="M7 50h1.08v1.08h-1.08z"/>
</g>
<line x1="68.48" y1="343.6" x2="68.48" y2="723.55" stroke="#fff" stroke-width="1.0" opacity="0.8"/>
<line x1="68.48" y1="343.6" x2="68.48" y2="723.55" stroke="#1a1a1a" stroke-width="0.9" stroke-dasharray="5.1,1.2"/>
<line x1="119.65" y1="343.6" x2="119.65" y2="723.55" stroke="#fff" stroke-width="1.0" opacity="0.8"/>
<line x1="119.65" y1="343.6" x2="119.65" y2="723.55" stroke="#1a1a1a" stroke-width="0.9" stroke-dasharray="5.1,1.2"/>
<line x1="170.82" y1="343.6" x2="170.82" y2="723.55" stroke="#fff" stroke-width="1.0" opacity="0.8"/>
<line x1="170.82" y1="343.6" x2="170.82" y2="723.55" stroke="#1a1a1a" stroke-width="0.9" stroke-dasharray="5.1,1.2"/>
<line x1="10.00" y1="343.6" x2="10.00" y2="723.55" stroke="#111" stroke-width="1.3"/>
<line x1="200.06" y1="343.6" x2="200.06" y2="723.55" stroke="#111" stroke-width="1.3"/>
<rect x="10.00" y="334.5" width="58.48" height="9.1" fill="#58aee8"/>
<text x="39.24" y="341.8" font-size="6.85" text-anchor="middle" fill="#222">Epithelial cells</text>
<rect x="68.48" y="334.5" width="51.17" height="9.1" fill="#7ccb64"/>
<text x="94.06" y="341.8" font-size="6.85" text-anchor="middle" fill="#222">Immune cells</text>
<rect x="119.65" y="334.5" width="51.17" height="9.1" fill="#8d99d0"/>
<text x="145.23" y="341.8" font-size="6.85" text-anchor="middle" fill="#222">Fibroblasts</text>
<rect x="170.82" y="334.5" width="29.24" height="9.1" fill="#eba1d1"/>
<text x="185.44" y="341.8" font-size="6.85" text-anchor="middle" fill="#222">Neurons</text>
<text transform="translate(11.55,724.6) rotate(90)" font-size="6.1" fill="#222">Basal epithelial cells</text>
<text transform="translate(18.86,724.6) rotate(90)" font-size="6.1" fill="#222">Club cells</text>
<text transform="translate(26.17,724.6) rotate(90)" font-size="6.1" fill="#222">Goblet cells</text>
<text transform="translate(33.48,724.6) rotate(90)" font-size="6.1" fill="#222">Microfold cells</text>
<text transform="translate(40.79,724.6) rotate(90)" font-size="6.1" fill="#222">Ionocytes</text>
<text transform="translate(48.10,724.6) rotate(90)" font-size="6.1" fill="#222">Ciliated epithelial cells</text>
<text transform="translate(55.41,724.6) rotate(90)" font-size="6.1" fill="#222">Muc2+ Cyp2g1+ olfactory epithelial cells</text>
<text transform="translate(62.72,724.6) rotate(90)" font-size="6.1" fill="#222">Tuba1b+ Hist1h1b+ Birc5+ olfactory epithelial cells</text>
<text transform="translate(70.03,724.6) rotate(90)" font-size="6.1" fill="#222">Macrophages</text>
<text transform="translate(77.34,724.6) rotate(90)" font-size="6.1" fill="#222">Dendritic cells or monocytes</text>
<text transform="translate(84.66,724.6) rotate(90)" font-size="6.1" fill="#222">Neutrophils</text>
<text transform="translate(91.97,724.6) rotate(90)" font-size="6.1" fill="#222">Basophilic granulocytes</text>
<text transform="translate(99.28,724.6) rotate(90)" font-size="6.1" fill="#222">Eosinophilic granulocytes</text>
<text transform="translate(106.58,724.6) rotate(90)" font-size="6.1" fill="#222">T cells</text>
<text transform="translate(113.89,724.6) rotate(90)" font-size="6.1" fill="#222">B cells</text>
<text transform="translate(121.20,724.6) rotate(90)" font-size="6.1" fill="#222">Fibroblasts 1</text>
<text transform="translate(128.52,724.6) rotate(90)" font-size="6.1" fill="#222">Fibroblasts 2</text>
<text transform="translate(135.83,724.6) rotate(90)" font-size="6.1" fill="#222">Fibroblasts 3</text>
<text transform="translate(143.13,724.6) rotate(90)" font-size="6.1" fill="#222">Myofibroblasts</text>
<text transform="translate(150.44,724.6) rotate(90)" font-size="6.1" fill="#222">Pip1+ Fabp7+ Mpz+ cells</text>
<text transform="translate(157.75,724.6) rotate(90)" font-size="6.1" fill="#222">Blood endothelial cells</text>
<text transform="translate(165.06,724.6) rotate(90)" font-size="6.1" fill="#222">Col21a+ Nmm1+ Gng11+ cells</text>
<text transform="translate(172.38,724.6) rotate(90)" font-size="6.1" fill="#222">Mitral tufted cells</text>
<text transform="translate(179.69,724.6) rotate(90)" font-size="6.1" fill="#222">Immature rostral migratory neurons</text>
<text transform="translate(187.00,724.6) rotate(90)" font-size="6.1" fill="#222">Immature olfactory sensory neurons</text>
<text transform="translate(194.31,724.6) rotate(90)" font-size="6.1" fill="#222">Olfactory sensory neurons</text>
<g transform="translate(211,343.6) scale(7.31,7.45)">
<rect x="0" y="0" width="26" height="51" fill="#f6eeac"/>
<path fill="#a81628" d="M0 0h26.08v1.08h-26.08zM1 1h2.08v1.08h-2.08zM7 1h1.08v1.08h-1.08zM6 2h1.08v1.08h-1.08zM6 3h1.08v1.08h-1.08zM17 4h1.08v1.08h-1.08zM6 6h1.08v1.08h-1.08zM20 13h1.08v1.08h-1.08zM17 14h1.08v1.08h-1.08zM17 16h1.08v1.08h-1.08zM5 19h1.08v1.08h-1.08zM19 19h1.08v1.08h-1.08zM19 20h1.08v1.08h-1.08zM10 22h1.08v1.08h-1.08zM10 26h1.08v1.08h-1.08zM21 47h1.08v1.08h-1.08z"/>
<path fill="#f5e298" d="M0 1h1.08v1.08h-1.08zM5 2h1.08v1.08h-1.08zM8 2h1.08v1.08h-1.08zM13 2h1.08v1.08h-1.08zM16 2h1.08v1.08h-1.08zM18 2h1.08v1.08h-1.08zM22 2h1.08v1.08h-1.08zM25 2h1.08v1.08h-1.08zM18 3h1.08v1.08h-1.08zM21 3h2.08v1.08h-2.08zM25 3h1.08v1.08h-1.08zM10 4h1.08v1.08h-1.08zM13 4h1.08v1.08h-1.08zM22 4h1.08v1.08h-1.08zM8 5h3.08v1.08h-3.08zM12 5h1.08v1.08h-1.08zM15 6h2.08v1.08h-2.08zM18 6h1.08v1.08h-1.08zM21 6h1.08v1.08h-1.08zM6 7h1.08v1.08h-1.08zM17 7h2.08v1.08h-2.08zM22 7h1.08v1.08h-1.08zM24 7h2.08v1.08h-2.08zM11 8h1.08v1.08h-1.08zM19 8h1.08v1.08h-1.08zM0 9h1.08v1.08h-1.08zM4 9h1.08v1.08h-1.08zM10 9h1.08v1.08h-1.08zM22 9h1.08v1.08h-1.08zM5 10h1.08v1.08h-1.08zM12 10h3.08v1.08h-3.08zM16 10h1.08v1.08h-1.08zM18 10h1.08v1.08h-1.08zM1 11h2.08v1.08h-2.08zM4 11h1.08v1.08h-1.08zM8 11h1.08v1.08h-1.08zM12 11h2.08v1.08h-2.08zM16 12h1.08v1.08h-1.08zM21 12h1.08v1.08h-1.08zM8 13h3.08v1.08h-3.08zM12 13h2.08v1.08h-2.08zM19 13h1.08v1.08h-1.08zM25 13h1.08v1.08h-1.08zM9 14h2.08v1.08h-2.08zM18 14h1.08v1.08h-1.08zM21 14h1.08v1.08h-1.08zM12 15h1.08v1.08h-1.08zM25 15h1.08v1.08h-1.08zM10 17h1.08v1.08h-1.08zM18 17h1.08v1.08h-1.08zM3 18h1.08v1.08h-1.08zM5 18h2.08v1.08h-2.08zM14 18h2.08v1.08h-2.08zM18 18h4.08v1.08h-4.08zM3 19h1.08v1.08h-1.08zM15 19h1.08v1.08h-1.08zM0 20h1.08v1.08h-1.08zM8 20h1.08v1.08h-1.08zM11 20h1.08v1.08h-1.08zM0 21h2.08v1.08h-2.08zM4 21h3.08v1.08h-3.08zM14 21h1.08v1.08h-1.08zM18 21h1.08v1.08h-1.08zM21 21h1.08v1.08h-1.08zM25 21h1.08v1.08h-1.08zM2 22h1.08v1.08h-1.08zM22 22h1.08v1.08h-1.08zM2 23h3.08v1.08h-3.08zM6 23h1.08v1.08h-1.08zM24 23h2.08v1.08h-2.08zM2 24h3.08v1.08h-3.08zM8 24h1.08v1.08h-1.08zM13 24h2.08v1.08h-2.08zM20 24h1.08v1.08h-1.08zM23 24h1.08v1.08h-1.08zM10 25h1.08v1.08h-1.08zM12 25h1.08v1.08h-1.08zM5 26h1.08v1.08h-1.08zM7 26h1.08v1.08h-1.08zM11 26h1.08v1.08h-1.08zM16 26h1.08v1.08h-1.08zM20 26h1.08v1.08h-1.08zM24 26h1.08v1.08h-1.08zM11 27h1.08v1.08h-1.08zM18 27h1.08v1.08h-1.08zM4 28h1.08v1.08h-1.08zM8 28h1.08v1.08h-1.08zM14 28h4.08v1.08h-4.08zM20 28h1.08v1.08h-1.08zM14 29h2.08v1.08h-2.08zM17 29h1.08v1.08h-1.08zM20 29h1.08v1.08h-1.08zM6 30h1.08v1.08h-1.08zM11 30h1.08v1.08h-1.08zM15 30h1.08v1.08h-1.08zM18 30h1.08v1.08h-1.08zM20 30h1.08v1.08h-1.08zM22 30h1.08v1.08h-1.08zM25 30h1.08v1.08h-1.08zM6 31h1.08v1.08h-1.08zM11 31h2.08v1.08h-2.08zM15 31h1.08v1.08h-1.08zM17 31h1.08v1.08h-1.08zM20 31h3.08v1.08h-3.08zM25 31h1.08v1.08h-1.08zM13 32h1.08v1.08h-1.08zM17 32h2.08v1.08h-2.08zM0 33h1.08v1.08h-1.08zM8 33h2.08v1.08h-2.08zM11 33h1.08v1.08h-1.08zM17 33h3.08v1.08h-3.08zM8 34h1.08v1.08h-1.08zM9 35h1.08v1.08h-1.08zM11 35h1.08v1.08h-1.08zM12 36h1.08v1.08h-1.08zM7 37h1.08v1.08h-1.08zM19 37h1.08v1.08h-1.08zM22 37h3.08v1.08h-3.08zM3 39h1.08v1.08h-1.08zM20 39h1.08v1.08h-1.08zM4 40h1.08v1.08h-1.08zM17 40h1.08v1.08h-1.08zM22 40h1.08v1.08h-1.08zM17 41h1.08v1.08h-1.08zM7 42h1.08v1.08h-1.08zM14 43h1.08v1.08h-1.08zM22 43h1.08v1.08h-1.08zM3 44h1.08v1.08h-1.08zM15 44h1.08v1.08h-1.08zM12 47h1.08v1.08h-1.08zM19 47h1.08v1.08h-1.08zM4 48h4.08v1.08h-4.08zM18 48h1.08v1.08h-1.08zM20 48h3.08v1.08h-3.08z"/>
<path fill="#f3fbc2" d="M3 1h2.08v1.08h-2.08zM8 1h1.08v1.08h-1.08zM10 1h4.08v1.08h-4.08zM15 1h1.08v1.08h-1.08zM17 1h2.08v1.08h-2.08zM22 1h3.08v1.08h-3.08zM19 2h1.08v1.08h-1.08zM11 3h1.08v1.08h-1.08zM15 3h2.08v1.08h-2.08zM23 3h2.08v1.08h-2.08zM4 4h1.08v1.08h-1.08zM18 4h1.08v1.08h-1.08zM20 4h1.08v1.08h-1.08zM23 4h3.08v1.08h-3.08zM3 5h1.08v1.08h-1.08zM6 5h1.08v1.08h-1.08zM13 5h1.08v1.08h-1.08zM20 5h1.08v1.08h-1.08zM22 5h3.08v1.08h-3.08zM5 6h1.08v1.08h-1.08zM7 6h1.08v1.08h-1.08zM14 6h1.08v1.08h-1.08zM17 6h1.08v1.08h-1.08zM20 6h1.08v1.08h-1.08zM22 6h2.08v1.08h-2.08zM11 7h1.08v1.08h-1.08zM4 8h1.08v1.08h-1.08zM8 8h2.08v1.08h-2.08zM13 8h2.08v1.08h-2.08zM16 8h1.08v1.08h-1.08zM23 8h3.08v1.08h-3.08zM7 9h1.08v1.08h-1.08zM15 9h1.08v1.08h-1.08zM17 9h1.08v1.08h-1.08zM21 9h1.08v1.08h-1.08zM23 9h1.08v1.08h-1.08zM25 9h1.08v1.08h-1.08zM1 10h1.08v1.08h-1.08zM4 10h1.08v1.08h-1.08zM6 10h1.08v1.08h-1.08zM9 10h1.08v1.08h-1.08zM15 10h1.08v1.08h-1.08zM19 10h1.08v1.08h-1.08zM23 10h3.08v1.08h-3.08zM0 11h1.08v1.08h-1.08zM7 11h1.08v1.08h-1.08zM10 11h1.08v1.08h-1.08zM14 11h7.08v1.08h-7.08zM22 11h4.08v1.08h-4.08zM6 12h1.08v1.08h-1.08zM8 12h2.08v1.08h-2.08zM11 12h3.08v1.08h-3.08zM15 12h1.08v1.08h-1.08zM23 12h2.08v1.08h-2.08zM4 13h1.08v1.08h-1.08zM15 13h1.08v1.08h-1.08zM23 13h2.08v1.08h-2.08zM0 14h1.08v1.08h-1.08zM4 14h1.08v1.08h-1.08zM7 14h1.08v1.08h-1.08zM13 14h1.08v1.08h-1.08zM16 14h1.08v1.08h-1.08zM23 14h3.08v1.08h-3.08zM4 15h1.08v1.08h-1.08zM6 15h3.08v1.08h-3.08zM11 15h1.08v1.08h-1.08zM14 15h3.08v1.08h-3.08zM20 15h1.08v1.08h-1.08zM23 15h2.08v1.08h-2.08zM5 16h2.08v1.08h-2.08zM0 17h1.08v1.08h-1.08zM16 18h1.08v1.08h-1.08zM2 19h1.08v1.08h-1.08zM10 19h2.08v1.08h-2.08zM14 19h1.08v1.08h-1.08zM23 20h1.08v1.08h-1.08zM2 21h1.08v1.08h-1.08zM0 23h1.08v1.08h-1.08zM5 23h1.08v1.08h-1.08zM16 24h1.08v1.08h-1.08zM22 24h1.08v1.08h-1.08zM24 24h2.08v1.08h-2.08zM0 25h3.08v1.08h-3.08zM4 25h1.08v1.08h-1.08zM6 25h2.08v1.08h-2.08zM13 25h1.08v1.08h-1.08zM15 25h3.08v1.08h-3.08zM20 25h6.08v1.08h-6.08zM2 26h1.08v1.08h-1.08zM23 26h1.08v1.08h-1.08zM25 26h1.08v1.08h-1.08zM15 27h1.08v1.08h-1.08zM22 27h1.08v1.08h-1.08zM25 27h1.08v1.08h-1.08zM0 28h1.08v1.08h-1.08zM7 28h1.08v1.08h-1.08zM10 28h1.08v1.08h-1.08zM19 28h1.08v1.08h-1.08zM21 28h5.08v1.08h-5.08zM0 29h5.08v1.08h-5.08zM6 29h2.08v1.08h-2.08zM16 29h1.08v1.08h-1.08zM19 29h1.08v1.08h-1.08zM21 29h5.08v1.08h-5.08zM0 30h1.08v1.08h-1.08zM5 30h1.08v1.08h-1.08zM7 30h1.08v1.08h-1.08zM23 30h1.08v1.08h-1.08zM0 31h1.08v1.08h-1.08zM7 31h1.08v1.08h-1.08zM13 31h1.08v1.08h-1.08zM16 31h1.08v1.08h-1.08zM0 32h6.08v1.08h-6.08zM7 32h1.08v1.08h-1.08zM16 32h1.08v1.08h-1.08zM20 32h1.08v1.08h-1.08zM23 32h3.08v1.08h-3.08zM2 33h1.08v1.08h-1.08zM5 33h1.08v1.08h-1.08zM7 33h1.08v1.08h-1.08zM16 33h1.08v1.08h-1.08zM20 33h1.08v1.08h-1.08zM22 33h4.08v1.08h-4.08zM0 34h8.08v1.08h-8.08zM10 34h3.08v1.08h-3.08zM15 34h11.08v1.08h-11.08zM0 35h7.08v1.08h-7.08zM8 35h1.08v1.08h-1.08zM12 35h14.08v1.08h-14.08zM0 36h3.08v1.08h-3.08zM6 36h1.08v1.08h-1.08zM16 36h1.08v1.08h-1.08zM19 36h7.08v1.08h-7.08zM2 37h1.08v1.08h-1.08zM6 37h1.08v1.08h-1.08zM13 37h1.08v1.08h-1.08zM16 37h1.08v1.08h-1.08zM0 38h1.08v1.08h-1.08zM2 38h3.08v1.08h-3.08zM6 38h1.08v1.08h-1.08zM8 38h18.08v1.08h-18.08zM9 39h1.08v1.08h-1.08zM12 39h1.08v1.08h-1.08zM14 39h2.08v1.08h-2.08zM23 39h2.08v1.08h-2.08zM0 40h1.08v1.08h-1.08zM2 40h1.08v1.08h-1.08zM5 40h10.08v1.08h-10.08zM20 40h1.08v1.08h-1.08zM24 40h2.08v1.08h-2.08zM0 41h1.08v1.08h-1.08zM2 41h3.08v1.08h-3.08zM6 41h2.08v1.08h-2.08zM10 41h1.08v1.08h-1.08zM13 41h2.08v1.08h-2.08zM16 41h1.08v1.08h-1.08zM23 41h3.08v1.08h-3.08zM3 42h4.08v1.08h-4.08zM12 42h3.08v1.08h-3.08zM17 42h3.08v1.08h-3.08zM21 42h5.08v1.08h-5.08zM0 43h4.08v1.08h-4.08zM5 43h4.08v1.08h-4.08zM13 43h1.08v1.08h-1.08zM15 43h1.08v1.08h-1.08zM23 43h2.08v1.08h-2.08zM0 44h1.08v1.08h-1.08zM5 44h1.08v1.08h-1.08zM11 44h1.08v1.08h-1.08zM16 44h1.08v1.08h-1.08zM18 44h2.08v1.08h-2.08zM10 45h2.08v1.08h-2.08zM13 45h2.08v1.08h-2.08zM18 45h1.08v1.08h-1.08zM23 45h2.08v1.08h-2.08zM0 46h3.08v1.08h-3.08zM4 46h5.08v1.08h-5.08zM14 46h12.08v1.08h-12.08zM8 47h1.08v1.08h-1.08zM11 47h1.08v1.08h-1.08zM18 47h1.08v1.08h-1.08zM0 48h4.08v1.08h-4.08zM15 48h1.08v1.08h-1.08zM17 48h1.08v1.08h-1.08zM1 49h1.08v1.08h-1.08zM6 49h2.08v1.08h-2.08zM20 49h1.08v1.08h-1.08zM23 49h2.08v1.08h-2.08z"/>
<path fill="#ec6c46" d="M5 1h1.08v1.08h-1.08zM4 2h1.08v1.08h-1.08zM10 2h1.08v1.08h-1.08zM20 2h1.08v1.08h-1.08zM2 3h1.08v1.08h-1.08zM16 4h1.08v1.08h-1.08zM12 6h1.08v1.08h-1.08zM5 7h1.08v1.08h-1.08zM7 8h1.08v1.08h-1.08zM0 10h1.08v1.08h-1.08zM6 11h1.08v1.08h-1.08zM1 13h1.08v1.08h-1.08zM22 15h1.08v1.08h-1.08zM14 16h1.08v1.08h-1.08zM19 17h1.08v1.08h-1.08zM21 17h1.08v1.08h-1.08zM10 18h1.08v1.08h-1.08zM17 19h1.08v1.08h-1.08zM6 20h2.08v1.08h-2.08zM18 20h1.08v1.08h-1.08zM21 20h1.08v1.08h-1.08zM1 22h1.08v1.08h-1.08zM14 22h1.08v1.08h-1.08zM6 26h1.08v1.08h-1.08zM9 26h1.08v1.08h-1.08zM14 26h1.08v1.08h-1.08zM9 27h2.08v1.08h-2.08zM12 27h1.08v1.08h-1.08zM14 27h1.08v1.08h-1.08zM13 34h1.08v1.08h-1.08zM21 39h1.08v1.08h-1.08zM15 40h1.08v1.08h-1.08zM19 41h1.08v1.08h-1.08zM16 43h1.08v1.08h-1.08zM21 44h1.08v1.08h-1.08z"/>
<path fill="#f0c67a" d="M6 1h1.08v1.08h-1.08zM19 1h1.08v1.08h-1.08zM14 2h1.08v1.08h-1.08zM17 2h1.08v1.08h-1.08zM10 3h1.08v1.08h-1.08zM19 3h1.08v1.08h-1.08zM2 4h1.08v1.08h-1.08zM7 4h1.08v1.08h-1.08zM19 4h1.08v1.08h-1.08zM4 5h1.08v1.08h-1.08zM11 5h1.08v1.08h-1.08zM16 5h4.08v1.08h-4.08zM4 6h1.08v1.08h-1.08zM9 6h2.08v1.08h-2.08zM1 7h4.08v1.08h-4.08zM8 7h1.08v1.08h-1.08zM14 7h2.08v1.08h-2.08zM20 7h1.08v1.08h-1.08zM3 8h1.08v1.08h-1.08zM15 8h1.08v1.08h-1.08zM5 9h1.08v1.08h-1.08zM12 9h1.08v1.08h-1.08zM10 10h1.08v1.08h-1.08zM21 10h1.08v1.08h-1.08zM3 11h1.08v1.08h-1.08zM0 12h2.08v1.08h-2.08zM4 12h1.08v1.08h-1.08zM3 13h1.08v1.08h-1.08zM6 13h1.08v1.08h-1.08zM14 13h1.08v1.08h-1.08zM2 14h1.08v1.08h-1.08zM6 14h1.08v1.08h-1.08zM0 15h2.08v1.08h-2.08zM0 16h1.08v1.08h-1.08zM4 16h1.08v1.08h-1.08zM23 16h2.08v1.08h-2.08zM2 17h1.08v1.08h-1.08zM12 17h1.08v1.08h-1.08zM15 17h1.08v1.08h-1.08zM17 17h1.08v1.08h-1.08zM0 18h3.08v1.08h-3.08zM4 18h1.08v1.08h-1.08zM12 18h1.08v1.08h-1.08zM25 18h1.08v1.08h-1.08zM16 19h1.08v1.08h-1.08zM24 19h2.08v1.08h-2.08zM12 20h2.08v1.08h-2.08zM17 20h1.08v1.08h-1.08zM20 20h1.08v1.08h-1.08zM24 20h1.08v1.08h-1.08zM8 21h1.08v1.08h-1.08zM16 21h1.08v1.08h-1.08zM22 21h1.08v1.08h-1.08zM0 22h1.08v1.08h-1.08zM12 22h2.08v1.08h-2.08zM16 22h1.08v1.08h-1.08zM19 22h1.08v1.08h-1.08zM1 23h1.08v1.08h-1.08zM0 24h2.08v1.08h-2.08zM5 24h3.08v1.08h-3.08zM10 24h3.08v1.08h-3.08zM8 25h1.08v1.08h-1.08zM0 26h1.08v1.08h-1.08zM8 26h1.08v1.08h-1.08zM13 26h1.08v1.08h-1.08zM17 26h3.08v1.08h-3.08zM13 27h1.08v1.08h-1.08zM3 28h1.08v1.08h-1.08zM11 28h1.08v1.08h-1.08zM13 28h1.08v1.08h-1.08zM9 30h1.08v1.08h-1.08zM21 30h1.08v1.08h-1.08zM14 31h1.08v1.08h-1.08zM18 31h1.08v1.08h-1.08zM9 32h1.08v1.08h-1.08zM11 32h2.08v1.08h-2.08zM14 32h1.08v1.08h-1.08zM1 33h1.08v1.08h-1.08zM6 33h1.08v1.08h-1.08zM15 33h1.08v1.08h-1.08zM21 33h1.08v1.08h-1.08zM14 36h1.08v1.08h-1.08zM10 37h2.08v1.08h-2.08zM17 37h1.08v1.08h-1.08zM0 39h1.08v1.08h-1.08zM2 39h1.08v1.08h-1.08zM19 39h1.08v1.08h-1.08zM16 40h1.08v1.08h-1.08zM18 40h2.08v1.08h-2.08zM21 40h1.08v1.08h-1.08zM15 41h1.08v1.08h-1.08zM7 44h1.08v1.08h-1.08zM23 47h2.08v1.08h-2.08zM12 49h1.08v1.08h-1.08z"/>
<path fill="#f6eeac" d="M9 1h1.08v1.08h-1.08zM14 1h1.08v1.08h-1.08zM16 1h1.08v1.08h-1.08zM20 1h1.08v1.08h-1.08zM25 1h1.08v1.08h-1.08zM23 2h2.08v1.08h-2.08zM9 3h1.08v1.08h-1.08zM17 3h1.08v1.08h-1.08zM8 4h2.08v1.08h-2.08zM11 4h2.08v1.08h-2.08zM14 4h1.08v1.08h-1.08zM21 4h1.08v1.08h-1.08zM0 5h1.08v1.08h-1.08zM14 5h1.08v1.08h-1.08zM13 6h1.08v1.08h-1.08zM24 6h2.08v1.08h-2.08zM16 7h1.08v1.08h-1.08zM23 7h1.08v1.08h-1.08zM10 8h1.08v1.08h-1.08zM12 8h1.08v1.08h-1.08zM17 8h2.08v1.08h-2.08zM21 8h2.08v1.08h-2.08zM2 9h2.08v1.08h-2.08zM9 9h1.08v1.08h-1.08zM11 9h1.08v1.08h-1.08zM13 9h1.08v1.08h-1.08zM11 10h1.08v1.08h-1.08zM20 10h1.08v1.08h-1.08zM22 10h1.08v1.08h-1.08zM5 11h1.08v1.08h-1.08zM9 11h1.08v1.08h-1.08zM11 11h1.08v1.08h-1.08zM7 12h1.08v1.08h-1.08zM10 12h1.08v1.08h-1.08zM16 13h1.08v1.08h-1.08zM1 14h1.08v1.08h-1.08zM3 14h1.08v1.08h-1.08zM8 14h1.08v1.08h-1.08zM11 14h1.08v1.08h-1.08zM15 14h1.08v1.08h-1.08zM22 14h1.08v1.08h-1.08zM1 16h2.08v1.08h-2.08zM7 16h1.08v1.08h-1.08zM16 16h1.08v1.08h-1.08zM23 17h1.08v1.08h-1.08zM17 18h1.08v1.08h-1.08zM0 19h1.08v1.08h-1.08zM20 19h1.08v1.08h-1.08zM1 20h1.08v1.08h-1.08zM9 20h1.08v1.08h-1.08zM3 21h1.08v1.08h-1.08zM7 21h1.08v1.08h-1.08zM13 21h1.08v1.08h-1.08zM19 21h1.08v1.08h-1.08zM23 21h2.08v1.08h-2.08zM7 22h1.08v1.08h-1.08zM20 22h1.08v1.08h-1.08zM23 22h3.08v1.08h-3.08zM7 23h1.08v1.08h-1.08zM13 23h1.08v1.08h-1.08zM19 23h1.08v1.08h-1.08zM22 23h2.08v1.08h-2.08zM9 24h1.08v1.08h-1.08zM17 24h3.08v1.08h-3.08zM3 25h1.08v1.08h-1.08zM14 25h1.08v1.08h-1.08zM19 25h1.08v1.08h-1.08zM12 26h1.08v1.08h-1.08zM22 26h1.08v1.08h-1.08zM1 28h2.08v1.08h-2.08zM6 28h1.08v1.08h-1.08zM9 28h1.08v1.08h-1.08zM5 29h1.08v1.08h-1.08zM1 30h4.08v1.08h-4.08zM14 30h1.08v1.08h-1.08zM16 30h2.08v1.08h-2.08zM19 30h1.08v1.08h-1.08zM24 30h1.08v1.08h-1.08zM1 31h4.08v1.08h-4.08zM23 31h2.08v1.08h-2.08zM6 32h1.08v1.08h-1.08zM15 32h1.08v1.08h-1.08zM21 32h2.08v1.08h-2.08zM13 33h1.08v1.08h-1.08zM5 36h1.08v1.08h-1.08zM10 36h2.08v1.08h-2.08zM15 36h1.08v1.08h-1.08zM17 36h2.08v1.08h-2.08zM1 37h1.08v1.08h-1.08zM3 37h2.08v1.08h-2.08zM8 37h2.08v1.08h-2.08zM14 37h1.08v1.08h-1.08zM25 37h1.08v1.08h-1.08zM1 38h1.08v1.08h-1.08zM7 38h1.08v1.08h-1.08zM1 40h1.08v1.08h-1.08zM1 41h1.08v1.08h-1.08zM9 41h1.08v1.08h-1.08zM11 41h2.08v1.08h-2.08zM18 41h1.08v1.08h-1.08zM21 41h2.08v1.08h-2.08zM0 42h3.08v1.08h-3.08zM8 42h1.08v1.08h-1.08zM16 42h1.08v1.08h-1.08zM9 43h4.08v1.08h-4.08zM25 43h1.08v1.08h-1.08zM22 44h1.08v1.08h-1.08zM0 45h1.08v1.08h-1.08zM20 47h1.08v1.08h-1.08zM16 48h1.08v1.08h-1.08zM15 49h1.08v1.08h-1.08z"/>
<path fill="#d73028" d="M21 1h1.08v1.08h-1.08zM19 6h1.08v1.08h-1.08zM6 9h1.08v1.08h-1.08zM7 10h1.08v1.08h-1.08zM10 16h2.08v1.08h-2.08zM18 19h1.08v1.08h-1.08zM5 22h1.08v1.08h-1.08zM15 22h1.08v1.08h-1.08zM21 43h1.08v1.08h-1.08zM5 45h1.08v1.08h-1.08z"/>
<path fill="#e44e37" d="M0 2h3.08v1.08h-3.08zM7 2h1.08v1.08h-1.08zM12 2h1.08v1.08h-1.08zM0 3h1.08v1.08h-1.08zM4 3h1.08v1.08h-1.08zM1 4h1.08v1.08h-1.08zM3 4h1.08v1.08h-1.08zM6 4h1.08v1.08h-1.08zM1 5h2.08v1.08h-2.08zM7 5h1.08v1.08h-1.08zM7 13h1.08v1.08h-1.08zM21 13h1.08v1.08h-1.08zM8 16h1.08v1.08h-1.08zM19 16h1.08v1.08h-1.08zM5 17h1.08v1.08h-1.08zM9 17h1.08v1.08h-1.08zM16 20h1.08v1.08h-1.08zM10 21h1.08v1.08h-1.08zM6 22h1.08v1.08h-1.08zM17 22h1.08v1.08h-1.08zM21 22h1.08v1.08h-1.08zM17 27h1.08v1.08h-1.08zM10 33h1.08v1.08h-1.08zM14 34h1.08v1.08h-1.08zM1 39h1.08v1.08h-1.08zM20 42h1.08v1.08h-1.08zM17 43h1.08v1.08h-1.08zM3 45h1.08v1.08h-1.08zM21 49h1.08v1.08h-1.08z"/>
<path fill="#ee8c55" d="M3 2h1.08v1.08h-1.08zM9 2h1.08v1.08h-1.08zM11 2h1.08v1.08h-1.08zM15 2h1.08v1.08h-1.08zM21 2h1.08v1.08h-1.08zM5 3h1.08v1.08h-1.08zM7 3h1.08v1.08h-1.08zM13 3h1.08v1.08h-1.08zM0 4h1.08v1.08h-1.08zM15 4h1.08v1.08h-1.08zM5 5h1.08v1.08h-1.08zM15 5h1.08v1.08h-1.08zM1 6h2.08v1.08h-2.08zM11 6h1.08v1.08h-1.08zM13 7h1.08v1.08h-1.08zM21 7h1.08v1.08h-1.08zM0 8h1.08v1.08h-1.08zM2 8h1.08v1.08h-1.08zM6 8h1.08v1.08h-1.08zM1 9h1.08v1.08h-1.08zM19 9h1.08v1.08h-1.08zM2 10h2.08v1.08h-2.08zM19 12h1.08v1.08h-1.08zM0 13h1.08v1.08h-1.08zM2 13h1.08v1.08h-1.08zM11 13h1.08v1.08h-1.08zM22 13h1.08v1.08h-1.08zM2 15h1.08v1.08h-1.08zM9 15h1.08v1.08h-1.08zM13 16h1.08v1.08h-1.08zM15 16h1.08v1.08h-1.08zM18 16h1.08v1.08h-1.08zM22 16h1.08v1.08h-1.08zM4 17h1.08v1.08h-1.08zM6 17h1.08v1.08h-1.08zM11 17h1.08v1.08h-1.08zM13 17h2.08v1.08h-2.08zM25 17h1.08v1.08h-1.08zM7 18h1.08v1.08h-1.08zM13 18h1.08v1.08h-1.08zM22 18h2.08v1.08h-2.08zM1 19h1.08v1.08h-1.08zM4 19h1.08v1.08h-1.08zM6 19h1.08v1.08h-1.08zM22 19h1.08v1.08h-1.08zM2 20h4.08v1.08h-4.08zM14 20h1.08v1.08h-1.08zM25 20h1.08v1.08h-1.08zM17 21h1.08v1.08h-1.08zM8 22h2.08v1.08h-2.08zM11 22h1.08v1.08h-1.08zM18 22h1.08v1.08h-1.08zM8 23h1.08v1.08h-1.08zM12 23h1.08v1.08h-1.08zM14 23h1.08v1.08h-1.08zM9 25h1.08v1.08h-1.08zM15 26h1.08v1.08h-1.08zM21 26h1.08v1.08h-1.08zM12 28h1.08v1.08h-1.08zM8 29h3.08v1.08h-3.08zM12 29h1.08v1.08h-1.08zM8 30h1.08v1.08h-1.08zM10 30h1.08v1.08h-1.08zM12 30h1.08v1.08h-1.08zM8 31h2.08v1.08h-2.08zM8 32h1.08v1.08h-1.08zM12 37h1.08v1.08h-1.08zM6 39h1.08v1.08h-1.08zM15 42h1.08v1.08h-1.08zM22 45h1.08v1.08h-1.08z"/>
<path fill="#c31e28" d="M1 3h1.08v1.08h-1.08zM3 3h1.08v1.08h-1.08zM22 12h1.08v1.08h-1.08zM9 16h1.08v1.08h-1.08zM12 16h1.08v1.08h-1.08zM21 45h1.08v1.08h-1.08z"/>
<path fill="#ecf8d8" d="M8 3h1.08v1.08h-1.08zM20 3h1.08v1.08h-1.08zM21 5h1.08v1.08h-1.08zM25 5h1.08v1.08h-1.08zM5 8h1.08v1.08h-1.08zM8 9h1.08v1.08h-1.08zM14 9h1.08v1.08h-1.08zM16 9h1.08v1.08h-1.08zM18 9h1.08v1.08h-1.08zM20 9h1.08v1.08h-1.08zM24 9h1.08v1.08h-1.08zM8 10h1.08v1.08h-1.08zM17 10h1.08v1.08h-1.08zM21 11h1.08v1.08h-1.08zM14 12h1.08v1.08h-1.08zM17 13h1.08v1.08h-1.08zM5 14h1.08v1.08h-1.08zM10 15h1.08v1.08h-1.08zM13 15h1.08v1.08h-1.08zM17 15h3.08v1.08h-3.08zM21 15h1.08v1.08h-1.08zM12 19h1.08v1.08h-1.08zM10 20h1.08v1.08h-1.08zM20 21h1.08v1.08h-1.08zM4 22h1.08v1.08h-1.08zM15 23h1.08v1.08h-1.08zM21 23h1.08v1.08h-1.08zM18 25h1.08v1.08h-1.08zM4 26h1.08v1.08h-1.08zM0 27h1.08v1.08h-1.08zM19 27h1.08v1.08h-1.08zM24 27h1.08v1.08h-1.08zM5 28h1.08v1.08h-1.08zM18 29h1.08v1.08h-1.08zM13 30h1.08v1.08h-1.08zM4 33h1.08v1.08h-1.08zM12 33h1.08v1.08h-1.08zM9 34h1.08v1.08h-1.08zM7 35h1.08v1.08h-1.08zM3 36h2.08v1.08h-2.08zM7 36h3.08v1.08h-3.08zM0 37h1.08v1.08h-1.08zM5 37h1.08v1.08h-1.08zM15 37h1.08v1.08h-1.08zM4 39h1.08v1.08h-1.08zM8 39h1.08v1.08h-1.08zM11 39h1.08v1.08h-1.08zM13 39h1.08v1.08h-1.08zM16 39h1.08v1.08h-1.08zM22 39h1.08v1.08h-1.08zM25 39h1.08v1.08h-1.08zM3 40h1.08v1.08h-1.08zM8 41h1.08v1.08h-1.08zM20 41h1.08v1.08h-1.08zM9 42h3.08v1.08h-3.08zM1 44h2.08v1.08h-2.08zM4 44h1.08v1.08h-1.08zM10 44h1.08v1.08h-1.08zM13 44h1.08v1.08h-1.08zM20 44h1.08v1.08h-1.08zM23 44h2.08v1.08h-2.08zM1 45h1.08v1.08h-1.08zM8 45h1.08v1.08h-1.08zM12 45h1.08v1.08h-1.08zM15 45h2.08v1.08h-2.08zM20 45h1.08v1.08h-1.08zM3 46h1.08v1.08h-1.08zM13 46h1.08v1.08h-1.08zM0 47h1.08v1.08h-1.08zM2 47h1.08v1.08h-1.08zM9 47h1.08v1.08h-1.08zM13 47h1.08v1.08h-1.08zM22 47h1.08v1.08h-1.08zM25 47h1.08v1.08h-1.08zM24 48h2.08v1.08h-2.08zM2 49h1.08v1.08h-1.08zM8 49h1.08v1.08h-1.08z"/>
<path fill="#f0af69" d="M12 3h1.08v1.08h-1.08zM0 6h1.08v1.08h-1.08zM3 6h1.08v1.08h-1.08zM8 6h1.08v1.08h-1.08zM0 7h1.08v1.08h-1.08zM7 7h1.08v1.08h-1.08zM9 7h2.08v1.08h-2.08zM12 7h1.08v1.08h-1.08zM19 7h1.08v1.08h-1.08zM1 8h1.08v1.08h-1.08zM20 8h1.08v1.08h-1.08zM2 12h2.08v1.08h-2.08zM25 12h1.08v1.08h-1.08zM12 14h1.08v1.08h-1.08zM14 14h1.08v1.08h-1.08zM19 14h1.08v1.08h-1.08zM3 15h1.08v1.08h-1.08zM5 15h1.08v1.08h-1.08zM3 16h1.08v1.08h-1.08zM25 16h1.08v1.08h-1.08zM1 17h1.08v1.08h-1.08zM3 17h1.08v1.08h-1.08zM7 17h2.08v1.08h-2.08zM16 17h1.08v1.08h-1.08zM20 17h1.08v1.08h-1.08zM22 17h1.08v1.08h-1.08zM24 17h1.08v1.08h-1.08zM8 18h2.08v1.08h-2.08zM11 18h1.08v1.08h-1.08zM24 18h1.08v1.08h-1.08zM7 19h1.08v1.08h-1.08zM9 19h1.08v1.08h-1.08zM21 19h1.08v1.08h-1.08zM15 20h1.08v1.08h-1.08zM22 20h1.08v1.08h-1.08zM9 21h1.08v1.08h-1.08zM11 21h2.08v1.08h-2.08zM15 21h1.08v1.08h-1.08zM9 23h3.08v1.08h-3.08zM17 23h1.08v1.08h-1.08zM15 24h1.08v1.08h-1.08zM21 24h1.08v1.08h-1.08zM11 25h1.08v1.08h-1.08zM1 26h1.08v1.08h-1.08zM8 27h1.08v1.08h-1.08zM18 28h1.08v1.08h-1.08zM11 29h1.08v1.08h-1.08zM13 29h1.08v1.08h-1.08zM10 31h1.08v1.08h-1.08zM19 31h1.08v1.08h-1.08zM10 32h1.08v1.08h-1.08zM19 32h1.08v1.08h-1.08zM14 33h1.08v1.08h-1.08zM10 35h1.08v1.08h-1.08zM5 38h1.08v1.08h-1.08zM23 40h1.08v1.08h-1.08zM19 45h1.08v1.08h-1.08zM1 47h1.08v1.08h-1.08zM6 47h2.08v1.08h-2.08zM15 47h1.08v1.08h-1.08z"/>
<path fill="#dcf0f5" d="M14 3h1.08v1.08h-1.08zM5 12h1.08v1.08h-1.08zM17 12h2.08v1.08h-2.08zM20 12h1.08v1.08h-1.08zM5 13h1.08v1.08h-1.08zM8 19h1.08v1.08h-1.08zM23 19h1.08v1.08h-1.08zM16 23h1.08v1.08h-1.08zM5 25h1.08v1.08h-1.08zM3 26h1.08v1.08h-1.08zM3 27h2.08v1.08h-2.08zM7 27h1.08v1.08h-1.08zM16 27h1.08v1.08h-1.08zM23 27h1.08v1.08h-1.08zM5 31h1.08v1.08h-1.08zM13 36h1.08v1.08h-1.08zM18 37h1.08v1.08h-1.08zM21 37h1.08v1.08h-1.08zM7 39h1.08v1.08h-1.08zM18 39h1.08v1.08h-1.08zM4 43h1.08v1.08h-1.08zM12 44h1.08v1.08h-1.08zM10 46h1.08v1.08h-1.08zM3 47h1.08v1.08h-1.08zM16 47h1.08v1.08h-1.08zM13 48h1.08v1.08h-1.08zM19 48h1.08v1.08h-1.08zM0 49h1.08v1.08h-1.08zM9 49h1.08v1.08h-1.08zM11 49h1.08v1.08h-1.08zM16 49h1.08v1.08h-1.08zM18 49h1.08v1.08h-1.08z"/>
<path fill="#aad6eb" d="M5 4h1.08v1.08h-1.08zM20 16h2.08v1.08h-2.08zM3 33h1.08v1.08h-1.08zM17 39h1.08v1.08h-1.08zM8 44h2.08v1.08h-2.08zM6 45h1.08v1.08h-1.08zM17 45h1.08v1.08h-1.08zM25 45h1.08v1.08h-1.08zM10 47h1.08v1.08h-1.08zM14 50h1.08v1.08h-1.08zM24 50h1.08v1.08h-1.08z"/>
<path fill="#5a8cc8" d="M18 13h1.08v1.08h-1.08zM2 27h1.08v1.08h-1.08zM5 47h1.08v1.08h-1.08zM8 48h1.08v1.08h-1.08zM14 48h1.08v1.08h-1.08zM14 49h1.08v1.08h-1.08zM2 50h1.08v1.08h-1.08zM12 50h2.08v1.08h-2.08z"/>
<path fill="#c3e4f0" d="M20 14h1.08v1.08h-1.08zM18 23h1.08v1.08h-1.08zM20 23h1.08v1.08h-1.08zM20 37h1.08v1.08h-1.08zM5 39h1.08v1.08h-1.08zM10 39h1.08v1.08h-1.08zM5 41h1.08v1.08h-1.08zM6 44h1.08v1.08h-1.08zM14 44h1.08v1.08h-1.08zM7 45h1.08v1.08h-1.08zM9 45h1.08v1.08h-1.08zM9 46h1.08v1.08h-1.08zM4 47h1.08v1.08h-1.08zM14 47h1.08v1.08h-1.08zM10 48h1.08v1.08h-1.08zM13 49h1.08v1.08h-1.08zM22 49h1.08v1.08h-1.08zM25 49h1.08v1.08h-1.08zM25 50h1.08v1.08h-1.08z"/>
<path fill="#73aad2" d="M13 19h1.08v1.08h-1.08zM1 27h1.08v1.08h-1.08zM21 27h1.08v1.08h-1.08zM20 43h1.08v1.08h-1.08zM12 46h1.08v1.08h-1.08zM3 50h1.08v1.08h-1.08zM6 50h1.08v1.08h-1.08zM8 50h1.08v1.08h-1.08zM11 50h1.08v1.08h-1.08zM17 50h1.08v1.08h-1.08zM23 50h1.08v1.08h-1.08z"/>
<path fill="#4670b4" d="M3 22h1.08v1.08h-1.08zM6 27h1.08v1.08h-1.08zM12 48h1.08v1.08h-1.08zM0 50h1.08v1.08h-1.08zM5 50h1.08v1.08h-1.08zM15 50h1.08v1.08h-1.08z"/>
<path fill="#8cc0e0" d="M5 27h1.08v1.08h-1.08zM18 43h1.08v1.08h-1.08zM25 44h1.08v1.08h-1.08zM2 45h1.08v1.08h-1.08zM4 45h1.08v1.08h-1.08zM9 48h1.08v1.08h-1.08zM23 48h1.08v1.08h-1.08zM3 49h2.08v1.08h-2.08zM10 49h1.08v1.08h-1.08zM19 49h1.08v1.08h-1.08zM1 50h1.08v1.08h-1.08zM4 50h1.08v1.08h-1.08zM9 50h2.08v1.08h-2.08zM22 50h1.08v1.08h-1.08z"/>
<path fill="#323796" d="M20 27h1.08v1.08h-1.08zM19 43h1.08v1.08h-1.08zM17 44h1.08v1.08h-1.08zM11 46h1.08v1.08h-1.08zM17 47h1.08v1.08h-1.08zM5 49h1.08v1.08h-1.08zM17 49h1.08v1.08h-1.08zM7 50h1.08v1.08h-1.08zM16 50h1.08v1.08h-1.08zM18 50h4.08v1.08h-4.08z"/>
<path fill="#3a50a8" d="M11 48h1.08v1.08h-1.08z"/>
</g>
<line x1="269.48" y1="343.6" x2="269.48" y2="723.55" stroke="#fff" stroke-width="1.0" opacity="0.8"/>
<line x1="269.48" y1="343.6" x2="269.48" y2="723.55" stroke="#1a1a1a" stroke-width="0.9" stroke-dasharray="5.1,1.2"/>
<line x1="320.65" y1="343.6" x2="320.65" y2="723.55" stroke="#fff" stroke-width="1.0" opacity="0.8"/>
<line x1="320.65" y1="343.6" x2="320.65" y2="723.55" stroke="#1a1a1a" stroke-width="0.9" stroke-dasharray="5.1,1.2"/>
<line x1="371.82" y1="343.6" x2="371.82" y2="723.55" stroke="#fff" stroke-width="1.0" opacity="0.8"/>
<line x1="371.82" y1="343.6" x2="371.82" y2="723.55" stroke="#1a1a1a" stroke-width="0.9" stroke-dasharray="5.1,1.2"/>
<line x1="211.00" y1="343.6" x2="211.00" y2="723.55" stroke="#111" stroke-width="1.3"/>
<line x1="401.06" y1="343.6" x2="401.06" y2="723.55" stroke="#111" stroke-width="1.3"/>
<rect x="211.00" y="334.5" width="58.48" height="9.1" fill="#58aee8"/>
<text x="240.24" y="341.8" font-size="6.85" text-anchor="middle" fill="#222">Epithelial cells</text>
<rect x="269.48" y="334.5" width="51.17" height="9.1" fill="#7ccb64"/>
<text x="295.06" y="341.8" font-size="6.85" text-anchor="middle" fill="#222">Immune cells</text>
<rect x="320.65" y="334.5" width="51.17" height="9.1" fill="#8d99d0"/>
<text x="346.24" y="341.8" font-size="6.85" text-anchor="middle" fill="#222">Fibroblasts</text>
<rect x="371.82" y="334.5" width="29.24" height="9.1" fill="#eba1d1"/>
<text x="386.44" y="341.8" font-size="6.85" text-anchor="middle" fill="#222">Neurons</text>
<text transform="translate(212.56,724.6) rotate(90)" font-size="6.1" fill="#222">Basal epithelial cells</text>
<text transform="translate(219.87,724.6) rotate(90)" font-size="6.1" fill="#222">Club cells</text>
<text transform="translate(227.18,724.6) rotate(90)" font-size="6.1" fill="#222">Goblet cells</text>
<text transform="translate(234.49,724.6) rotate(90)" font-size="6.1" fill="#222">Microfold cells</text>
<text transform="translate(241.79,724.6) rotate(90)" font-size="6.1" fill="#222">Ionocytes</text>
<text transform="translate(249.10,724.6) rotate(90)" font-size="6.1" fill="#222">Ciliated epithelial cells</text>
<text transform="translate(256.41,724.6) rotate(90)" font-size="6.1" fill="#222">Muc2+ Cyp2g1+ olfactory epithelial cells</text>
<text transform="translate(263.72,724.6) rotate(90)" font-size="6.1" fill="#222">Tuba1b+ Hist1h1b+ Birc5+ olfactory epithelial cells</text>
<text transform="translate(271.03,724.6) rotate(90)" font-size="6.1" fill="#222">Macrophages</text>
<text transform="translate(278.34,724.6) rotate(90)" font-size="6.1" fill="#222">Dendritic cells or monocytes</text>
<text transform="translate(285.65,724.6) rotate(90)" font-size="6.1" fill="#222">Neutrophils</text>
<text transform="translate(292.96,724.6) rotate(90)" font-size="6.1" fill="#222">Basophilic granulocytes</text>
<text transform="translate(300.27,724.6) rotate(90)" font-size="6.1" fill="#222">Eosinophilic granulocytes</text>
<text transform="translate(307.58,724.6) rotate(90)" font-size="6.1" fill="#222">T cells</text>
<text transform="translate(314.89,724.6) rotate(90)" font-size="6.1" fill="#222">B cells</text>
<text transform="translate(322.20,724.6) rotate(90)" font-size="6.1" fill="#222">Fibroblasts 1</text>
<text transform="translate(329.51,724.6) rotate(90)" font-size="6.1" fill="#222">Fibroblasts 2</text>
<text transform="translate(336.82,724.6) rotate(90)" font-size="6.1" fill="#222">Fibroblasts 3</text>
<text transform="translate(344.13,724.6) rotate(90)" font-size="6.1" fill="#222">Myofibroblasts</text>
<text transform="translate(351.44,724.6) rotate(90)" font-size="6.1" fill="#222">Pip1+ Fabp7+ Mpz+ cells</text>
<text transform="translate(358.75,724.6) rotate(90)" font-size="6.1" fill="#222">Blood endothelial cells</text>
<text transform="translate(366.06,724.6) rotate(90)" font-size="6.1" fill="#222">Col21a+ Nmm1+ Gng11+ cells</text>
<text transform="translate(373.38,724.6) rotate(90)" font-size="6.1" fill="#222">Mitral tufted cells</text>
<text transform="translate(380.68,724.6) rotate(90)" font-size="6.1" fill="#222">Immature rostral migratory neurons</text>
<text transform="translate(388.00,724.6) rotate(90)" font-size="6.1" fill="#222">Immature olfactory sensory neurons</text>
<text transform="translate(395.30,724.6) rotate(90)" font-size="6.1" fill="#222">Olfactory sensory neurons</text>
<g transform="translate(412,343.6) scale(7.31,7.45)">
<rect x="0" y="0" width="26" height="51" fill="#f6eeac"/>
<path fill="#ecf8d8" d="M0 0h1.08v1.08h-1.08zM2 0h3.08v1.08h-3.08zM7 0h1.08v1.08h-1.08zM11 0h2.08v1.08h-2.08zM16 0h1.08v1.08h-1.08zM20 0h2.08v1.08h-2.08zM23 0h3.08v1.08h-3.08zM7 4h1.08v1.08h-1.08zM10 4h1.08v1.08h-1.08zM13 4h2.08v1.08h-2.08zM19 4h1.08v1.08h-1.08zM1 5h1.08v1.08h-1.08zM3 5h1.08v1.08h-1.08zM5 5h1.08v1.08h-1.08zM7 5h1.08v1.08h-1.08zM15 5h1.08v1.08h-1.08zM17 5h2.08v1.08h-2.08zM3 6h1.08v1.08h-1.08zM8 6h1.08v1.08h-1.08zM12 6h1.08v1.08h-1.08zM24 6h1.08v1.08h-1.08zM3 7h3.08v1.08h-3.08zM13 7h1.08v1.08h-1.08zM0 8h1.08v1.08h-1.08zM14 8h1.08v1.08h-1.08zM19 8h1.08v1.08h-1.08zM21 8h1.08v1.08h-1.08zM4 9h1.08v1.08h-1.08zM22 9h1.08v1.08h-1.08zM10 10h1.08v1.08h-1.08zM4 12h1.08v1.08h-1.08zM6 12h1.08v1.08h-1.08zM2 13h1.08v1.08h-1.08zM7 13h1.08v1.08h-1.08zM14 13h1.08v1.08h-1.08zM19 13h1.08v1.08h-1.08zM21 13h1.08v1.08h-1.08zM3 14h1.08v1.08h-1.08zM10 14h1.08v1.08h-1.08zM8 16h1.08v1.08h-1.08zM12 16h1.08v1.08h-1.08zM2 17h1.08v1.08h-1.08zM13 17h1.08v1.08h-1.08zM20 17h1.08v1.08h-1.08zM3 18h1.08v1.08h-1.08zM7 19h1.08v1.08h-1.08zM9 19h2.08v1.08h-2.08zM20 19h2.08v1.08h-2.08zM24 19h1.08v1.08h-1.08zM1 20h1.08v1.08h-1.08zM4 20h1.08v1.08h-1.08zM6 20h1.08v1.08h-1.08zM8 20h1.08v1.08h-1.08zM17 20h1.08v1.08h-1.08zM24 20h2.08v1.08h-2.08zM1 21h1.08v1.08h-1.08zM9 21h1.08v1.08h-1.08zM17 21h1.08v1.08h-1.08zM13 22h1.08v1.08h-1.08zM20 22h1.08v1.08h-1.08zM2 23h1.08v1.08h-1.08zM11 23h1.08v1.08h-1.08zM13 23h1.08v1.08h-1.08zM0 24h1.08v1.08h-1.08zM3 24h1.08v1.08h-1.08zM6 24h1.08v1.08h-1.08zM15 24h1.08v1.08h-1.08zM18 24h1.08v1.08h-1.08zM5 25h1.08v1.08h-1.08zM14 25h1.08v1.08h-1.08zM0 26h1.08v1.08h-1.08zM2 26h2.08v1.08h-2.08zM5 26h1.08v1.08h-1.08zM7 26h1.08v1.08h-1.08zM9 26h1.08v1.08h-1.08zM24 26h1.08v1.08h-1.08zM9 27h1.08v1.08h-1.08zM11 27h2.08v1.08h-2.08zM17 27h1.08v1.08h-1.08zM5 28h1.08v1.08h-1.08zM11 28h2.08v1.08h-2.08zM22 28h1.08v1.08h-1.08zM10 29h2.08v1.08h-2.08zM1 30h1.08v1.08h-1.08zM10 30h1.08v1.08h-1.08zM14 30h1.08v1.08h-1.08zM20 30h1.08v1.08h-1.08zM5 31h1.08v1.08h-1.08zM10 31h1.08v1.08h-1.08zM14 31h1.08v1.08h-1.08zM21 31h2.08v1.08h-2.08zM1 32h2.08v1.08h-2.08zM12 32h1.08v1.08h-1.08zM17 32h2.08v1.08h-2.08zM20 32h1.08v1.08h-1.08zM25 32h1.08v1.08h-1.08zM0 33h1.08v1.08h-1.08zM2 33h2.08v1.08h-2.08zM5 33h1.08v1.08h-1.08zM9 33h1.08v1.08h-1.08zM11 33h1.08v1.08h-1.08zM13 33h1.08v1.08h-1.08zM19 33h1.08v1.08h-1.08zM24 33h1.08v1.08h-1.08zM14 35h1.08v1.08h-1.08zM9 36h1.08v1.08h-1.08zM11 36h3.08v1.08h-3.08zM16 36h1.08v1.08h-1.08zM21 36h1.08v1.08h-1.08zM5 37h1.08v1.08h-1.08zM8 37h1.08v1.08h-1.08zM1 38h1.08v1.08h-1.08zM6 38h1.08v1.08h-1.08zM7 39h1.08v1.08h-1.08zM9 39h1.08v1.08h-1.08zM18 39h1.08v1.08h-1.08zM21 39h2.08v1.08h-2.08zM4 40h1.08v1.08h-1.08zM6 40h1.08v1.08h-1.08zM15 40h4.08v1.08h-4.08zM1 41h1.08v1.08h-1.08zM7 41h1.08v1.08h-1.08zM9 41h1.08v1.08h-1.08zM12 41h1.08v1.08h-1.08zM15 41h1.08v1.08h-1.08zM21 41h2.08v1.08h-2.08zM5 43h1.08v1.08h-1.08zM12 43h1.08v1.08h-1.08zM14 43h1.08v1.08h-1.08zM1 45h1.08v1.08h-1.08zM4 45h1.08v1.08h-1.08zM18 45h1.08v1.08h-1.08zM24 45h1.08v1.08h-1.08zM12 47h1.08v1.08h-1.08zM24 47h1.08v1.08h-1.08zM2 48h2.08v1.08h-2.08zM14 48h1.08v1.08h-1.08zM18 48h1.08v1.08h-1.08zM6 49h2.08v1.08h-2.08zM12 49h1.08v1.08h-1.08zM18 49h1.08v1.08h-1.08zM22 49h1.08v1.08h-1.08zM24 49h1.08v1.08h-1.08zM8 50h1.08v1.08h-1.08zM14 50h1.08v1.08h-1.08z"/>
<path fill="#f6eeac" d="M1 0h1.08v1.08h-1.08zM22 0h1.08v1.08h-1.08zM9 1h1.08v1.08h-1.08zM1 2h1.08v1.08h-1.08zM3 2h1.08v1.08h-1.08zM10 2h2.08v1.08h-2.08zM13 2h1.08v1.08h-1.08zM16 2h1.08v1.08h-1.08zM20 2h1.08v1.08h-1.08zM1 3h1.08v1.08h-1.08zM22 3h2.08v1.08h-2.08zM8 5h1.08v1.08h-1.08zM12 5h1.08v1.08h-1.08zM20 5h1.08v1.08h-1.08zM24 5h1.08v1.08h-1.08zM16 6h1.08v1.08h-1.08zM18 6h1.08v1.08h-1.08zM2 7h1.08v1.08h-1.08zM7 7h2.08v1.08h-2.08zM14 7h1.08v1.08h-1.08zM16 7h1.08v1.08h-1.08zM20 7h1.08v1.08h-1.08zM22 7h1.08v1.08h-1.08zM25 7h1.08v1.08h-1.08zM1 8h1.08v1.08h-1.08zM12 8h1.08v1.08h-1.08zM6 10h1.08v1.08h-1.08zM14 10h1.08v1.08h-1.08zM16 10h3.08v1.08h-3.08zM0 11h1.08v1.08h-1.08zM15 12h2.08v1.08h-2.08zM25 12h1.08v1.08h-1.08zM3 13h1.08v1.08h-1.08zM25 13h1.08v1.08h-1.08zM0 14h1.08v1.08h-1.08zM2 14h1.08v1.08h-1.08zM11 14h1.08v1.08h-1.08zM13 14h1.08v1.08h-1.08zM20 14h6.08v1.08h-6.08zM25 16h1.08v1.08h-1.08zM3 17h2.08v1.08h-2.08zM25 17h1.08v1.08h-1.08zM0 18h1.08v1.08h-1.08zM2 18h1.08v1.08h-1.08zM16 18h1.08v1.08h-1.08zM23 18h3.08v1.08h-3.08zM1 19h1.08v1.08h-1.08zM3 21h2.08v1.08h-2.08zM7 21h1.08v1.08h-1.08zM20 21h1.08v1.08h-1.08zM4 22h1.08v1.08h-1.08zM12 22h1.08v1.08h-1.08zM6 23h1.08v1.08h-1.08zM19 23h2.08v1.08h-2.08zM1 24h2.08v1.08h-2.08zM10 24h1.08v1.08h-1.08zM12 24h1.08v1.08h-1.08zM16 24h1.08v1.08h-1.08zM20 24h1.08v1.08h-1.08zM11 25h1.08v1.08h-1.08zM23 25h1.08v1.08h-1.08zM8 27h1.08v1.08h-1.08zM25 27h1.08v1.08h-1.08zM3 29h2.08v1.08h-2.08zM6 29h1.08v1.08h-1.08zM7 30h1.08v1.08h-1.08zM9 30h1.08v1.08h-1.08zM15 30h2.08v1.08h-2.08zM23 30h1.08v1.08h-1.08zM4 31h1.08v1.08h-1.08zM9 31h1.08v1.08h-1.08zM17 31h1.08v1.08h-1.08zM25 31h1.08v1.08h-1.08zM7 32h1.08v1.08h-1.08zM4 33h1.08v1.08h-1.08zM18 33h1.08v1.08h-1.08zM8 35h1.08v1.08h-1.08zM11 35h1.08v1.08h-1.08zM23 36h1.08v1.08h-1.08zM2 37h3.08v1.08h-3.08zM6 37h1.08v1.08h-1.08zM17 38h1.08v1.08h-1.08zM4 39h1.08v1.08h-1.08zM8 39h1.08v1.08h-1.08zM14 39h2.08v1.08h-2.08zM17 39h1.08v1.08h-1.08zM7 40h1.08v1.08h-1.08zM20 40h1.08v1.08h-1.08zM22 40h1.08v1.08h-1.08zM20 41h1.08v1.08h-1.08zM1 43h1.08v1.08h-1.08zM16 44h1.08v1.08h-1.08zM0 45h1.08v1.08h-1.08zM8 45h1.08v1.08h-1.08zM10 46h1.08v1.08h-1.08zM13 46h1.08v1.08h-1.08zM1 48h1.08v1.08h-1.08zM4 48h1.08v1.08h-1.08zM7 48h1.08v1.08h-1.08zM13 48h1.08v1.08h-1.08zM13 49h1.08v1.08h-1.08zM2 50h1.08v1.08h-1.08zM5 50h1.08v1.08h-1.08zM13 50h1.08v1.08h-1.08z"/>
<path fill="#f3fbc2" d="M5 0h2.08v1.08h-2.08zM8 0h3.08v1.08h-3.08zM13 0h3.08v1.08h-3.08zM17 0h1.08v1.08h-1.08zM19 1h2.08v1.08h-2.08zM0 2h1.08v1.08h-1.08zM4 2h1.08v1.08h-1.08zM12 2h1.08v1.08h-1.08zM15 2h1.08v1.08h-1.08zM17 2h1.08v1.08h-1.08zM22 2h3.08v1.08h-3.08zM10 3h1.08v1.08h-1.08zM12 3h2.08v1.08h-2.08zM21 3h1.08v1.08h-1.08zM0 4h1.08v1.08h-1.08zM2 4h1.08v1.08h-1.08zM4 4h1.08v1.08h-1.08zM6 4h1.08v1.08h-1.08zM8 4h1.08v1.08h-1.08zM12 4h1.08v1.08h-1.08zM16 4h1.08v1.08h-1.08zM22 4h4.08v1.08h-4.08zM0 5h1.08v1.08h-1.08zM4 5h1.08v1.08h-1.08zM16 5h1.08v1.08h-1.08zM21 5h1.08v1.08h-1.08zM0 6h1.08v1.08h-1.08zM4 6h1.08v1.08h-1.08zM10 6h1.08v1.08h-1.08zM14 6h2.08v1.08h-2.08zM20 6h4.08v1.08h-4.08zM25 6h1.08v1.08h-1.08zM0 7h2.08v1.08h-2.08zM6 7h1.08v1.08h-1.08zM9 7h2.08v1.08h-2.08zM12 7h1.08v1.08h-1.08zM15 7h1.08v1.08h-1.08zM17 7h2.08v1.08h-2.08zM21 7h1.08v1.08h-1.08zM23 7h2.08v1.08h-2.08zM3 8h2.08v1.08h-2.08zM7 8h1.08v1.08h-1.08zM10 8h2.08v1.08h-2.08zM15 8h1.08v1.08h-1.08zM17 8h1.08v1.08h-1.08zM22 8h3.08v1.08h-3.08zM0 9h2.08v1.08h-2.08zM3 9h1.08v1.08h-1.08zM7 9h1.08v1.08h-1.08zM10 9h1.08v1.08h-1.08zM12 9h4.08v1.08h-4.08zM17 9h1.08v1.08h-1.08zM20 9h2.08v1.08h-2.08zM24 9h1.08v1.08h-1.08zM0 10h2.08v1.08h-2.08zM4 10h1.08v1.08h-1.08zM12 10h1.08v1.08h-1.08zM15 10h1.08v1.08h-1.08zM20 10h1.08v1.08h-1.08zM22 10h3.08v1.08h-3.08zM3 11h2.08v1.08h-2.08zM10 11h9.08v1.08h-9.08zM20 11h6.08v1.08h-6.08zM3 12h1.08v1.08h-1.08zM21 12h1.08v1.08h-1.08zM4 13h1.08v1.08h-1.08zM8 13h2.08v1.08h-2.08zM12 13h2.08v1.08h-2.08zM15 13h2.08v1.08h-2.08zM23 13h2.08v1.08h-2.08zM5 14h5.08v1.08h-5.08zM12 14h1.08v1.08h-1.08zM16 14h1.08v1.08h-1.08zM19 14h1.08v1.08h-1.08zM1 15h1.08v1.08h-1.08zM5 16h1.08v1.08h-1.08zM9 16h1.08v1.08h-1.08zM13 16h1.08v1.08h-1.08zM17 16h1.08v1.08h-1.08zM19 16h1.08v1.08h-1.08zM22 16h3.08v1.08h-3.08zM0 17h1.08v1.08h-1.08zM10 17h1.08v1.08h-1.08zM12 17h1.08v1.08h-1.08zM15 17h2.08v1.08h-2.08zM18 17h2.08v1.08h-2.08zM23 17h2.08v1.08h-2.08zM1 18h1.08v1.08h-1.08zM4 18h2.08v1.08h-2.08zM7 18h1.08v1.08h-1.08zM10 18h1.08v1.08h-1.08zM12 18h2.08v1.08h-2.08zM15 18h1.08v1.08h-1.08zM18 18h1.08v1.08h-1.08zM22 18h1.08v1.08h-1.08zM0 19h1.08v1.08h-1.08zM2 19h1.08v1.08h-1.08zM8 19h1.08v1.08h-1.08zM17 19h2.08v1.08h-2.08zM22 19h1.08v1.08h-1.08zM0 20h1.08v1.08h-1.08zM15 20h1.08v1.08h-1.08zM0 21h1.08v1.08h-1.08zM2 21h1.08v1.08h-1.08zM6 21h1.08v1.08h-1.08zM8 21h1.08v1.08h-1.08zM11 21h2.08v1.08h-2.08zM14 21h3.08v1.08h-3.08zM18 21h1.08v1.08h-1.08zM21 21h2.08v1.08h-2.08zM24 21h2.08v1.08h-2.08zM7 22h3.08v1.08h-3.08zM11 22h1.08v1.08h-1.08zM22 22h1.08v1.08h-1.08zM24 22h1.08v1.08h-1.08zM0 23h2.08v1.08h-2.08zM3 23h2.08v1.08h-2.08zM7 23h1.08v1.08h-1.08zM9 23h1.08v1.08h-1.08zM12 23h1.08v1.08h-1.08zM17 23h1.08v1.08h-1.08zM22 23h1.08v1.08h-1.08zM24 23h2.08v1.08h-2.08zM4 24h1.08v1.08h-1.08zM7 24h2.08v1.08h-2.08zM11 24h1.08v1.08h-1.08zM17 24h1.08v1.08h-1.08zM21 24h5.08v1.08h-5.08zM0 25h5.08v1.08h-5.08zM6 25h2.08v1.08h-2.08zM13 25h1.08v1.08h-1.08zM15 25h1.08v1.08h-1.08zM17 25h6.08v1.08h-6.08zM24 25h2.08v1.08h-2.08zM4 26h1.08v1.08h-1.08zM8 26h1.08v1.08h-1.08zM13 26h1.08v1.08h-1.08zM16 26h2.08v1.08h-2.08zM22 26h1.08v1.08h-1.08zM13 27h1.08v1.08h-1.08zM22 27h1.08v1.08h-1.08zM0 28h3.08v1.08h-3.08zM4 28h1.08v1.08h-1.08zM6 28h3.08v1.08h-3.08zM10 28h1.08v1.08h-1.08zM15 28h4.08v1.08h-4.08zM20 28h1.08v1.08h-1.08zM23 28h3.08v1.08h-3.08zM0 29h3.08v1.08h-3.08zM8 29h2.08v1.08h-2.08zM12 29h14.08v1.08h-14.08zM0 30h1.08v1.08h-1.08zM2 30h3.08v1.08h-3.08zM6 30h1.08v1.08h-1.08zM8 30h1.08v1.08h-1.08zM11 30h2.08v1.08h-2.08zM17 30h2.08v1.08h-2.08zM22 30h1.08v1.08h-1.08zM24 30h2.08v1.08h-2.08zM0 31h4.08v1.08h-4.08zM6 31h3.08v1.08h-3.08zM11 31h2.08v1.08h-2.08zM15 31h2.08v1.08h-2.08zM18 31h1.08v1.08h-1.08zM20 31h1.08v1.08h-1.08zM23 31h2.08v1.08h-2.08zM0 32h1.08v1.08h-1.08zM3 32h4.08v1.08h-4.08zM8 32h2.08v1.08h-2.08zM13 32h1.08v1.08h-1.08zM15 32h2.08v1.08h-2.08zM21 32h4.08v1.08h-4.08zM7 33h2.08v1.08h-2.08zM12 33h1.08v1.08h-1.08zM16 33h2.08v1.08h-2.08zM20 33h1.08v1.08h-1.08zM22 33h2.08v1.08h-2.08zM25 33h1.08v1.08h-1.08zM0 34h8.08v1.08h-8.08zM10 34h4.08v1.08h-4.08zM15 34h11.08v1.08h-11.08zM0 35h8.08v1.08h-8.08zM12 35h2.08v1.08h-2.08zM15 35h11.08v1.08h-11.08zM0 36h5.08v1.08h-5.08zM6 36h3.08v1.08h-3.08zM15 36h1.08v1.08h-1.08zM17 36h4.08v1.08h-4.08zM22 36h1.08v1.08h-1.08zM24 36h2.08v1.08h-2.08zM1 37h1.08v1.08h-1.08zM7 37h1.08v1.08h-1.08zM11 37h2.08v1.08h-2.08zM16 37h2.08v1.08h-2.08zM19 37h1.08v1.08h-1.08zM21 37h4.08v1.08h-4.08zM0 38h1.08v1.08h-1.08zM2 38h3.08v1.08h-3.08zM7 38h10.08v1.08h-10.08zM18 38h1.08v1.08h-1.08zM20 38h6.08v1.08h-6.08zM12 39h2.08v1.08h-2.08zM16 39h1.08v1.08h-1.08zM19 39h1.08v1.08h-1.08zM23 39h2.08v1.08h-2.08zM0 40h4.08v1.08h-4.08zM8 40h7.08v1.08h-7.08zM21 40h1.08v1.08h-1.08zM23 40h3.08v1.08h-3.08zM0 41h1.08v1.08h-1.08zM2 41h3.08v1.08h-3.08zM6 41h1.08v1.08h-1.08zM8 41h1.08v1.08h-1.08zM10 41h2.08v1.08h-2.08zM13 41h2.08v1.08h-2.08zM16 41h1.08v1.08h-1.08zM18 41h1.08v1.08h-1.08zM23 41h3.08v1.08h-3.08zM0 42h1.08v1.08h-1.08zM2 42h3.08v1.08h-3.08zM6 42h3.08v1.08h-3.08zM10 42h10.08v1.08h-10.08zM21 42h5.08v1.08h-5.08zM0 43h1.08v1.08h-1.08zM2 43h2.08v1.08h-2.08zM6 43h6.08v1.08h-6.08zM13 43h1.08v1.08h-1.08zM15 43h1.08v1.08h-1.08zM20 43h1.08v1.08h-1.08zM22 43h4.08v1.08h-4.08zM1 44h2.08v1.08h-2.08zM5 44h1.08v1.08h-1.08zM11 44h1.08v1.08h-1.08zM15 44h1.08v1.08h-1.08zM19 44h1.08v1.08h-1.08zM2 45h1.08v1.08h-1.08zM5 45h1.08v1.08h-1.08zM10 45h4.08v1.08h-4.08zM17 45h1.08v1.08h-1.08zM23 45h1.08v1.08h-1.08zM0 46h10.08v1.08h-10.08zM11 46h2.08v1.08h-2.08zM14 46h12.08v1.08h-12.08zM3 47h1.08v1.08h-1.08zM11 47h1.08v1.08h-1.08zM16 47h1.08v1.08h-1.08zM19 47h1.08v1.08h-1.08zM0 48h1.08v1.08h-1.08zM6 48h1.08v1.08h-1.08zM8 48h2.08v1.08h-2.08zM15 48h1.08v1.08h-1.08zM19 48h2.08v1.08h-2.08zM22 48h1.08v1.08h-1.08zM24 48h1.08v1.08h-1.08zM3 49h1.08v1.08h-1.08zM5 49h1.08v1.08h-1.08zM11 49h1.08v1.08h-1.08zM14 49h1.08v1.08h-1.08zM16 49h1.08v1.08h-1.08zM19 49h1.08v1.08h-1.08zM23 49h1.08v1.08h-1.08zM1 50h1.08v1.08h-1.08zM3 50h1.08v1.08h-1.08zM9 50h2.08v1.08h-2.08zM12 50h1.08v1.08h-1.08zM19 50h1.08v1.08h-1.08zM22 50h1.08v1.08h-1.08zM25 50h1.08v1.08h-1.08z"/>
<path fill="#dcf0f5" d="M18 0h1.08v1.08h-1.08zM5 1h1.08v1.08h-1.08zM21 2h1.08v1.08h-1.08zM5 3h1.08v1.08h-1.08zM1 4h1.08v1.08h-1.08zM3 4h1.08v1.08h-1.08zM11 6h1.08v1.08h-1.08zM7 10h1.08v1.08h-1.08zM21 10h1.08v1.08h-1.08zM19 12h1.08v1.08h-1.08zM6 13h1.08v1.08h-1.08zM17 14h1.08v1.08h-1.08zM22 15h1.08v1.08h-1.08zM10 16h1.08v1.08h-1.08zM6 17h2.08v1.08h-2.08zM22 17h1.08v1.08h-1.08zM11 19h1.08v1.08h-1.08zM14 19h2.08v1.08h-2.08zM3 20h1.08v1.08h-1.08zM9 20h2.08v1.08h-2.08zM12 20h1.08v1.08h-1.08zM18 20h1.08v1.08h-1.08zM20 20h1.08v1.08h-1.08zM0 22h1.08v1.08h-1.08zM2 22h2.08v1.08h-2.08zM19 24h1.08v1.08h-1.08zM10 25h1.08v1.08h-1.08zM6 26h1.08v1.08h-1.08zM11 26h1.08v1.08h-1.08zM15 26h1.08v1.08h-1.08zM19 26h2.08v1.08h-2.08zM10 27h1.08v1.08h-1.08zM3 28h1.08v1.08h-1.08zM14 28h1.08v1.08h-1.08zM19 28h1.08v1.08h-1.08zM21 28h1.08v1.08h-1.08zM10 32h2.08v1.08h-2.08zM6 33h1.08v1.08h-1.08zM15 33h1.08v1.08h-1.08zM8 34h2.08v1.08h-2.08zM10 35h1.08v1.08h-1.08zM5 36h1.08v1.08h-1.08zM10 36h1.08v1.08h-1.08zM9 37h2.08v1.08h-2.08zM2 39h2.08v1.08h-2.08zM17 41h1.08v1.08h-1.08zM14 45h1.08v1.08h-1.08zM6 47h1.08v1.08h-1.08zM9 47h1.08v1.08h-1.08zM14 47h1.08v1.08h-1.08zM18 47h1.08v1.08h-1.08zM22 47h2.08v1.08h-2.08zM21 48h1.08v1.08h-1.08z"/>
<path fill="#f0c67a" d="M19 0h1.08v1.08h-1.08zM17 1h1.08v1.08h-1.08zM25 1h1.08v1.08h-1.08zM8 2h1.08v1.08h-1.08zM9 3h1.08v1.08h-1.08zM16 3h1.08v1.08h-1.08zM19 3h1.08v1.08h-1.08zM9 4h1.08v1.08h-1.08zM15 4h1.08v1.08h-1.08zM2 5h1.08v1.08h-1.08zM9 5h3.08v1.08h-3.08zM13 5h1.08v1.08h-1.08zM7 6h1.08v1.08h-1.08zM9 6h1.08v1.08h-1.08zM19 6h1.08v1.08h-1.08zM2 9h1.08v1.08h-1.08zM8 9h2.08v1.08h-2.08zM11 9h1.08v1.08h-1.08zM7 11h1.08v1.08h-1.08zM2 12h1.08v1.08h-1.08zM9 12h4.08v1.08h-4.08zM17 12h1.08v1.08h-1.08zM1 14h1.08v1.08h-1.08zM2 15h1.08v1.08h-1.08zM0 16h1.08v1.08h-1.08zM2 16h1.08v1.08h-1.08zM4 16h1.08v1.08h-1.08zM16 16h1.08v1.08h-1.08zM3 19h2.08v1.08h-2.08zM6 19h1.08v1.08h-1.08zM16 19h1.08v1.08h-1.08zM23 20h1.08v1.08h-1.08zM23 22h1.08v1.08h-1.08zM25 22h1.08v1.08h-1.08zM15 23h1.08v1.08h-1.08zM18 23h1.08v1.08h-1.08zM21 23h1.08v1.08h-1.08zM9 25h1.08v1.08h-1.08zM12 25h1.08v1.08h-1.08zM23 26h1.08v1.08h-1.08zM3 27h1.08v1.08h-1.08zM5 27h1.08v1.08h-1.08zM19 27h1.08v1.08h-1.08zM13 30h1.08v1.08h-1.08zM15 37h1.08v1.08h-1.08zM18 37h1.08v1.08h-1.08zM25 39h1.08v1.08h-1.08zM20 42h1.08v1.08h-1.08zM0 44h1.08v1.08h-1.08zM4 44h1.08v1.08h-1.08zM12 44h1.08v1.08h-1.08zM17 44h1.08v1.08h-1.08zM20 44h1.08v1.08h-1.08zM24 44h1.08v1.08h-1.08zM6 45h1.08v1.08h-1.08zM15 45h2.08v1.08h-2.08zM4 47h1.08v1.08h-1.08zM8 47h1.08v1.08h-1.08zM16 48h1.08v1.08h-1.08zM23 48h1.08v1.08h-1.08zM1 49h1.08v1.08h-1.08zM25 49h1.08v1.08h-1.08zM6 50h1.08v1.08h-1.08zM15 50h1.08v1.08h-1.08zM17 50h1.08v1.08h-1.08zM21 50h1.08v1.08h-1.08z"/>
<path fill="#a81628" d="M0 1h1.08v1.08h-1.08zM2 1h1.08v1.08h-1.08zM5 12h1.08v1.08h-1.08zM18 13h1.08v1.08h-1.08zM7 15h1.08v1.08h-1.08zM10 15h1.08v1.08h-1.08zM16 15h1.08v1.08h-1.08zM19 15h2.08v1.08h-2.08zM21 27h1.08v1.08h-1.08z"/>
<path fill="#ec6c46" d="M1 1h1.08v1.08h-1.08zM5 10h1.08v1.08h-1.08zM7 12h1.08v1.08h-1.08zM12 15h3.08v1.08h-3.08zM21 15h1.08v1.08h-1.08zM6 16h1.08v1.08h-1.08zM1 27h1.08v1.08h-1.08zM15 27h1.08v1.08h-1.08zM20 27h1.08v1.08h-1.08zM10 39h1.08v1.08h-1.08z"/>
<path fill="#f5e298" d="M3 1h2.08v1.08h-2.08zM8 1h1.08v1.08h-1.08zM10 1h1.08v1.08h-1.08zM12 1h5.08v1.08h-5.08zM18 1h1.08v1.08h-1.08zM22 1h3.08v1.08h-3.08zM2 2h1.08v1.08h-1.08zM7 2h1.08v1.08h-1.08zM14 2h1.08v1.08h-1.08zM18 2h1.08v1.08h-1.08zM25 2h1.08v1.08h-1.08zM0 3h1.08v1.08h-1.08zM3 3h2.08v1.08h-2.08zM7 3h2.08v1.08h-2.08zM11 3h1.08v1.08h-1.08zM14 3h2.08v1.08h-2.08zM17 3h2.08v1.08h-2.08zM20 3h1.08v1.08h-1.08zM24 3h2.08v1.08h-2.08zM11 4h1.08v1.08h-1.08zM18 4h1.08v1.08h-1.08zM20 4h2.08v1.08h-2.08zM6 5h1.08v1.08h-1.08zM14 5h1.08v1.08h-1.08zM22 5h2.08v1.08h-2.08zM5 6h1.08v1.08h-1.08zM17 6h1.08v1.08h-1.08zM11 7h1.08v1.08h-1.08zM19 7h1.08v1.08h-1.08zM2 8h1.08v1.08h-1.08zM5 8h1.08v1.08h-1.08zM8 8h2.08v1.08h-2.08zM13 8h1.08v1.08h-1.08zM16 8h1.08v1.08h-1.08zM18 8h1.08v1.08h-1.08zM20 8h1.08v1.08h-1.08zM25 8h1.08v1.08h-1.08zM16 9h1.08v1.08h-1.08zM18 9h1.08v1.08h-1.08zM23 9h1.08v1.08h-1.08zM25 9h1.08v1.08h-1.08zM2 10h1.08v1.08h-1.08zM8 10h2.08v1.08h-2.08zM11 10h1.08v1.08h-1.08zM13 10h1.08v1.08h-1.08zM19 10h1.08v1.08h-1.08zM25 10h1.08v1.08h-1.08zM1 11h1.08v1.08h-1.08zM5 11h1.08v1.08h-1.08zM8 11h1.08v1.08h-1.08zM19 11h1.08v1.08h-1.08zM8 12h1.08v1.08h-1.08zM13 12h2.08v1.08h-2.08zM23 12h1.08v1.08h-1.08zM11 13h1.08v1.08h-1.08zM17 13h1.08v1.08h-1.08zM4 14h1.08v1.08h-1.08zM15 14h1.08v1.08h-1.08zM18 14h1.08v1.08h-1.08zM0 15h1.08v1.08h-1.08zM5 15h1.08v1.08h-1.08zM3 16h1.08v1.08h-1.08zM18 16h1.08v1.08h-1.08zM17 17h1.08v1.08h-1.08zM6 18h1.08v1.08h-1.08zM8 18h2.08v1.08h-2.08zM11 18h1.08v1.08h-1.08zM17 18h1.08v1.08h-1.08zM20 18h2.08v1.08h-2.08zM12 19h1.08v1.08h-1.08zM25 19h1.08v1.08h-1.08zM5 21h1.08v1.08h-1.08zM13 21h1.08v1.08h-1.08zM23 21h1.08v1.08h-1.08zM16 22h3.08v1.08h-3.08zM16 23h1.08v1.08h-1.08zM23 23h1.08v1.08h-1.08zM5 24h1.08v1.08h-1.08zM9 24h1.08v1.08h-1.08zM13 24h1.08v1.08h-1.08zM8 25h1.08v1.08h-1.08zM16 25h1.08v1.08h-1.08zM12 26h1.08v1.08h-1.08zM18 26h1.08v1.08h-1.08zM25 26h1.08v1.08h-1.08zM0 27h1.08v1.08h-1.08zM16 27h1.08v1.08h-1.08zM18 27h1.08v1.08h-1.08zM5 29h1.08v1.08h-1.08zM7 29h1.08v1.08h-1.08zM13 31h1.08v1.08h-1.08zM0 37h1.08v1.08h-1.08zM13 37h1.08v1.08h-1.08zM20 37h1.08v1.08h-1.08zM25 37h1.08v1.08h-1.08zM19 38h1.08v1.08h-1.08zM11 39h1.08v1.08h-1.08zM5 40h1.08v1.08h-1.08zM19 40h1.08v1.08h-1.08zM5 41h1.08v1.08h-1.08zM19 41h1.08v1.08h-1.08zM1 42h1.08v1.08h-1.08zM16 43h1.08v1.08h-1.08zM6 44h2.08v1.08h-2.08zM18 44h1.08v1.08h-1.08zM20 45h1.08v1.08h-1.08zM25 45h1.08v1.08h-1.08zM0 47h1.08v1.08h-1.08zM13 47h1.08v1.08h-1.08zM15 47h1.08v1.08h-1.08zM12 48h1.08v1.08h-1.08zM17 48h1.08v1.08h-1.08zM25 48h1.08v1.08h-1.08zM0 49h1.08v1.08h-1.08zM4 49h1.08v1.08h-1.08zM8 49h1.08v1.08h-1.08zM15 49h1.08v1.08h-1.08zM0 50h1.08v1.08h-1.08zM4 50h1.08v1.08h-1.08zM7 50h1.08v1.08h-1.08zM16 50h1.08v1.08h-1.08zM20 50h1.08v1.08h-1.08zM23 50h2.08v1.08h-2.08z"/>
<path fill="#ee8c55" d="M6 1h1.08v1.08h-1.08zM2 6h1.08v1.08h-1.08zM13 6h1.08v1.08h-1.08zM5 9h1.08v1.08h-1.08zM2 11h1.08v1.08h-1.08zM9 11h1.08v1.08h-1.08zM20 12h1.08v1.08h-1.08zM5 13h1.08v1.08h-1.08zM3 15h1.08v1.08h-1.08zM8 15h1.08v1.08h-1.08zM17 15h2.08v1.08h-2.08zM24 15h2.08v1.08h-2.08zM7 16h1.08v1.08h-1.08zM15 16h1.08v1.08h-1.08zM14 18h1.08v1.08h-1.08zM13 19h1.08v1.08h-1.08zM19 21h1.08v1.08h-1.08zM14 24h1.08v1.08h-1.08zM2 27h1.08v1.08h-1.08zM4 27h1.08v1.08h-1.08zM23 27h2.08v1.08h-2.08zM9 35h1.08v1.08h-1.08zM4 43h1.08v1.08h-1.08zM18 43h1.08v1.08h-1.08zM8 44h2.08v1.08h-2.08zM14 44h1.08v1.08h-1.08zM9 45h1.08v1.08h-1.08zM25 47h1.08v1.08h-1.08zM17 49h1.08v1.08h-1.08zM18 50h1.08v1.08h-1.08z"/>
<path fill="#e44e37" d="M7 1h1.08v1.08h-1.08zM5 4h1.08v1.08h-1.08zM6 15h1.08v1.08h-1.08zM23 19h1.08v1.08h-1.08zM19 43h1.08v1.08h-1.08zM25 44h1.08v1.08h-1.08zM2 47h1.08v1.08h-1.08zM17 47h1.08v1.08h-1.08z"/>
<path fill="#f0af69" d="M11 1h1.08v1.08h-1.08zM5 2h1.08v1.08h-1.08zM9 2h1.08v1.08h-1.08zM19 2h1.08v1.08h-1.08zM2 3h1.08v1.08h-1.08zM25 5h1.08v1.08h-1.08zM1 6h1.08v1.08h-1.08zM19 9h1.08v1.08h-1.08zM24 12h1.08v1.08h-1.08zM10 13h1.08v1.08h-1.08zM4 15h1.08v1.08h-1.08zM9 15h1.08v1.08h-1.08zM15 15h1.08v1.08h-1.08zM1 16h1.08v1.08h-1.08zM20 16h1.08v1.08h-1.08zM7 27h1.08v1.08h-1.08zM5 38h1.08v1.08h-1.08zM5 39h1.08v1.08h-1.08zM5 42h1.08v1.08h-1.08zM9 42h1.08v1.08h-1.08zM3 44h1.08v1.08h-1.08zM10 44h1.08v1.08h-1.08zM13 44h1.08v1.08h-1.08zM22 44h2.08v1.08h-2.08zM1 47h1.08v1.08h-1.08zM10 47h1.08v1.08h-1.08zM2 49h1.08v1.08h-1.08zM10 49h1.08v1.08h-1.08z"/>
<path fill="#5a8cc8" d="M21 1h1.08v1.08h-1.08zM19 5h1.08v1.08h-1.08zM22 12h1.08v1.08h-1.08zM14 20h1.08v1.08h-1.08zM19 20h1.08v1.08h-1.08zM14 27h1.08v1.08h-1.08zM14 34h1.08v1.08h-1.08zM14 36h1.08v1.08h-1.08zM1 39h1.08v1.08h-1.08zM6 39h1.08v1.08h-1.08zM21 43h1.08v1.08h-1.08z"/>
<path fill="#73aad2" d="M6 2h1.08v1.08h-1.08zM6 6h1.08v1.08h-1.08zM6 9h1.08v1.08h-1.08zM3 10h1.08v1.08h-1.08zM5 17h1.08v1.08h-1.08zM21 17h1.08v1.08h-1.08zM21 20h1.08v1.08h-1.08zM10 22h1.08v1.08h-1.08z"/>
<path fill="#323796" d="M6 3h1.08v1.08h-1.08zM5 19h1.08v1.08h-1.08zM21 45h1.08v1.08h-1.08zM5 47h1.08v1.08h-1.08zM21 47h1.08v1.08h-1.08z"/>
<path fill="#8cc0e0" d="M17 4h1.08v1.08h-1.08zM20 13h1.08v1.08h-1.08zM14 17h1.08v1.08h-1.08zM19 18h1.08v1.08h-1.08zM5 20h1.08v1.08h-1.08zM11 20h1.08v1.08h-1.08zM5 22h2.08v1.08h-2.08zM14 22h1.08v1.08h-1.08zM19 22h1.08v1.08h-1.08zM5 23h1.08v1.08h-1.08zM14 23h1.08v1.08h-1.08zM1 26h1.08v1.08h-1.08zM10 26h1.08v1.08h-1.08zM14 26h1.08v1.08h-1.08zM21 26h1.08v1.08h-1.08zM14 33h1.08v1.08h-1.08zM17 43h1.08v1.08h-1.08zM21 44h1.08v1.08h-1.08zM19 45h1.08v1.08h-1.08z"/>
<path fill="#c3e4f0" d="M6 8h1.08v1.08h-1.08zM6 11h1.08v1.08h-1.08zM0 12h1.08v1.08h-1.08zM0 13h2.08v1.08h-2.08zM22 13h1.08v1.08h-1.08zM14 14h1.08v1.08h-1.08zM11 16h1.08v1.08h-1.08zM14 16h1.08v1.08h-1.08zM1 17h1.08v1.08h-1.08zM8 17h2.08v1.08h-2.08zM11 17h1.08v1.08h-1.08zM2 20h1.08v1.08h-1.08zM13 20h1.08v1.08h-1.08zM16 20h1.08v1.08h-1.08zM22 20h1.08v1.08h-1.08zM10 21h1.08v1.08h-1.08zM8 23h1.08v1.08h-1.08zM10 23h1.08v1.08h-1.08zM9 28h1.08v1.08h-1.08zM13 28h1.08v1.08h-1.08zM21 30h1.08v1.08h-1.08zM19 32h1.08v1.08h-1.08zM1 33h1.08v1.08h-1.08zM21 33h1.08v1.08h-1.08zM14 37h1.08v1.08h-1.08zM0 39h1.08v1.08h-1.08zM20 39h1.08v1.08h-1.08zM3 45h1.08v1.08h-1.08zM7 45h1.08v1.08h-1.08zM7 47h1.08v1.08h-1.08zM20 47h1.08v1.08h-1.08zM5 48h1.08v1.08h-1.08zM10 48h2.08v1.08h-2.08zM9 49h1.08v1.08h-1.08zM11 50h1.08v1.08h-1.08z"/>
<path fill="#aad6eb" d="M1 12h1.08v1.08h-1.08zM7 20h1.08v1.08h-1.08zM15 22h1.08v1.08h-1.08zM5 30h1.08v1.08h-1.08zM19 30h1.08v1.08h-1.08zM19 31h1.08v1.08h-1.08zM14 32h1.08v1.08h-1.08zM10 33h1.08v1.08h-1.08zM22 45h1.08v1.08h-1.08zM20 49h1.08v1.08h-1.08z"/>
<path fill="#d73028" d="M18 12h1.08v1.08h-1.08zM11 15h1.08v1.08h-1.08zM23 15h1.08v1.08h-1.08zM21 16h1.08v1.08h-1.08zM6 27h1.08v1.08h-1.08z"/>
<path fill="#3a50a8" d="M19 19h1.08v1.08h-1.08zM21 49h1.08v1.08h-1.08z"/>
<path fill="#4670b4" d="M1 22h1.08v1.08h-1.08zM21 22h1.08v1.08h-1.08z"/>
</g>
<line x1="470.48" y1="343.6" x2="470.48" y2="723.55" stroke="#fff" stroke-width="1.0" opacity="0.8"/>
<line x1="470.48" y1="343.6" x2="470.48" y2="723.55" stroke="#1a1a1a" stroke-width="0.9" stroke-dasharray="5.1,1.2"/>
<line x1="521.65" y1="343.6" x2="521.65" y2="723.55" stroke="#fff" stroke-width="1.0" opacity="0.8"/>
<line x1="521.65" y1="343.6" x2="521.65" y2="723.55" stroke="#1a1a1a" stroke-width="0.9" stroke-dasharray="5.1,1.2"/>
<line x1="572.82" y1="343.6" x2="572.82" y2="723.55" stroke="#fff" stroke-width="1.0" opacity="0.8"/>
<line x1="572.82" y1="343.6" x2="572.82" y2="723.55" stroke="#1a1a1a" stroke-width="0.9" stroke-dasharray="5.1,1.2"/>
<line x1="412.00" y1="343.6" x2="412.00" y2="723.55" stroke="#111" stroke-width="1.3"/>
<line x1="602.06" y1="343.6" x2="602.06" y2="723.55" stroke="#111" stroke-width="1.3"/>
<rect x="412.00" y="334.5" width="58.48" height="9.1" fill="#58aee8"/>
<text x="441.24" y="341.8" font-size="6.85" text-anchor="middle" fill="#222">Epithelial cells</text>
<rect x="470.48" y="334.5" width="51.17" height="9.1" fill="#7ccb64"/>
<text x="496.06" y="341.8" font-size="6.85" text-anchor="middle" fill="#222">Immune cells</text>
<rect x="521.65" y="334.5" width="51.17" height="9.1" fill="#8d99d0"/>
<text x="547.24" y="341.8" font-size="6.85" text-anchor="middle" fill="#222">Fibroblasts</text>
<rect x="572.82" y="334.5" width="29.24" height="9.1" fill="#eba1d1"/>
<text x="587.44" y="341.8" font-size="6.85" text-anchor="middle" fill="#222">Neurons</text>
<text transform="translate(413.55,724.6) rotate(90)" font-size="6.1" fill="#222">Basal epithelial cells</text>
<text transform="translate(420.86,724.6) rotate(90)" font-size="6.1" fill="#222">Club cells</text>
<text transform="translate(428.17,724.6) rotate(90)" font-size="6.1" fill="#222">Goblet cells</text>
<text transform="translate(435.48,724.6) rotate(90)" font-size="6.1" fill="#222">Microfold cells</text>
<text transform="translate(442.79,724.6) rotate(90)" font-size="6.1" fill="#222">Ionocytes</text>
<text transform="translate(450.10,724.6) rotate(90)" font-size="6.1" fill="#222">Ciliated epithelial cells</text>
<text transform="translate(457.41,724.6) rotate(90)" font-size="6.1" fill="#222">Muc2+ Cyp2g1+ olfactory epithelial cells</text>
<text transform="translate(464.72,724.6) rotate(90)" font-size="6.1" fill="#222">Tuba1b+ Hist1h1b+ Birc5+ olfactory epithelial cells</text>
<text transform="translate(472.03,724.6) rotate(90)" font-size="6.1" fill="#222">Macrophages</text>
<text transform="translate(479.34,724.6) rotate(90)" font-size="6.1" fill="#222">Dendritic cells or monocytes</text>
<text transform="translate(486.65,724.6) rotate(90)" font-size="6.1" fill="#222">Neutrophils</text>
<text transform="translate(493.96,724.6) rotate(90)" font-size="6.1" fill="#222">Basophilic granulocytes</text>
<text transform="translate(501.27,724.6) rotate(90)" font-size="6.1" fill="#222">Eosinophilic granulocytes</text>
<text transform="translate(508.58,724.6) rotate(90)" font-size="6.1" fill="#222">T cells</text>
<text transform="translate(515.89,724.6) rotate(90)" font-size="6.1" fill="#222">B cells</text>
<text transform="translate(523.20,724.6) rotate(90)" font-size="6.1" fill="#222">Fibroblasts 1</text>
<text transform="translate(530.51,724.6) rotate(90)" font-size="6.1" fill="#222">Fibroblasts 2</text>
<text transform="translate(537.82,724.6) rotate(90)" font-size="6.1" fill="#222">Fibroblasts 3</text>
<text transform="translate(545.13,724.6) rotate(90)" font-size="6.1" fill="#222">Myofibroblasts</text>
<text transform="translate(552.44,724.6) rotate(90)" font-size="6.1" fill="#222">Pip1+ Fabp7+ Mpz+ cells</text>
<text transform="translate(559.75,724.6) rotate(90)" font-size="6.1" fill="#222">Blood endothelial cells</text>
<text transform="translate(567.06,724.6) rotate(90)" font-size="6.1" fill="#222">Col21a+ Nmm1+ Gng11+ cells</text>
<text transform="translate(574.38,724.6) rotate(90)" font-size="6.1" fill="#222">Mitral tufted cells</text>
<text transform="translate(581.68,724.6) rotate(90)" font-size="6.1" fill="#222">Immature rostral migratory neurons</text>
<text transform="translate(589.00,724.6) rotate(90)" font-size="6.1" fill="#222">Immature olfactory sensory neurons</text>
<text transform="translate(596.30,724.6) rotate(90)" font-size="6.1" fill="#222">Olfactory sensory neurons</text>
<path d="M218 375.6 L222 375 L230.3 375.1 L230.3 377.6 L222 377.9 L218 377.8Z M221 408.5 L228.8 407.4 L228.8 410.5 L222 410.8 L221 411.6Z" fill="#fff"/>
<text x="604.3" y="349.53" font-size="6.2" fill="#222">Camk1d</text>
<text x="604.3" y="356.98" font-size="6.2" fill="#222">Chil4</text>
<text x="604.3" y="364.43" font-size="6.2" fill="#222">Ly6e</text>
<text x="604.3" y="371.88" font-size="6.2" fill="#222">Ifi27l2a</text>
<text x="604.3" y="379.32" font-size="6.2" fill="#222">Clu</text>
<text x="604.3" y="386.78" font-size="6.2" fill="#222">Anxa1</text>
<text x="604.3" y="394.23" font-size="6.2" fill="#222">Isg15</text>
<text x="604.3" y="401.68" font-size="6.2" fill="#222">Psme2</text>
<text x="604.3" y="409.12" font-size="6.2" fill="#222">Ly6a</text>
<text x="604.3" y="416.57" font-size="6.2" fill="#222">Ifitm3</text>
<text x="604.3" y="424.03" font-size="6.2" fill="#222">Ly6d</text>
<text x="604.3" y="431.48" font-size="6.2" fill="#222">Irf7</text>
<text x="604.3" y="438.93" font-size="6.2" fill="#222">Ltf</text>
<text x="604.3" y="446.38" font-size="6.2" fill="#222">Pglyrp1</text>
<text x="604.3" y="453.82" font-size="6.2" fill="#222">Sat1</text>
<text x="604.3" y="461.28" font-size="6.2" fill="#222">Wfdc18</text>
<text x="604.3" y="468.73" font-size="6.2" fill="#222">Zfp36</text>
<text x="604.3" y="476.18" font-size="6.2" fill="#222">Ccrl2</text>
<text x="604.3" y="483.63" font-size="6.2" fill="#222">Ucp2</text>
<text x="604.3" y="491.07" font-size="6.2" fill="#222">Ccl4</text>
<text x="604.3" y="498.53" font-size="6.2" fill="#222">Il1b</text>
<text x="604.3" y="505.98" font-size="6.2" fill="#222">Cst3</text>
<text x="604.3" y="513.43" font-size="6.2" fill="#222">Cd74</text>
<text x="604.3" y="520.88" font-size="6.2" fill="#222">Cebpb</text>
<text x="604.3" y="528.33" font-size="6.2" fill="#222">Lgals9</text>
<text x="604.3" y="535.78" font-size="6.2" fill="#222">Ccl6</text>
<text x="604.3" y="543.23" font-size="6.2" fill="#222">H2-Aa</text>
<text x="604.3" y="550.68" font-size="6.2" fill="#222">Fos</text>
<text x="604.3" y="558.13" font-size="6.2" fill="#222">Il1r2</text>
<text x="604.3" y="565.58" font-size="6.2" fill="#222">Laptm5</text>
<text x="604.3" y="573.03" font-size="6.2" fill="#222">Tyrobp</text>
<text x="604.3" y="580.48" font-size="6.2" fill="#222">Fcer1g</text>
<text x="604.3" y="587.93" font-size="6.2" fill="#222">Ctss</text>
<text x="604.3" y="595.38" font-size="6.2" fill="#222">H2-Eb1</text>
<text x="604.3" y="602.83" font-size="6.2" fill="#222">Ccr7</text>
<text x="604.3" y="610.28" font-size="6.2" fill="#222">Ly6c2</text>
<text x="604.3" y="617.73" font-size="6.2" fill="#222">Cd83</text>
<text x="604.3" y="625.18" font-size="6.2" fill="#222">Litaf</text>
<text x="604.3" y="632.62" font-size="6.2" fill="#222">Muc1</text>
<text x="604.3" y="640.08" font-size="6.2" fill="#222">Lcn2</text>
<text x="604.3" y="647.53" font-size="6.2" fill="#222">Serping1</text>
<text x="604.3" y="654.98" font-size="6.2" fill="#222">Serpinf1</text>
<text x="604.3" y="662.43" font-size="6.2" fill="#222">Ly6c1</text>
<text x="604.3" y="669.88" font-size="6.2" fill="#222">Apod</text>
<text x="604.3" y="677.33" font-size="6.2" fill="#222">Reg3g</text>
<text x="604.3" y="684.78" font-size="6.2" fill="#222">Bpifa1</text>
<text x="604.3" y="692.23" font-size="6.2" fill="#222">AA467197</text>
<text x="604.3" y="699.68" font-size="6.2" fill="#222">S100a9</text>
<text x="604.3" y="707.12" font-size="6.2" fill="#222">Ccl3</text>
<text x="604.3" y="714.58" font-size="6.2" fill="#222">S100a8</text>
<text x="604.3" y="722.03" font-size="6.2" fill="#222">Gadd45b</text>
<path d="M629.8 354.78 L639.6 351.28 L636.6 354.78 L639.6 358.28 Z" fill="#f0a048"/>
<path d="M629.8 436.73 L639.6 433.23 L636.6 436.73 L639.6 440.23 Z" fill="#f0a048"/>
<path d="M629.8 459.08 L639.6 455.58 L636.6 459.08 L639.6 462.58 Z" fill="#f0a048"/>
<path d="M629.8 466.53 L639.6 463.03 L636.6 466.53 L639.6 470.03 Z" fill="#f0a048"/>
<path d="M629.8 473.98 L639.6 470.48 L636.6 473.98 L639.6 477.48 Z" fill="#9a5fe0"/>
<path d="M629.8 496.33 L639.6 492.83 L636.6 496.33 L639.6 499.83 Z" fill="#9a5fe0"/>
<path d="M629.8 511.23 L639.6 507.73 L636.6 511.23 L639.6 514.73 Z" fill="#9a5fe0"/>
<path d="M629.8 541.03 L639.6 537.53 L636.6 541.03 L639.6 544.53 Z" fill="#9a5fe0"/>
<path d="M629.8 548.48 L639.6 544.98 L636.6 548.48 L639.6 551.98 Z" fill="#f0a048"/>
<path d="M629.8 593.18 L639.6 589.68 L636.6 593.18 L639.6 596.68 Z" fill="#9a5fe0"/>
<path d="M629.8 675.12 L639.6 671.62 L636.6 675.12 L639.6 678.62 Z" fill="#f0a048"/>
<defs><linearGradient id="cb" x1="0" y1="0" x2="0" y2="1"><stop offset="0.0" stop-color="#a50026"/><stop offset="0.1" stop-color="#d73027"/><stop offset="0.2" stop-color="#f46d43"/><stop offset="0.3" stop-color="#fdae61"/><stop offset="0.4" stop-color="#fee090"/><stop offset="0.5" stop-color="#ffffbf"/><stop offset="0.6" stop-color="#e0f3f8"/><stop offset="0.7" stop-color="#abd9e9"/><stop offset="0.8" stop-color="#74add1"/><stop offset="0.9" stop-color="#4575b4"/><stop offset="1.0" stop-color="#313695"/></linearGradient></defs>
<rect x="662.1" y="659.7" width="4.7" height="63" fill="url(#cb)"/>
<text x="668.2" y="661.8" font-size="4.5" fill="#222" style="stroke-width:0.1px">2</text>
<text x="668.2" y="677.5" font-size="4.5" fill="#222" style="stroke-width:0.1px">1</text>
<text x="668.2" y="693.3" font-size="4.5" fill="#222" style="stroke-width:0.1px">0</text>
<text x="668.2" y="709.0" font-size="4.5" fill="#222" style="stroke-width:0.1px">−1</text>
<text x="668.2" y="724.7" font-size="4.5" fill="#222" style="stroke-width:0.1px">−2</text>
<text x="654.3" y="654" font-size="6.2" fill="#222">Log<tspan font-size="4.2" dy="1.2">2</tspan><tspan dy="-1.2"> FC</tspan></text>
<text x="651.9" y="737.2" font-size="6.94" fill="#222">*P &lt; 0.05</text>
</svg></body></html>
